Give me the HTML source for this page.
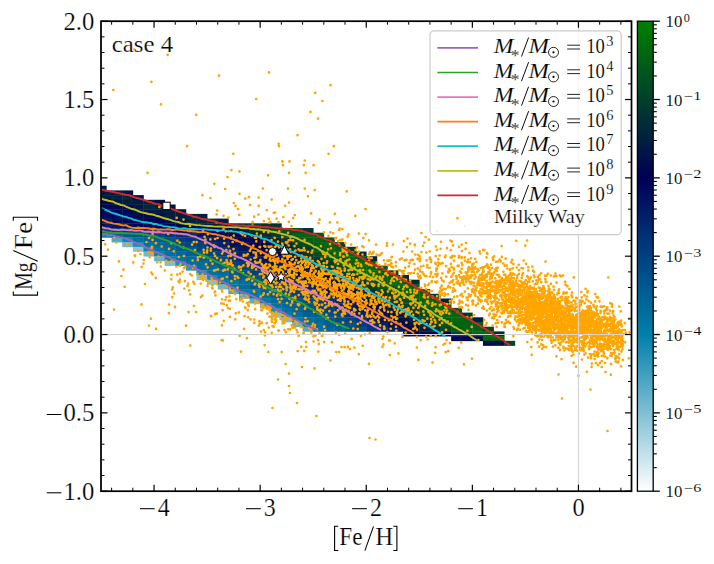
<!DOCTYPE html>
<html><head><meta charset="utf-8"><title>chart</title><style>html,body{margin:0;padding:0;background:#fff;}body{width:714px;height:564px;overflow:hidden;position:relative;font-family:"Liberation Serif",serif;}text{stroke:#fff;stroke-width:.22px}.lg text{stroke-width:.14px}.cbl{stroke-width:.1px}</style></head><body>
<svg width="714" height="564" viewBox="0 0 714 564" style="position:absolute;left:0;top:0;font-family:'Liberation Serif',serif">
<rect width="714" height="564" fill="#fff"/>
<g>
<rect x="101.00" y="185.70" width="5.65" height="5.05" fill="#001845"/>
<rect x="101.00" y="190.40" width="10.96" height="5.05" fill="#001e41"/>
<rect x="101.00" y="195.10" width="10.96" height="5.05" fill="#001845"/>
<rect x="101.00" y="199.80" width="10.96" height="5.05" fill="#000d4d"/>
<rect x="101.00" y="204.50" width="10.96" height="5.05" fill="#000256"/>
<rect x="101.00" y="209.20" width="10.96" height="5.05" fill="#00075a"/>
<rect x="101.00" y="213.90" width="10.96" height="5.05" fill="#000b5d"/>
<rect x="101.00" y="218.60" width="10.96" height="5.05" fill="#001664"/>
<rect x="101.00" y="223.30" width="10.96" height="5.05" fill="#001f6a"/>
<rect x="101.00" y="228.00" width="10.96" height="5.05" fill="#004382"/>
<rect x="101.00" y="232.70" width="10.96" height="5.05" fill="#0b85ae"/>
<rect x="111.61" y="190.40" width="10.96" height="5.05" fill="#001f41"/>
<rect x="111.61" y="195.10" width="10.96" height="5.05" fill="#00223e"/>
<rect x="111.61" y="199.80" width="10.96" height="5.05" fill="#001348"/>
<rect x="111.61" y="204.50" width="10.96" height="5.05" fill="#000850"/>
<rect x="111.61" y="209.20" width="10.96" height="5.05" fill="#000659"/>
<rect x="111.61" y="213.90" width="10.96" height="5.05" fill="#000659"/>
<rect x="111.61" y="218.60" width="10.96" height="5.05" fill="#000c5d"/>
<rect x="111.61" y="223.30" width="10.96" height="5.05" fill="#001765"/>
<rect x="111.61" y="228.00" width="10.96" height="5.05" fill="#003c7d"/>
<rect x="111.61" y="232.70" width="10.96" height="5.05" fill="#006699"/>
<rect x="111.61" y="237.40" width="10.96" height="5.05" fill="#50a8c5"/>
<rect x="122.22" y="190.40" width="10.96" height="5.05" fill="#001249"/>
<rect x="122.22" y="195.10" width="10.96" height="5.05" fill="#00283b"/>
<rect x="122.22" y="199.80" width="10.96" height="5.05" fill="#001d42"/>
<rect x="122.22" y="204.50" width="10.96" height="5.05" fill="#000b4d"/>
<rect x="122.22" y="209.20" width="10.96" height="5.05" fill="#000552"/>
<rect x="122.22" y="213.90" width="10.96" height="5.05" fill="#000c5d"/>
<rect x="122.22" y="218.60" width="10.96" height="5.05" fill="#000659"/>
<rect x="122.22" y="223.30" width="10.96" height="5.05" fill="#001160"/>
<rect x="122.22" y="228.00" width="10.96" height="5.05" fill="#003578"/>
<rect x="122.22" y="232.70" width="10.96" height="5.05" fill="#005d93"/>
<rect x="122.22" y="237.40" width="10.96" height="5.05" fill="#0f87af"/>
<rect x="122.22" y="242.10" width="10.96" height="5.05" fill="#6fb7cf"/>
<rect x="132.83" y="195.10" width="10.96" height="5.05" fill="#001348"/>
<rect x="132.83" y="199.80" width="10.96" height="5.05" fill="#001d41"/>
<rect x="132.83" y="204.50" width="10.96" height="5.05" fill="#001646"/>
<rect x="132.83" y="209.20" width="10.96" height="5.05" fill="#001547"/>
<rect x="132.83" y="213.90" width="10.96" height="5.05" fill="#000b4e"/>
<rect x="132.83" y="218.60" width="10.96" height="5.05" fill="#00085a"/>
<rect x="132.83" y="223.30" width="10.96" height="5.05" fill="#000a5c"/>
<rect x="132.83" y="228.00" width="10.96" height="5.05" fill="#002d73"/>
<rect x="132.83" y="232.70" width="10.96" height="5.05" fill="#005990"/>
<rect x="132.83" y="237.40" width="10.96" height="5.05" fill="#0070a0"/>
<rect x="132.83" y="242.10" width="10.96" height="5.05" fill="#1c8eb3"/>
<rect x="132.83" y="246.80" width="10.96" height="5.05" fill="#89c4d8"/>
<rect x="143.44" y="199.80" width="10.96" height="5.05" fill="#00213f"/>
<rect x="143.44" y="204.50" width="10.96" height="5.05" fill="#00283a"/>
<rect x="143.44" y="209.20" width="10.96" height="5.05" fill="#001746"/>
<rect x="143.44" y="213.90" width="10.96" height="5.05" fill="#000850"/>
<rect x="143.44" y="218.60" width="10.96" height="5.05" fill="#000651"/>
<rect x="143.44" y="223.30" width="10.96" height="5.05" fill="#000a5c"/>
<rect x="143.44" y="228.00" width="10.96" height="5.05" fill="#00236c"/>
<rect x="143.44" y="232.70" width="10.96" height="5.05" fill="#00538d"/>
<rect x="143.44" y="237.40" width="10.96" height="5.05" fill="#006397"/>
<rect x="143.44" y="242.10" width="10.96" height="5.05" fill="#0071a1"/>
<rect x="143.44" y="246.80" width="10.96" height="5.05" fill="#0f87af"/>
<rect x="143.44" y="251.50" width="10.96" height="5.05" fill="#70b8cf"/>
<rect x="154.05" y="199.80" width="10.96" height="5.05" fill="#00114a"/>
<rect x="154.05" y="204.50" width="10.96" height="5.05" fill="#00243d"/>
<rect x="154.05" y="209.20" width="10.96" height="5.05" fill="#001c42"/>
<rect x="154.05" y="213.90" width="10.96" height="5.05" fill="#000a4f"/>
<rect x="154.05" y="218.60" width="10.96" height="5.05" fill="#000452"/>
<rect x="154.05" y="223.30" width="10.96" height="5.05" fill="#000156"/>
<rect x="154.05" y="228.00" width="10.96" height="5.05" fill="#001d68"/>
<rect x="154.05" y="232.70" width="10.96" height="5.05" fill="#004684"/>
<rect x="154.05" y="237.40" width="10.96" height="5.05" fill="#005f94"/>
<rect x="154.05" y="242.10" width="10.96" height="5.05" fill="#006a9c"/>
<rect x="154.05" y="246.80" width="10.96" height="5.05" fill="#0073a1"/>
<rect x="154.05" y="251.50" width="10.96" height="5.05" fill="#0b85ae"/>
<rect x="154.05" y="256.20" width="10.96" height="5.05" fill="#67b3cc"/>
<rect x="164.66" y="204.50" width="10.96" height="5.05" fill="#001646"/>
<rect x="164.66" y="209.20" width="10.96" height="5.05" fill="#00203f"/>
<rect x="164.66" y="213.90" width="10.96" height="5.05" fill="#001f40"/>
<rect x="164.66" y="218.60" width="10.96" height="5.05" fill="#001249"/>
<rect x="164.66" y="223.30" width="10.96" height="5.05" fill="#000357"/>
<rect x="164.66" y="228.00" width="10.96" height="5.05" fill="#001563"/>
<rect x="164.66" y="232.70" width="10.96" height="5.05" fill="#00377a"/>
<rect x="164.66" y="237.40" width="10.96" height="5.05" fill="#004e89"/>
<rect x="164.66" y="242.10" width="10.96" height="5.05" fill="#006397"/>
<rect x="164.66" y="246.80" width="10.96" height="5.05" fill="#006598"/>
<rect x="164.66" y="251.50" width="10.96" height="5.05" fill="#006f9f"/>
<rect x="164.66" y="256.20" width="10.96" height="5.05" fill="#0482ab"/>
<rect x="164.66" y="260.90" width="10.96" height="5.05" fill="#7dbed4"/>
<rect x="175.27" y="209.20" width="10.96" height="5.05" fill="#001b43"/>
<rect x="175.27" y="213.90" width="10.96" height="5.05" fill="#001e41"/>
<rect x="175.27" y="218.60" width="10.96" height="5.05" fill="#001547"/>
<rect x="175.27" y="223.30" width="10.96" height="5.05" fill="#00094f"/>
<rect x="175.27" y="228.00" width="10.96" height="5.05" fill="#000b5c"/>
<rect x="175.27" y="232.70" width="10.96" height="5.05" fill="#003176"/>
<rect x="175.27" y="237.40" width="10.96" height="5.05" fill="#00407f"/>
<rect x="175.27" y="242.10" width="10.96" height="5.05" fill="#004d88"/>
<rect x="175.27" y="246.80" width="10.96" height="5.05" fill="#005d93"/>
<rect x="175.27" y="251.50" width="10.96" height="5.05" fill="#00689b"/>
<rect x="175.27" y="256.20" width="10.96" height="5.05" fill="#0076a4"/>
<rect x="175.27" y="260.90" width="10.96" height="5.05" fill="#1c8db3"/>
<rect x="185.88" y="213.90" width="10.96" height="5.05" fill="#00293a"/>
<rect x="185.88" y="218.60" width="10.96" height="5.05" fill="#00213f"/>
<rect x="185.88" y="223.30" width="10.96" height="5.05" fill="#000a4e"/>
<rect x="185.88" y="228.00" width="10.96" height="5.05" fill="#000e5e"/>
<rect x="185.88" y="232.70" width="10.96" height="5.05" fill="#002f74"/>
<rect x="185.88" y="237.40" width="10.96" height="5.05" fill="#00397b"/>
<rect x="185.88" y="242.10" width="10.96" height="5.05" fill="#004583"/>
<rect x="185.88" y="246.80" width="10.96" height="5.05" fill="#005890"/>
<rect x="185.88" y="251.50" width="10.96" height="5.05" fill="#005c93"/>
<rect x="185.88" y="256.20" width="10.96" height="5.05" fill="#006c9d"/>
<rect x="185.88" y="260.90" width="10.96" height="5.05" fill="#0070a0"/>
<rect x="185.88" y="265.60" width="10.96" height="5.05" fill="#2b95b8"/>
<rect x="196.49" y="213.90" width="10.96" height="5.05" fill="#001e41"/>
<rect x="196.49" y="218.60" width="10.96" height="5.05" fill="#00253c"/>
<rect x="196.49" y="223.30" width="10.96" height="5.05" fill="#001647"/>
<rect x="196.49" y="228.00" width="10.96" height="5.05" fill="#000558"/>
<rect x="196.49" y="232.70" width="10.96" height="5.05" fill="#001765"/>
<rect x="196.49" y="237.40" width="10.96" height="5.05" fill="#002e74"/>
<rect x="196.49" y="242.10" width="10.96" height="5.05" fill="#004080"/>
<rect x="196.49" y="246.80" width="10.96" height="5.05" fill="#004784"/>
<rect x="196.49" y="251.50" width="10.96" height="5.05" fill="#00538c"/>
<rect x="196.49" y="256.20" width="10.96" height="5.05" fill="#006095"/>
<rect x="196.49" y="260.90" width="10.96" height="5.05" fill="#006c9d"/>
<rect x="196.49" y="265.60" width="10.96" height="5.05" fill="#006d9e"/>
<rect x="196.49" y="270.30" width="10.96" height="5.05" fill="#1f8fb4"/>
<rect x="196.49" y="275.00" width="10.96" height="5.05" fill="#89c4d8"/>
<rect x="207.10" y="218.60" width="10.96" height="5.05" fill="#002c37"/>
<rect x="207.10" y="223.30" width="10.96" height="5.05" fill="#00223e"/>
<rect x="207.10" y="228.00" width="10.96" height="5.05" fill="#000055"/>
<rect x="207.10" y="232.70" width="10.96" height="5.05" fill="#000f5f"/>
<rect x="207.10" y="237.40" width="10.96" height="5.05" fill="#001f69"/>
<rect x="207.10" y="242.10" width="10.96" height="5.05" fill="#002d73"/>
<rect x="207.10" y="246.80" width="10.96" height="5.05" fill="#00377a"/>
<rect x="207.10" y="251.50" width="10.96" height="5.05" fill="#004684"/>
<rect x="207.10" y="256.20" width="10.96" height="5.05" fill="#00558e"/>
<rect x="207.10" y="260.90" width="10.96" height="5.05" fill="#005f95"/>
<rect x="207.10" y="265.60" width="10.96" height="5.05" fill="#006a9c"/>
<rect x="207.10" y="270.30" width="10.96" height="5.05" fill="#0072a1"/>
<rect x="207.10" y="275.00" width="10.96" height="5.05" fill="#1289b0"/>
<rect x="207.10" y="279.70" width="10.96" height="5.05" fill="#86c2d7"/>
<rect x="217.71" y="218.60" width="10.96" height="5.05" fill="#001c42"/>
<rect x="217.71" y="223.30" width="10.96" height="5.05" fill="#002b38"/>
<rect x="217.71" y="228.00" width="10.96" height="5.05" fill="#000055"/>
<rect x="217.71" y="232.70" width="10.96" height="5.05" fill="#00095b"/>
<rect x="217.71" y="237.40" width="10.96" height="5.05" fill="#001966"/>
<rect x="217.71" y="242.10" width="10.96" height="5.05" fill="#00206a"/>
<rect x="217.71" y="246.80" width="10.96" height="5.05" fill="#003075"/>
<rect x="217.71" y="251.50" width="10.96" height="5.05" fill="#003e7e"/>
<rect x="217.71" y="256.20" width="10.96" height="5.05" fill="#004b87"/>
<rect x="217.71" y="260.90" width="10.96" height="5.05" fill="#00558e"/>
<rect x="217.71" y="265.60" width="10.96" height="5.05" fill="#005f94"/>
<rect x="217.71" y="270.30" width="10.96" height="5.05" fill="#006b9c"/>
<rect x="217.71" y="275.00" width="10.96" height="5.05" fill="#0073a2"/>
<rect x="217.71" y="279.70" width="10.96" height="5.05" fill="#0582ac"/>
<rect x="217.71" y="284.40" width="10.96" height="5.05" fill="#6cb6ce"/>
<rect x="228.32" y="223.30" width="10.96" height="5.05" fill="#003134"/>
<rect x="228.32" y="228.00" width="10.96" height="5.05" fill="#001349"/>
<rect x="228.32" y="232.70" width="10.96" height="5.05" fill="#000353"/>
<rect x="228.32" y="237.40" width="10.96" height="5.05" fill="#00095b"/>
<rect x="228.32" y="242.10" width="10.96" height="5.05" fill="#001160"/>
<rect x="228.32" y="246.80" width="10.96" height="5.05" fill="#002870"/>
<rect x="228.32" y="251.50" width="10.96" height="5.05" fill="#002a71"/>
<rect x="228.32" y="256.20" width="10.96" height="5.05" fill="#003578"/>
<rect x="228.32" y="260.90" width="10.96" height="5.05" fill="#004281"/>
<rect x="228.32" y="265.60" width="10.96" height="5.05" fill="#00568e"/>
<rect x="228.32" y="270.30" width="10.96" height="5.05" fill="#005b92"/>
<rect x="228.32" y="275.00" width="10.96" height="5.05" fill="#005f95"/>
<rect x="228.32" y="279.70" width="10.96" height="5.05" fill="#0076a4"/>
<rect x="228.32" y="284.40" width="10.96" height="5.05" fill="#0078a5"/>
<rect x="228.32" y="289.10" width="10.96" height="5.05" fill="#4da6c4"/>
<rect x="238.93" y="223.30" width="10.96" height="5.05" fill="#003830"/>
<rect x="238.93" y="228.00" width="10.96" height="5.05" fill="#00233e"/>
<rect x="238.93" y="232.70" width="10.96" height="5.05" fill="#000651"/>
<rect x="238.93" y="237.40" width="10.96" height="5.05" fill="#000558"/>
<rect x="238.93" y="242.10" width="10.96" height="5.05" fill="#001160"/>
<rect x="238.93" y="246.80" width="10.96" height="5.05" fill="#001764"/>
<rect x="238.93" y="251.50" width="10.96" height="5.05" fill="#00236c"/>
<rect x="238.93" y="256.20" width="10.96" height="5.05" fill="#002970"/>
<rect x="238.93" y="260.90" width="10.96" height="5.05" fill="#003c7d"/>
<rect x="238.93" y="265.60" width="10.96" height="5.05" fill="#004684"/>
<rect x="238.93" y="270.30" width="10.96" height="5.05" fill="#004e89"/>
<rect x="238.93" y="275.00" width="10.96" height="5.05" fill="#005a91"/>
<rect x="238.93" y="279.70" width="10.96" height="5.05" fill="#006b9d"/>
<rect x="238.93" y="284.40" width="10.96" height="5.05" fill="#006d9e"/>
<rect x="238.93" y="289.10" width="10.96" height="5.05" fill="#007ca7"/>
<rect x="238.93" y="293.80" width="10.96" height="5.05" fill="#56aac7"/>
<rect x="249.54" y="223.30" width="10.96" height="5.05" fill="#003b2e"/>
<rect x="249.54" y="228.00" width="10.96" height="5.05" fill="#003432"/>
<rect x="249.54" y="232.70" width="10.96" height="5.05" fill="#001646"/>
<rect x="249.54" y="237.40" width="10.96" height="5.05" fill="#000254"/>
<rect x="249.54" y="242.10" width="10.96" height="5.05" fill="#00075a"/>
<rect x="249.54" y="246.80" width="10.96" height="5.05" fill="#000a5b"/>
<rect x="249.54" y="251.50" width="10.96" height="5.05" fill="#001865"/>
<rect x="249.54" y="256.20" width="10.96" height="5.05" fill="#001d68"/>
<rect x="249.54" y="260.90" width="10.96" height="5.05" fill="#002a71"/>
<rect x="249.54" y="265.60" width="10.96" height="5.05" fill="#003a7c"/>
<rect x="249.54" y="270.30" width="10.96" height="5.05" fill="#00407f"/>
<rect x="249.54" y="275.00" width="10.96" height="5.05" fill="#00538d"/>
<rect x="249.54" y="279.70" width="10.96" height="5.05" fill="#006397"/>
<rect x="249.54" y="284.40" width="10.96" height="5.05" fill="#005e94"/>
<rect x="249.54" y="289.10" width="10.96" height="5.05" fill="#0078a5"/>
<rect x="249.54" y="293.80" width="10.96" height="5.05" fill="#0078a5"/>
<rect x="249.54" y="298.50" width="10.96" height="5.05" fill="#59acc8"/>
<rect x="260.15" y="223.30" width="10.96" height="5.05" fill="#003830"/>
<rect x="260.15" y="228.00" width="10.96" height="5.05" fill="#00382f"/>
<rect x="260.15" y="232.70" width="10.96" height="5.05" fill="#002e37"/>
<rect x="260.15" y="237.40" width="10.96" height="5.05" fill="#00114a"/>
<rect x="260.15" y="242.10" width="10.96" height="5.05" fill="#000651"/>
<rect x="260.15" y="246.80" width="10.96" height="5.05" fill="#000156"/>
<rect x="260.15" y="251.50" width="10.96" height="5.05" fill="#00085a"/>
<rect x="260.15" y="256.20" width="10.96" height="5.05" fill="#001462"/>
<rect x="260.15" y="260.90" width="10.96" height="5.05" fill="#001c68"/>
<rect x="260.15" y="265.60" width="10.96" height="5.05" fill="#002c72"/>
<rect x="260.15" y="270.30" width="10.96" height="5.05" fill="#003679"/>
<rect x="260.15" y="275.00" width="10.96" height="5.05" fill="#004583"/>
<rect x="260.15" y="279.70" width="10.96" height="5.05" fill="#004e89"/>
<rect x="260.15" y="284.40" width="10.96" height="5.05" fill="#00568e"/>
<rect x="260.15" y="289.10" width="10.96" height="5.05" fill="#006498"/>
<rect x="260.15" y="293.80" width="10.96" height="5.05" fill="#006c9d"/>
<rect x="260.15" y="298.50" width="10.96" height="5.05" fill="#007aa6"/>
<rect x="260.15" y="303.20" width="10.96" height="5.05" fill="#4aa4c3"/>
<rect x="270.76" y="223.30" width="10.96" height="5.05" fill="#003333"/>
<rect x="270.76" y="228.00" width="10.96" height="5.05" fill="#00501f"/>
<rect x="270.76" y="232.70" width="10.96" height="5.05" fill="#003c2d"/>
<rect x="270.76" y="237.40" width="10.96" height="5.05" fill="#002a39"/>
<rect x="270.76" y="242.10" width="10.96" height="5.05" fill="#00213f"/>
<rect x="270.76" y="246.80" width="10.96" height="5.05" fill="#000e4c"/>
<rect x="270.76" y="251.50" width="10.96" height="5.05" fill="#000254"/>
<rect x="270.76" y="256.20" width="10.96" height="5.05" fill="#000c5d"/>
<rect x="270.76" y="260.90" width="10.96" height="5.05" fill="#001362"/>
<rect x="270.76" y="265.60" width="10.96" height="5.05" fill="#001b67"/>
<rect x="270.76" y="270.30" width="10.96" height="5.05" fill="#002c72"/>
<rect x="270.76" y="275.00" width="10.96" height="5.05" fill="#003478"/>
<rect x="270.76" y="279.70" width="10.96" height="5.05" fill="#003c7d"/>
<rect x="270.76" y="284.40" width="10.96" height="5.05" fill="#004b87"/>
<rect x="270.76" y="289.10" width="10.96" height="5.05" fill="#005890"/>
<rect x="270.76" y="293.80" width="10.96" height="5.05" fill="#005d93"/>
<rect x="270.76" y="298.50" width="10.96" height="5.05" fill="#006b9c"/>
<rect x="270.76" y="303.20" width="10.96" height="5.05" fill="#0074a2"/>
<rect x="270.76" y="307.90" width="10.96" height="5.05" fill="#1d8eb4"/>
<rect x="270.76" y="312.60" width="10.96" height="5.05" fill="#80c0d5"/>
<rect x="281.37" y="228.00" width="10.96" height="5.05" fill="#00541d"/>
<rect x="281.37" y="232.70" width="10.96" height="5.05" fill="#004726"/>
<rect x="281.37" y="237.40" width="10.96" height="5.05" fill="#003c2d"/>
<rect x="281.37" y="242.10" width="10.96" height="5.05" fill="#002d37"/>
<rect x="281.37" y="246.80" width="10.96" height="5.05" fill="#001945"/>
<rect x="281.37" y="251.50" width="10.96" height="5.05" fill="#001845"/>
<rect x="281.37" y="256.20" width="10.96" height="5.05" fill="#000751"/>
<rect x="281.37" y="260.90" width="10.96" height="5.05" fill="#000357"/>
<rect x="281.37" y="265.60" width="10.96" height="5.05" fill="#001664"/>
<rect x="281.37" y="270.30" width="10.96" height="5.05" fill="#001865"/>
<rect x="281.37" y="275.00" width="10.96" height="5.05" fill="#002a71"/>
<rect x="281.37" y="279.70" width="10.96" height="5.05" fill="#003478"/>
<rect x="281.37" y="284.40" width="10.96" height="5.05" fill="#004483"/>
<rect x="281.37" y="289.10" width="10.96" height="5.05" fill="#004b87"/>
<rect x="281.37" y="293.80" width="10.96" height="5.05" fill="#00578f"/>
<rect x="281.37" y="298.50" width="10.96" height="5.05" fill="#006095"/>
<rect x="281.37" y="303.20" width="10.96" height="5.05" fill="#00689a"/>
<rect x="281.37" y="307.90" width="10.96" height="5.05" fill="#0073a2"/>
<rect x="281.37" y="312.60" width="10.96" height="5.05" fill="#007faa"/>
<rect x="281.37" y="317.30" width="10.96" height="5.05" fill="#79bcd2"/>
<rect x="291.98" y="228.00" width="10.96" height="5.05" fill="#00541d"/>
<rect x="291.98" y="232.70" width="10.96" height="5.05" fill="#005d17"/>
<rect x="291.98" y="237.40" width="10.96" height="5.05" fill="#004f21"/>
<rect x="291.98" y="242.10" width="10.96" height="5.05" fill="#004428"/>
<rect x="291.98" y="246.80" width="10.96" height="5.05" fill="#003532"/>
<rect x="291.98" y="251.50" width="10.96" height="5.05" fill="#001e41"/>
<rect x="291.98" y="256.20" width="10.96" height="5.05" fill="#001944"/>
<rect x="291.98" y="260.90" width="10.96" height="5.05" fill="#00104a"/>
<rect x="291.98" y="265.60" width="10.96" height="5.05" fill="#000257"/>
<rect x="291.98" y="270.30" width="10.96" height="5.05" fill="#001160"/>
<rect x="291.98" y="275.00" width="10.96" height="5.05" fill="#001a66"/>
<rect x="291.98" y="279.70" width="10.96" height="5.05" fill="#002a71"/>
<rect x="291.98" y="284.40" width="10.96" height="5.05" fill="#003176"/>
<rect x="291.98" y="289.10" width="10.96" height="5.05" fill="#003f7f"/>
<rect x="291.98" y="293.80" width="10.96" height="5.05" fill="#004583"/>
<rect x="291.98" y="298.50" width="10.96" height="5.05" fill="#00538d"/>
<rect x="291.98" y="303.20" width="10.96" height="5.05" fill="#006296"/>
<rect x="291.98" y="307.90" width="10.96" height="5.05" fill="#006699"/>
<rect x="291.98" y="312.60" width="10.96" height="5.05" fill="#006e9e"/>
<rect x="291.98" y="317.30" width="10.96" height="5.05" fill="#007da8"/>
<rect x="291.98" y="322.00" width="10.96" height="5.05" fill="#65b2cc"/>
<rect x="302.59" y="228.00" width="10.96" height="5.05" fill="#003531"/>
<rect x="302.59" y="232.70" width="10.96" height="5.05" fill="#006412"/>
<rect x="302.59" y="237.40" width="10.96" height="5.05" fill="#005e16"/>
<rect x="302.59" y="242.10" width="10.96" height="5.05" fill="#004b23"/>
<rect x="302.59" y="246.80" width="10.96" height="5.05" fill="#003f2b"/>
<rect x="302.59" y="251.50" width="10.96" height="5.05" fill="#003830"/>
<rect x="302.59" y="256.20" width="10.96" height="5.05" fill="#002e36"/>
<rect x="302.59" y="260.90" width="10.96" height="5.05" fill="#001d42"/>
<rect x="302.59" y="265.60" width="10.96" height="5.05" fill="#00114a"/>
<rect x="302.59" y="270.30" width="10.96" height="5.05" fill="#000457"/>
<rect x="302.59" y="275.00" width="10.96" height="5.05" fill="#001261"/>
<rect x="302.59" y="279.70" width="10.96" height="5.05" fill="#001664"/>
<rect x="302.59" y="284.40" width="10.96" height="5.05" fill="#00246d"/>
<rect x="302.59" y="289.10" width="10.96" height="5.05" fill="#003277"/>
<rect x="302.59" y="293.80" width="10.96" height="5.05" fill="#00387a"/>
<rect x="302.59" y="298.50" width="10.96" height="5.05" fill="#004c87"/>
<rect x="302.59" y="303.20" width="10.96" height="5.05" fill="#00548d"/>
<rect x="302.59" y="307.90" width="10.96" height="5.05" fill="#005990"/>
<rect x="302.59" y="312.60" width="10.96" height="5.05" fill="#005f94"/>
<rect x="302.59" y="317.30" width="10.96" height="5.05" fill="#00709f"/>
<rect x="302.59" y="322.00" width="10.96" height="5.05" fill="#0073a2"/>
<rect x="302.59" y="326.70" width="10.96" height="5.05" fill="#54aac6"/>
<rect x="313.20" y="232.70" width="10.96" height="5.05" fill="#00581b"/>
<rect x="313.20" y="237.40" width="10.96" height="5.05" fill="#006710"/>
<rect x="313.20" y="242.10" width="10.96" height="5.05" fill="#006015"/>
<rect x="313.20" y="246.80" width="10.96" height="5.05" fill="#005b18"/>
<rect x="313.20" y="251.50" width="10.96" height="5.05" fill="#00501f"/>
<rect x="313.20" y="256.20" width="10.96" height="5.05" fill="#003f2b"/>
<rect x="313.20" y="260.90" width="10.96" height="5.05" fill="#003234"/>
<rect x="313.20" y="265.60" width="10.96" height="5.05" fill="#00293a"/>
<rect x="313.20" y="270.30" width="10.96" height="5.05" fill="#000f4b"/>
<rect x="313.20" y="275.00" width="10.96" height="5.05" fill="#000156"/>
<rect x="313.20" y="279.70" width="10.96" height="5.05" fill="#000d5e"/>
<rect x="313.20" y="284.40" width="10.96" height="5.05" fill="#001c68"/>
<rect x="313.20" y="289.10" width="10.96" height="5.05" fill="#001f6a"/>
<rect x="313.20" y="293.80" width="10.96" height="5.05" fill="#003075"/>
<rect x="313.20" y="298.50" width="10.96" height="5.05" fill="#003e7e"/>
<rect x="313.20" y="303.20" width="10.96" height="5.05" fill="#004785"/>
<rect x="313.20" y="307.90" width="10.96" height="5.05" fill="#004482"/>
<rect x="313.20" y="312.60" width="10.96" height="5.05" fill="#005c92"/>
<rect x="313.20" y="317.30" width="10.96" height="5.05" fill="#006799"/>
<rect x="313.20" y="322.00" width="10.96" height="5.05" fill="#006d9e"/>
<rect x="313.20" y="326.70" width="10.96" height="5.05" fill="#0076a4"/>
<rect x="323.81" y="237.40" width="10.96" height="5.05" fill="#00561b"/>
<rect x="323.81" y="242.10" width="10.96" height="5.05" fill="#006412"/>
<rect x="323.81" y="246.80" width="10.96" height="5.05" fill="#006512"/>
<rect x="323.81" y="251.50" width="10.96" height="5.05" fill="#006114"/>
<rect x="323.81" y="256.20" width="10.96" height="5.05" fill="#00521f"/>
<rect x="323.81" y="260.90" width="10.96" height="5.05" fill="#003d2c"/>
<rect x="323.81" y="265.60" width="10.96" height="5.05" fill="#00392f"/>
<rect x="323.81" y="270.30" width="10.96" height="5.05" fill="#00293a"/>
<rect x="323.81" y="275.00" width="10.96" height="5.05" fill="#001646"/>
<rect x="323.81" y="279.70" width="10.96" height="5.05" fill="#000750"/>
<rect x="323.81" y="284.40" width="10.96" height="5.05" fill="#000659"/>
<rect x="323.81" y="289.10" width="10.96" height="5.05" fill="#001764"/>
<rect x="323.81" y="293.80" width="10.96" height="5.05" fill="#00266e"/>
<rect x="323.81" y="298.50" width="10.96" height="5.05" fill="#002d73"/>
<rect x="323.81" y="303.20" width="10.96" height="5.05" fill="#003e7e"/>
<rect x="323.81" y="307.90" width="10.96" height="5.05" fill="#004080"/>
<rect x="323.81" y="312.60" width="10.96" height="5.05" fill="#00518b"/>
<rect x="323.81" y="317.30" width="10.96" height="5.05" fill="#00568e"/>
<rect x="323.81" y="322.00" width="10.96" height="5.05" fill="#006196"/>
<rect x="323.81" y="326.70" width="10.96" height="5.05" fill="#006598"/>
<rect x="334.42" y="242.10" width="10.96" height="5.05" fill="#004825"/>
<rect x="334.42" y="246.80" width="10.96" height="5.05" fill="#006114"/>
<rect x="334.42" y="251.50" width="10.96" height="5.05" fill="#00690f"/>
<rect x="334.42" y="256.20" width="10.96" height="5.05" fill="#005e17"/>
<rect x="334.42" y="260.90" width="10.96" height="5.05" fill="#00541d"/>
<rect x="334.42" y="265.60" width="10.96" height="5.05" fill="#004825"/>
<rect x="334.42" y="270.30" width="10.96" height="5.05" fill="#003a2e"/>
<rect x="334.42" y="275.00" width="10.96" height="5.05" fill="#002f36"/>
<rect x="334.42" y="279.70" width="10.96" height="5.05" fill="#001746"/>
<rect x="334.42" y="284.40" width="10.96" height="5.05" fill="#001547"/>
<rect x="334.42" y="289.10" width="10.96" height="5.05" fill="#000452"/>
<rect x="334.42" y="293.80" width="10.96" height="5.05" fill="#001261"/>
<rect x="334.42" y="298.50" width="10.96" height="5.05" fill="#00276f"/>
<rect x="334.42" y="303.20" width="10.96" height="5.05" fill="#002c72"/>
<rect x="334.42" y="307.90" width="10.96" height="5.05" fill="#003679"/>
<rect x="334.42" y="312.60" width="10.96" height="5.05" fill="#004a86"/>
<rect x="334.42" y="317.30" width="10.96" height="5.05" fill="#004b87"/>
<rect x="334.42" y="322.00" width="10.96" height="5.05" fill="#00568e"/>
<rect x="334.42" y="326.70" width="10.96" height="5.05" fill="#006397"/>
<rect x="345.03" y="246.80" width="10.96" height="5.05" fill="#003e2b"/>
<rect x="345.03" y="251.50" width="10.96" height="5.05" fill="#00690f"/>
<rect x="345.03" y="256.20" width="10.96" height="5.05" fill="#00690f"/>
<rect x="345.03" y="260.90" width="10.96" height="5.05" fill="#006511"/>
<rect x="345.03" y="265.60" width="10.96" height="5.05" fill="#00571b"/>
<rect x="345.03" y="270.30" width="10.96" height="5.05" fill="#004726"/>
<rect x="345.03" y="275.00" width="10.96" height="5.05" fill="#003a2e"/>
<rect x="345.03" y="279.70" width="10.96" height="5.05" fill="#002c37"/>
<rect x="345.03" y="284.40" width="10.96" height="5.05" fill="#001a44"/>
<rect x="345.03" y="289.10" width="10.96" height="5.05" fill="#000551"/>
<rect x="345.03" y="293.80" width="10.96" height="5.05" fill="#000254"/>
<rect x="345.03" y="298.50" width="10.96" height="5.05" fill="#001462"/>
<rect x="345.03" y="303.20" width="10.96" height="5.05" fill="#001b67"/>
<rect x="345.03" y="307.90" width="10.96" height="5.05" fill="#00226b"/>
<rect x="345.03" y="312.60" width="10.96" height="5.05" fill="#003578"/>
<rect x="345.03" y="317.30" width="10.96" height="5.05" fill="#004482"/>
<rect x="345.03" y="322.00" width="10.96" height="5.05" fill="#00508a"/>
<rect x="345.03" y="326.70" width="10.96" height="5.05" fill="#00518b"/>
<rect x="355.64" y="251.50" width="10.96" height="5.05" fill="#002b38"/>
<rect x="355.64" y="256.20" width="10.96" height="5.05" fill="#006611"/>
<rect x="355.64" y="260.90" width="10.96" height="5.05" fill="#006e0c"/>
<rect x="355.64" y="265.60" width="10.96" height="5.05" fill="#006611"/>
<rect x="355.64" y="270.30" width="10.96" height="5.05" fill="#005a19"/>
<rect x="355.64" y="275.00" width="10.96" height="5.05" fill="#004925"/>
<rect x="355.64" y="279.70" width="10.96" height="5.05" fill="#003134"/>
<rect x="355.64" y="284.40" width="10.96" height="5.05" fill="#00283a"/>
<rect x="355.64" y="289.10" width="10.96" height="5.05" fill="#001f40"/>
<rect x="355.64" y="293.80" width="10.96" height="5.05" fill="#00114a"/>
<rect x="355.64" y="298.50" width="10.96" height="5.05" fill="#000552"/>
<rect x="355.64" y="303.20" width="10.96" height="5.05" fill="#000b5c"/>
<rect x="355.64" y="307.90" width="10.96" height="5.05" fill="#001764"/>
<rect x="355.64" y="312.60" width="10.96" height="5.05" fill="#00226c"/>
<rect x="355.64" y="317.30" width="10.96" height="5.05" fill="#003578"/>
<rect x="355.64" y="322.00" width="10.96" height="5.05" fill="#003e7e"/>
<rect x="355.64" y="326.70" width="10.96" height="5.05" fill="#004e89"/>
<rect x="366.25" y="256.20" width="10.96" height="5.05" fill="#00213f"/>
<rect x="366.25" y="260.90" width="10.96" height="5.05" fill="#006114"/>
<rect x="366.25" y="265.60" width="10.96" height="5.05" fill="#006b0e"/>
<rect x="366.25" y="270.30" width="10.96" height="5.05" fill="#006e0c"/>
<rect x="366.25" y="275.00" width="10.96" height="5.05" fill="#006114"/>
<rect x="366.25" y="279.70" width="10.96" height="5.05" fill="#004f21"/>
<rect x="366.25" y="284.40" width="10.96" height="5.05" fill="#004328"/>
<rect x="366.25" y="289.10" width="10.96" height="5.05" fill="#002c38"/>
<rect x="366.25" y="293.80" width="10.96" height="5.05" fill="#00253d"/>
<rect x="366.25" y="298.50" width="10.96" height="5.05" fill="#001547"/>
<rect x="366.25" y="303.20" width="10.96" height="5.05" fill="#000055"/>
<rect x="366.25" y="307.90" width="10.96" height="5.05" fill="#000357"/>
<rect x="366.25" y="312.60" width="10.96" height="5.05" fill="#001765"/>
<rect x="366.25" y="317.30" width="10.96" height="5.05" fill="#001f6a"/>
<rect x="366.25" y="322.00" width="10.96" height="5.05" fill="#003075"/>
<rect x="366.25" y="326.70" width="10.96" height="5.05" fill="#003679"/>
<rect x="376.86" y="265.60" width="10.96" height="5.05" fill="#005d17"/>
<rect x="376.86" y="270.30" width="10.96" height="5.05" fill="#006512"/>
<rect x="376.86" y="275.00" width="10.96" height="5.05" fill="#006313"/>
<rect x="376.86" y="279.70" width="10.96" height="5.05" fill="#005e16"/>
<rect x="376.86" y="284.40" width="10.96" height="5.05" fill="#00541d"/>
<rect x="376.86" y="289.10" width="10.96" height="5.05" fill="#004129"/>
<rect x="376.86" y="293.80" width="10.96" height="5.05" fill="#003233"/>
<rect x="376.86" y="298.50" width="10.96" height="5.05" fill="#00283a"/>
<rect x="376.86" y="303.20" width="10.96" height="5.05" fill="#000d4c"/>
<rect x="376.86" y="307.90" width="10.96" height="5.05" fill="#000750"/>
<rect x="376.86" y="312.60" width="10.96" height="5.05" fill="#000a5c"/>
<rect x="376.86" y="317.30" width="10.96" height="5.05" fill="#001160"/>
<rect x="376.86" y="322.00" width="10.96" height="5.05" fill="#00216b"/>
<rect x="376.86" y="326.70" width="10.96" height="5.05" fill="#003075"/>
<rect x="387.47" y="270.30" width="10.96" height="5.05" fill="#004c22"/>
<rect x="387.47" y="275.00" width="10.96" height="5.05" fill="#006114"/>
<rect x="387.47" y="279.70" width="10.96" height="5.05" fill="#006b0e"/>
<rect x="387.47" y="284.40" width="10.96" height="5.05" fill="#005e17"/>
<rect x="387.47" y="289.10" width="10.96" height="5.05" fill="#00521e"/>
<rect x="387.47" y="293.80" width="10.96" height="5.05" fill="#004328"/>
<rect x="387.47" y="298.50" width="10.96" height="5.05" fill="#003b2e"/>
<rect x="387.47" y="303.20" width="10.96" height="5.05" fill="#002939"/>
<rect x="387.47" y="307.90" width="10.96" height="5.05" fill="#001d42"/>
<rect x="387.47" y="312.60" width="10.96" height="5.05" fill="#000e4b"/>
<rect x="387.47" y="317.30" width="10.96" height="5.05" fill="#000559"/>
<rect x="387.47" y="322.00" width="10.96" height="5.05" fill="#000d5e"/>
<rect x="387.47" y="326.70" width="10.96" height="5.05" fill="#001a67"/>
<rect x="398.08" y="275.00" width="5.27" height="5.05" fill="#00581a"/>
<rect x="398.08" y="279.70" width="5.27" height="5.05" fill="#006611"/>
<rect x="398.08" y="284.40" width="5.27" height="5.05" fill="#006810"/>
<rect x="398.08" y="289.10" width="5.27" height="5.05" fill="#006214"/>
<rect x="398.08" y="293.80" width="5.27" height="5.05" fill="#005a19"/>
<rect x="398.08" y="298.50" width="5.27" height="5.05" fill="#00412a"/>
<rect x="398.08" y="303.20" width="5.27" height="5.05" fill="#00382f"/>
<rect x="398.08" y="307.90" width="5.27" height="5.05" fill="#00273b"/>
<rect x="398.08" y="312.60" width="5.27" height="5.05" fill="#001c42"/>
<rect x="398.08" y="317.30" width="5.27" height="5.05" fill="#000c4d"/>
<rect x="398.08" y="322.00" width="5.27" height="5.05" fill="#000055"/>
<rect x="398.08" y="326.70" width="5.27" height="5.05" fill="#001c67"/>
<rect x="403.00" y="275.00" width="6.04" height="5.05" fill="#00283a"/>
<rect x="403.00" y="279.70" width="6.04" height="5.05" fill="#006015"/>
<rect x="403.00" y="284.40" width="6.04" height="5.05" fill="#006a0f"/>
<rect x="403.00" y="289.10" width="6.04" height="5.05" fill="#006313"/>
<rect x="403.00" y="293.80" width="6.04" height="5.05" fill="#00591a"/>
<rect x="403.00" y="298.50" width="6.04" height="5.05" fill="#005020"/>
<rect x="403.00" y="303.20" width="6.04" height="5.05" fill="#004726"/>
<rect x="403.00" y="307.90" width="6.04" height="5.05" fill="#00283b"/>
<rect x="403.00" y="312.60" width="6.04" height="5.05" fill="#00233e"/>
<rect x="403.00" y="317.30" width="6.04" height="5.05" fill="#001646"/>
<rect x="403.00" y="322.00" width="6.04" height="5.05" fill="#000651"/>
<rect x="403.00" y="326.70" width="6.04" height="5.05" fill="#000a5c"/>
<rect x="403.00" y="331.40" width="6.04" height="5.05" fill="#000659"/>
<rect x="408.69" y="279.70" width="10.96" height="5.05" fill="#00263c"/>
<rect x="408.69" y="284.40" width="10.96" height="5.05" fill="#006611"/>
<rect x="408.69" y="289.10" width="10.96" height="5.05" fill="#006e0c"/>
<rect x="408.69" y="293.80" width="10.96" height="5.05" fill="#006711"/>
<rect x="408.69" y="298.50" width="10.96" height="5.05" fill="#00591a"/>
<rect x="408.69" y="303.20" width="10.96" height="5.05" fill="#004f20"/>
<rect x="408.69" y="307.90" width="10.96" height="5.05" fill="#00402a"/>
<rect x="408.69" y="312.60" width="10.96" height="5.05" fill="#003631"/>
<rect x="408.69" y="317.30" width="10.96" height="5.05" fill="#00263c"/>
<rect x="408.69" y="322.00" width="10.96" height="5.05" fill="#001448"/>
<rect x="408.69" y="326.70" width="10.96" height="5.05" fill="#000850"/>
<rect x="408.69" y="331.40" width="10.96" height="5.05" fill="#000659"/>
<rect x="419.30" y="289.10" width="10.96" height="5.05" fill="#00581a"/>
<rect x="419.30" y="293.80" width="10.96" height="5.05" fill="#006c0d"/>
<rect x="419.30" y="298.50" width="10.96" height="5.05" fill="#006611"/>
<rect x="419.30" y="303.20" width="10.96" height="5.05" fill="#006313"/>
<rect x="419.30" y="307.90" width="10.96" height="5.05" fill="#00511f"/>
<rect x="419.30" y="312.60" width="10.96" height="5.05" fill="#004b23"/>
<rect x="419.30" y="317.30" width="10.96" height="5.05" fill="#003c2d"/>
<rect x="419.30" y="322.00" width="10.96" height="5.05" fill="#002a39"/>
<rect x="419.30" y="326.70" width="10.96" height="5.05" fill="#001f40"/>
<rect x="419.30" y="331.40" width="10.96" height="5.05" fill="#000659"/>
<rect x="429.91" y="293.80" width="10.96" height="5.05" fill="#003b2e"/>
<rect x="429.91" y="298.50" width="10.96" height="5.05" fill="#006313"/>
<rect x="429.91" y="303.20" width="10.96" height="5.05" fill="#006a0e"/>
<rect x="429.91" y="307.90" width="10.96" height="5.05" fill="#006412"/>
<rect x="429.91" y="312.60" width="10.96" height="5.05" fill="#005d17"/>
<rect x="429.91" y="317.30" width="10.96" height="5.05" fill="#004b23"/>
<rect x="429.91" y="322.00" width="10.96" height="5.05" fill="#004129"/>
<rect x="429.91" y="326.70" width="10.96" height="5.05" fill="#003333"/>
<rect x="429.91" y="331.40" width="10.96" height="5.05" fill="#000659"/>
<rect x="440.52" y="298.50" width="10.96" height="5.05" fill="#002040"/>
<rect x="440.52" y="303.20" width="10.96" height="5.05" fill="#006611"/>
<rect x="440.52" y="307.90" width="10.96" height="5.05" fill="#006d0c"/>
<rect x="440.52" y="312.60" width="10.96" height="5.05" fill="#00690f"/>
<rect x="440.52" y="317.30" width="10.96" height="5.05" fill="#005c18"/>
<rect x="440.52" y="322.00" width="10.96" height="5.05" fill="#00551c"/>
<rect x="440.52" y="326.70" width="10.96" height="5.05" fill="#004b23"/>
<rect x="440.52" y="331.40" width="10.96" height="5.05" fill="#000659"/>
<rect x="451.13" y="307.90" width="10.96" height="5.05" fill="#00521e"/>
<rect x="451.13" y="312.60" width="10.96" height="5.05" fill="#006611"/>
<rect x="451.13" y="317.30" width="10.96" height="5.05" fill="#00690f"/>
<rect x="451.13" y="322.00" width="10.96" height="5.05" fill="#006511"/>
<rect x="451.13" y="326.70" width="10.96" height="5.05" fill="#00541d"/>
<rect x="451.13" y="331.40" width="10.96" height="5.05" fill="#004c23"/>
<rect x="451.13" y="336.10" width="10.96" height="5.05" fill="#000659"/>
<rect x="461.74" y="312.60" width="10.96" height="5.05" fill="#00392f"/>
<rect x="461.74" y="317.30" width="10.96" height="5.05" fill="#006214"/>
<rect x="461.74" y="322.00" width="10.96" height="5.05" fill="#006413"/>
<rect x="461.74" y="326.70" width="10.96" height="5.05" fill="#006114"/>
<rect x="461.74" y="331.40" width="10.96" height="5.05" fill="#00561c"/>
<rect x="461.74" y="336.10" width="10.96" height="5.05" fill="#000254"/>
<rect x="472.35" y="317.30" width="10.96" height="5.05" fill="#001f40"/>
<rect x="472.35" y="322.00" width="10.96" height="5.05" fill="#005f16"/>
<rect x="472.35" y="326.70" width="10.96" height="5.05" fill="#006313"/>
<rect x="472.35" y="331.40" width="10.96" height="5.05" fill="#006611"/>
<rect x="472.35" y="336.10" width="10.96" height="5.05" fill="#000d4c"/>
<rect x="482.96" y="326.70" width="10.96" height="5.05" fill="#004428"/>
<rect x="482.96" y="331.40" width="10.96" height="5.05" fill="#006d0d"/>
<rect x="482.96" y="336.10" width="10.96" height="5.05" fill="#00690f"/>
<rect x="482.96" y="340.80" width="10.96" height="5.05" fill="#000f4b"/>
<rect x="493.57" y="331.40" width="10.96" height="5.05" fill="#002b39"/>
<rect x="493.57" y="336.10" width="10.96" height="5.05" fill="#00690f"/>
<rect x="493.57" y="340.80" width="10.96" height="5.05" fill="#001348"/>
<rect x="504.18" y="340.80" width="10.96" height="5.05" fill="#004626"/>
</g>
<path d="M621.4 351.6h0M563.1 341.5h0M602.6 326.8h0M590.2 331.5h0M490.2 282.6h0M541.7 312.2h0M585.6 288.8h0M528.7 288.6h0M522.0 323.4h0M540.6 307.2h0M548.9 330.8h0M548.9 311.0h0M555.9 320.7h0M512.6 295.0h0M558.4 322.4h0M563.4 348.0h0M515.2 291.2h0M558.9 343.0h0M555.3 329.2h0M530.6 304.3h0M568.9 338.2h0M517.3 302.8h0M555.4 315.7h0M554.0 289.8h0M538.0 318.8h0M561.5 315.4h0M555.5 307.7h0M542.9 314.2h0M542.7 309.0h0M587.3 314.0h0M465.8 281.9h0M556.4 356.3h0M621.3 339.8h0M538.2 305.7h0M578.4 317.5h0M519.8 294.8h0M522.9 287.0h0M523.0 302.1h0M575.1 331.6h0M611.3 349.0h0M531.9 325.0h0M574.6 310.3h0M583.8 334.6h0M577.9 335.6h0M568.6 301.0h0M548.2 332.0h0M565.7 308.7h0M572.7 336.7h0M548.0 321.2h0M558.7 325.2h0M591.9 323.7h0M550.7 320.0h0M600.6 318.6h0M608.5 341.8h0M607.2 307.3h0M520.2 307.5h0M541.7 336.6h0M554.2 329.9h0M594.5 342.9h0M531.5 303.4h0M539.3 329.6h0M540.8 295.3h0M535.8 321.8h0M561.7 326.4h0M569.9 307.5h0M601.7 361.2h0M559.1 289.3h0M610.1 346.0h0M616.4 362.0h0M530.2 286.0h0M564.6 323.4h0M551.0 340.2h0M534.8 300.2h0M542.1 289.4h0M561.7 296.9h0M546.7 305.4h0M544.0 326.5h0M531.1 314.7h0M545.0 301.5h0M528.5 299.9h0M547.8 318.2h0M505.2 274.7h0M524.5 322.1h0M594.4 306.9h0M614.2 350.1h0M564.5 327.4h0M620.9 337.5h0M590.5 317.5h0M535.0 291.9h0M528.1 327.7h0M609.0 346.5h0M612.2 344.1h0M535.7 311.1h0M590.3 339.9h0M560.3 334.3h0M508.8 275.6h0M554.9 306.8h0M577.8 324.4h0M589.1 315.2h0M582.8 329.5h0M577.5 346.4h0M615.8 361.4h0M572.6 314.4h0M538.1 311.0h0M482.0 283.9h0M550.4 329.2h0M583.8 324.5h0M517.6 297.6h0M554.8 297.2h0M529.2 288.1h0M561.8 328.1h0M563.3 293.7h0M608.1 320.0h0M550.4 293.2h0M496.9 292.8h0M570.3 307.5h0M596.8 352.4h0M576.1 307.0h0M560.9 329.1h0M501.0 286.5h0M570.7 331.6h0M508.4 296.1h0M507.1 294.6h0M550.3 333.1h0M556.0 314.8h0M542.9 297.9h0M503.5 292.3h0M570.8 305.7h0M569.4 288.9h0M487.7 283.5h0M511.0 277.8h0M573.0 320.0h0M542.5 327.5h0M535.9 297.4h0M545.1 329.6h0M573.6 322.2h0M494.1 256.4h0M548.0 323.5h0M564.3 335.7h0M512.1 303.1h0M567.2 314.5h0M580.8 313.1h0M616.3 343.0h0M516.9 309.1h0M496.1 281.3h0M532.0 308.1h0M513.9 284.3h0M608.5 344.5h0M523.2 283.1h0M587.8 323.4h0M565.6 320.9h0M548.3 336.7h0M512.3 302.6h0M583.4 327.5h0M579.3 308.7h0M529.0 303.3h0M495.8 304.0h0M491.3 307.0h0M609.5 320.6h0M572.7 339.2h0M521.7 277.8h0M612.0 330.1h0M622.7 343.5h0M531.6 318.7h0M495.1 269.7h0M581.1 327.6h0M623.6 334.0h0M542.2 340.0h0M588.8 325.7h0M583.2 340.6h0M531.7 339.4h0M537.1 312.8h0M537.3 311.4h0M478.2 298.0h0M547.8 273.8h0M535.7 325.5h0M526.8 317.8h0M558.4 314.0h0M578.5 320.3h0M602.0 327.7h0M568.5 325.3h0M544.8 290.9h0M498.6 303.0h0M594.7 356.0h0M569.4 336.8h0M595.6 332.1h0M599.1 329.8h0M595.1 301.4h0M580.7 326.8h0M571.4 329.1h0M601.1 339.2h0M571.5 334.4h0M501.6 282.8h0M478.0 297.4h0M554.5 296.9h0M609.5 347.0h0M541.9 321.1h0M537.8 309.2h0M622.8 359.9h0M598.4 328.9h0M544.4 312.9h0M489.3 267.5h0M578.7 314.6h0M543.7 347.0h0M539.3 305.3h0M593.2 343.7h0M574.0 337.4h0M591.1 340.8h0M566.8 292.5h0M563.2 326.0h0M523.0 303.4h0M555.8 304.3h0M604.3 306.3h0M527.2 310.9h0M547.4 311.8h0M617.9 331.8h0M576.9 323.3h0M572.2 326.0h0M568.2 337.8h0M609.7 341.1h0M512.8 310.2h0M544.4 327.0h0M473.6 285.7h0M528.2 306.9h0M533.2 317.7h0M539.5 316.5h0M584.4 314.1h0M551.7 305.2h0M542.0 325.7h0M509.8 323.2h0M595.3 294.1h0M603.8 335.2h0M521.9 278.1h0M495.1 290.7h0M582.6 301.2h0M557.0 311.5h0M523.8 305.0h0M512.3 306.6h0M534.9 311.3h0M596.4 343.3h0M511.5 294.0h0M604.0 333.0h0M607.5 325.7h0M555.6 309.4h0M543.0 327.7h0M559.9 314.4h0M579.2 324.8h0M585.3 312.0h0M581.3 302.7h0M547.6 319.8h0M621.1 366.3h0M575.6 324.8h0M511.7 299.2h0M543.7 326.7h0M592.3 323.5h0M551.8 319.2h0M559.1 309.3h0M558.7 314.6h0M599.2 334.2h0M592.1 332.4h0M561.8 305.9h0M610.6 342.8h0M525.2 310.5h0M600.0 320.8h0M583.5 348.4h0M527.6 296.2h0M568.2 332.1h0M543.1 345.1h0M535.0 289.2h0M575.1 301.1h0M581.5 325.1h0M550.7 330.1h0M551.4 341.2h0M597.2 326.7h0M523.2 282.7h0M541.7 333.6h0M528.5 307.4h0M566.4 299.5h0M551.5 305.0h0M526.6 308.5h0M510.3 269.2h0M525.4 323.7h0M542.2 305.3h0M574.6 309.6h0M533.2 328.2h0M486.8 293.2h0M578.3 331.7h0M565.1 281.9h0M501.5 294.9h0M601.8 334.1h0M561.8 328.1h0M565.5 284.8h0M558.7 290.4h0M521.8 316.1h0M553.8 327.8h0M596.3 322.4h0M575.7 321.8h0M605.4 327.8h0M546.8 324.6h0M535.3 335.3h0M576.0 322.5h0M594.8 343.9h0M534.1 271.8h0M500.3 290.2h0M525.6 301.1h0M527.0 299.6h0M573.2 332.4h0M526.2 302.2h0M605.2 348.5h0M509.2 297.0h0M529.8 299.9h0M577.6 324.4h0M531.2 347.1h0M560.7 310.9h0M616.9 346.6h0M567.6 307.8h0M551.6 314.4h0M598.8 331.3h0M513.4 292.3h0M529.4 315.8h0M541.0 310.7h0M609.5 338.8h0M536.2 301.5h0M520.5 289.6h0M581.3 337.6h0M553.6 322.6h0M519.0 313.1h0M572.3 297.3h0M571.5 333.8h0M621.7 337.5h0M555.6 320.4h0M567.9 334.6h0M542.7 304.2h0M555.4 320.9h0M545.8 298.4h0M529.5 319.5h0M566.7 316.2h0M545.6 281.8h0M574.8 311.1h0M551.5 315.6h0M551.7 302.6h0M557.0 334.6h0M472.3 270.1h0M579.0 319.8h0M528.1 298.3h0M570.6 314.7h0M478.7 270.5h0M595.7 338.5h0M563.5 327.2h0M527.1 319.8h0M596.6 323.3h0M595.6 355.4h0M601.1 333.1h0M575.1 335.6h0M562.5 316.8h0M500.8 261.4h0M493.1 296.3h0M505.2 279.8h0M522.7 283.8h0M607.4 349.1h0M606.8 335.4h0M577.7 321.3h0M536.4 321.2h0M583.0 332.6h0M569.4 325.2h0M555.2 314.7h0M520.1 309.7h0M612.7 318.5h0M602.2 324.0h0M577.8 325.9h0M553.7 312.2h0M604.9 356.5h0M516.6 321.6h0M558.1 336.8h0M619.1 333.1h0M580.8 305.0h0M576.5 331.2h0M530.1 322.8h0M480.8 295.3h0M615.6 332.3h0M619.3 354.1h0M561.8 331.9h0M608.7 324.3h0M535.7 292.2h0M560.6 317.5h0M531.0 307.6h0M533.2 312.6h0M509.4 289.3h0M610.9 374.7h0M578.7 322.4h0M530.7 304.4h0M579.5 330.2h0M538.2 315.4h0M558.2 312.6h0M511.7 305.1h0M531.7 298.9h0M566.6 332.3h0M577.2 319.3h0M510.5 285.3h0M541.3 325.9h0M585.9 313.6h0M531.0 301.8h0M617.6 331.9h0M549.5 296.9h0M518.7 295.7h0M531.7 319.8h0M554.2 307.9h0M499.7 276.5h0M537.5 314.8h0M569.5 325.7h0M511.1 301.7h0M548.6 321.1h0M590.6 339.9h0M566.0 310.6h0M543.2 297.3h0M481.1 300.4h0M597.2 332.6h0M611.3 338.4h0M551.7 305.6h0M520.1 287.5h0M554.8 311.2h0M559.9 302.5h0M552.5 303.1h0M607.1 323.9h0M556.0 310.1h0M606.4 317.9h0M578.2 332.1h0M507.5 311.4h0M579.3 313.3h0M550.2 302.0h0M517.0 278.0h0M523.1 304.5h0M556.8 333.1h0M600.4 325.8h0M541.5 291.5h0M547.0 321.7h0M568.9 323.6h0M557.5 325.2h0M579.0 345.8h0M591.8 312.2h0M522.0 308.8h0M548.9 292.2h0M540.7 316.7h0M602.9 355.8h0M622.5 349.3h0M543.5 325.6h0M575.0 333.5h0M557.6 321.0h0M488.1 291.2h0M542.5 289.4h0M468.2 305.7h0M534.1 322.5h0M558.2 316.7h0M592.4 319.0h0M540.1 309.6h0M578.2 325.5h0M563.6 312.8h0M574.0 326.3h0M542.8 316.2h0M619.8 331.0h0M539.1 330.6h0M535.4 309.0h0M523.5 314.8h0M525.0 301.1h0M528.2 308.8h0M549.4 297.8h0M548.3 307.0h0M543.7 308.5h0M576.2 335.3h0M585.6 319.8h0M504.5 324.3h0M512.2 286.6h0M546.6 302.2h0M572.2 320.5h0M529.7 297.6h0M603.3 351.5h0M481.7 289.5h0M599.9 343.7h0M563.5 312.2h0M591.4 321.2h0M565.3 299.2h0M608.9 347.9h0M547.0 326.1h0M584.5 321.2h0M522.5 311.9h0M570.8 331.8h0M558.0 309.7h0M539.4 318.7h0M592.3 314.4h0M589.5 330.1h0M573.4 342.8h0M576.0 327.3h0M544.3 312.9h0M583.5 336.2h0M529.8 292.8h0M526.5 301.5h0M596.6 321.0h0M580.4 313.7h0M479.3 284.8h0M590.4 331.6h0M541.3 310.0h0M600.3 336.3h0M564.7 300.6h0M595.9 341.7h0M577.5 342.5h0M584.6 319.0h0M603.3 334.3h0M612.5 353.1h0M491.9 277.8h0M547.3 303.0h0M546.2 324.5h0M532.8 323.3h0M621.4 324.8h0M614.3 324.5h0M588.5 316.7h0M526.5 308.6h0M566.4 308.6h0M557.3 294.3h0M545.1 302.1h0M580.2 315.3h0M505.9 278.7h0M551.0 307.5h0M554.9 315.4h0M542.9 306.0h0M592.4 314.8h0M555.2 311.4h0M521.8 292.4h0M565.4 324.6h0M611.9 334.1h0M546.3 332.2h0M613.3 321.2h0M569.6 316.0h0M521.7 315.6h0M599.0 323.6h0M564.2 329.7h0M533.0 299.8h0M564.3 293.0h0M535.1 305.8h0M598.0 339.4h0M602.3 336.9h0M502.9 289.4h0M565.0 325.2h0M526.0 295.1h0M541.1 336.0h0M549.0 294.9h0M576.4 325.5h0M531.8 307.2h0M510.8 279.6h0M534.6 294.8h0M571.5 346.2h0M515.0 318.0h0M526.1 292.5h0M546.5 318.5h0M560.3 330.7h0M579.6 314.3h0M553.2 317.7h0M559.5 312.9h0M544.7 323.8h0M620.9 342.3h0M528.8 308.6h0M578.4 321.2h0M618.6 321.9h0M594.6 351.5h0M558.4 329.1h0M593.1 339.6h0M605.9 331.4h0M511.9 308.4h0M570.5 321.7h0M551.5 300.8h0M540.1 309.3h0M586.1 311.1h0M555.7 317.6h0M583.5 351.1h0M606.9 333.8h0M552.7 312.2h0M494.9 298.7h0M622.5 338.7h0M549.0 297.6h0M575.6 318.0h0M537.9 324.9h0M547.8 331.5h0M548.5 305.8h0M553.5 308.6h0M584.1 343.1h0M541.8 314.6h0M512.5 297.8h0M563.2 306.8h0M611.0 323.2h0M534.6 277.1h0M544.2 322.0h0M496.2 314.8h0M493.9 290.7h0M599.1 317.5h0M576.2 339.6h0M558.2 332.6h0M564.5 317.3h0M543.2 312.0h0M490.1 269.8h0M530.1 313.4h0M587.4 292.3h0M585.9 315.4h0M612.1 322.2h0M614.6 352.7h0M618.9 329.4h0M600.6 306.6h0M562.3 323.1h0M579.4 301.0h0M524.5 293.4h0M594.1 313.0h0M568.6 315.8h0M585.6 313.1h0M580.3 349.4h0M526.2 306.9h0M620.1 342.2h0M540.0 309.7h0M552.4 321.6h0M503.6 311.1h0M563.1 314.3h0M529.7 302.4h0M618.2 336.0h0M618.2 322.9h0M581.6 331.1h0M588.9 315.6h0M553.4 305.9h0M537.0 321.9h0M511.5 287.0h0M548.2 318.2h0M573.8 318.8h0M570.8 328.1h0M590.4 310.7h0M511.1 291.5h0M496.6 326.8h0M535.1 322.0h0M568.6 339.2h0M573.8 327.5h0M580.5 316.4h0M513.4 298.2h0M518.6 325.4h0M517.0 330.0h0M517.2 301.0h0M540.9 315.5h0M618.4 324.6h0M563.4 312.5h0M614.1 331.5h0M604.1 313.4h0M531.0 302.5h0M485.7 275.2h0M567.7 327.9h0M552.4 310.6h0M450.5 240.7h0M524.9 319.9h0M536.1 326.6h0M556.0 323.8h0M589.4 313.2h0M497.9 290.7h0M595.5 340.3h0M604.2 324.4h0M529.6 307.5h0M537.0 310.0h0M534.5 327.0h0M540.7 336.9h0M545.5 307.3h0M582.9 334.1h0M532.7 298.3h0M529.3 278.9h0M562.4 308.3h0M574.2 340.3h0M482.2 279.3h0M572.3 331.1h0M558.7 314.1h0M528.2 293.7h0M532.0 311.9h0M521.0 294.9h0M497.3 289.1h0M578.9 318.4h0M545.5 301.6h0M544.4 313.5h0M594.9 314.4h0M560.3 301.1h0M607.4 345.1h0M481.6 284.6h0M513.2 299.3h0M537.0 336.1h0M541.4 323.9h0M513.4 281.6h0M514.8 291.6h0M514.5 298.6h0M595.1 327.0h0M536.9 296.4h0M554.2 332.7h0M553.9 296.0h0M571.5 330.5h0M546.3 318.7h0M540.2 325.2h0M567.0 316.9h0M529.6 318.3h0M520.6 303.7h0M546.0 325.8h0M570.9 306.9h0M614.5 317.1h0M553.1 326.8h0M578.9 343.9h0M536.9 327.6h0M513.6 288.7h0M510.4 315.9h0M592.9 341.8h0M614.6 336.4h0M543.3 292.5h0M563.8 319.7h0M545.6 317.4h0M600.6 322.5h0M524.9 327.9h0M573.9 338.8h0M537.8 297.2h0M585.9 312.6h0M601.9 324.5h0M567.0 316.0h0M533.2 312.4h0M521.9 306.5h0M607.5 309.3h0M590.0 342.3h0M558.7 301.1h0M571.6 323.6h0M611.6 355.6h0M608.5 326.0h0M507.3 307.2h0M620.3 330.8h0M605.6 327.9h0M538.8 278.9h0M592.0 337.4h0M571.6 349.9h0M564.2 314.7h0M586.5 318.8h0M500.8 296.3h0M553.0 326.4h0M533.3 301.5h0M541.5 302.2h0M520.6 308.2h0M510.2 286.2h0M619.5 335.3h0M603.5 333.3h0M578.0 341.4h0M509.7 306.4h0M543.6 303.4h0M558.2 301.0h0M566.9 305.6h0M549.6 316.1h0M578.4 327.2h0M596.7 342.2h0M594.6 340.7h0M529.3 311.4h0M528.2 292.8h0M520.9 286.4h0M523.4 298.9h0M589.7 341.4h0M612.0 336.9h0M541.3 302.0h0M573.8 322.8h0M601.8 323.9h0M600.5 349.3h0M533.7 287.7h0M547.9 318.5h0M504.5 303.4h0M544.9 311.6h0M578.4 375.7h0M593.4 334.1h0M529.6 279.3h0M586.4 335.5h0M567.0 308.4h0M598.3 354.0h0M527.5 325.0h0M571.8 344.8h0M550.2 296.4h0M585.6 353.3h0M572.2 319.2h0M574.4 335.2h0M498.1 282.7h0M590.2 343.5h0M578.0 334.4h0M537.0 304.7h0M544.0 336.6h0M569.1 350.1h0M571.5 295.4h0M526.6 304.3h0M590.8 322.1h0M524.3 304.2h0M548.0 309.3h0M544.3 312.7h0M610.8 328.5h0M521.0 319.8h0M484.2 319.9h0M577.7 334.0h0M560.4 297.6h0M543.1 321.3h0M536.9 335.0h0M524.7 283.5h0M536.1 295.1h0M540.9 319.5h0M475.0 268.4h0M602.4 324.6h0M542.9 329.4h0M597.9 314.1h0M581.3 317.1h0M571.4 316.4h0M592.1 313.8h0M527.2 331.9h0M547.6 315.5h0M612.6 312.9h0M476.4 261.9h0M526.1 325.1h0M578.2 316.1h0M575.2 332.8h0M573.2 317.9h0M568.1 332.0h0M526.9 286.3h0M541.2 282.2h0M518.5 286.4h0M596.6 314.9h0M614.2 331.4h0M539.5 312.5h0M605.0 311.1h0M583.3 313.8h0M588.0 322.9h0M555.4 324.8h0M522.7 317.8h0M533.4 295.2h0M581.9 313.2h0M525.4 303.4h0M533.3 305.8h0M532.0 326.3h0M548.9 323.3h0M562.3 331.9h0M556.0 308.7h0M527.1 307.1h0M535.5 308.1h0M596.2 339.4h0M565.2 318.5h0M558.3 339.9h0M580.8 300.7h0M618.2 334.2h0M519.6 294.2h0M573.2 316.2h0M608.6 344.0h0M600.9 311.6h0M613.4 331.1h0M577.1 325.5h0M590.1 313.3h0M585.2 338.4h0M551.0 305.2h0M558.9 292.9h0M554.4 322.1h0M557.5 310.4h0M545.6 330.2h0M547.6 309.4h0M552.2 310.6h0M535.8 330.4h0M565.7 297.2h0M619.3 306.5h0M575.4 348.7h0M557.8 310.8h0M578.4 329.5h0M508.8 299.1h0M624.9 330.2h0M572.2 321.0h0M587.2 329.3h0M578.8 320.0h0M571.0 326.8h0M585.8 323.1h0M621.6 344.5h0M584.3 313.5h0M581.7 297.3h0M600.2 329.8h0M616.7 338.4h0M504.2 274.8h0M538.0 336.1h0M597.4 332.0h0M568.8 336.5h0M583.6 333.3h0M579.0 338.9h0M539.0 313.6h0M591.4 311.3h0M619.4 346.8h0M516.5 302.7h0M587.6 311.4h0M549.2 306.8h0M504.8 283.9h0M595.4 331.0h0M591.8 335.4h0M518.7 307.1h0M518.1 305.9h0M614.7 352.3h0M599.9 363.0h0M594.8 336.5h0M574.9 320.3h0M547.5 321.3h0M520.3 286.9h0M539.8 294.5h0M584.5 325.3h0M590.6 332.9h0M600.8 325.0h0M576.8 331.2h0M548.3 317.0h0M547.1 325.1h0M533.3 316.8h0M548.9 306.2h0M596.6 335.7h0M519.5 294.8h0M520.9 302.2h0M538.9 309.1h0M537.5 304.9h0M611.0 363.9h0M547.1 319.3h0M606.2 328.4h0M590.0 308.2h0M535.5 301.4h0M528.3 270.5h0M555.4 298.7h0M584.1 324.2h0M573.6 340.5h0M528.9 309.7h0M555.7 319.6h0M539.1 308.8h0M534.9 303.0h0M564.5 337.9h0M569.4 314.6h0M562.6 323.1h0M597.7 339.3h0M497.8 308.4h0M607.6 329.9h0M558.3 324.7h0M605.0 363.0h0M604.1 331.1h0M597.6 333.0h0M581.7 348.5h0M535.7 300.2h0M506.2 299.1h0M557.1 312.1h0M573.4 340.1h0M538.0 317.3h0M563.7 314.8h0M585.5 317.9h0M608.9 342.9h0M539.1 346.7h0M609.3 330.5h0M529.1 309.3h0M566.4 301.9h0M565.5 334.6h0M527.0 298.9h0M502.2 313.7h0M522.7 299.4h0M522.6 308.4h0M600.3 328.3h0M515.3 300.9h0M495.0 292.2h0M604.0 310.8h0M556.9 301.5h0M533.8 308.2h0M572.4 335.8h0M513.6 310.4h0M598.5 316.3h0M551.8 315.1h0M569.0 331.9h0M605.0 341.8h0M508.0 277.7h0M486.1 283.3h0M516.2 312.5h0M587.2 306.9h0M576.1 319.1h0M540.9 330.4h0M541.4 328.7h0M616.3 331.0h0M554.8 327.0h0M542.3 318.0h0M620.7 311.3h0M588.6 301.1h0M514.6 274.7h0M589.1 321.6h0M621.5 332.5h0M607.2 348.5h0M528.3 322.0h0M587.9 326.3h0M613.4 332.2h0M555.5 303.6h0M502.2 281.9h0M544.2 305.8h0M563.8 311.2h0M582.7 322.4h0M542.4 293.5h0M545.0 327.7h0M564.0 292.4h0M578.9 316.5h0M591.5 347.0h0M558.7 314.0h0M597.0 306.3h0M574.0 331.5h0M554.5 308.9h0M514.6 300.1h0M526.9 284.6h0M590.6 325.0h0M544.5 320.8h0M565.3 313.9h0M494.9 282.7h0M604.2 330.4h0M613.9 341.8h0M601.6 350.6h0M577.3 324.7h0M572.0 344.8h0M561.6 330.7h0M590.0 327.0h0M603.8 317.0h0M546.9 301.0h0M560.6 342.6h0M542.5 298.1h0M591.0 356.9h0M586.6 324.1h0M582.6 324.5h0M561.1 306.5h0M619.7 333.1h0M582.4 311.3h0M532.6 315.7h0M567.5 322.5h0M504.9 282.4h0M612.3 341.2h0M480.6 289.0h0M518.2 299.9h0M589.1 349.0h0M610.3 336.6h0M563.4 333.5h0M600.6 310.8h0M550.9 297.6h0M497.6 281.0h0M523.0 273.0h0M584.7 323.6h0M549.3 319.2h0M511.9 293.1h0M526.6 300.4h0M526.2 308.4h0M512.8 293.3h0M501.6 309.3h0M535.0 321.8h0M587.2 323.4h0M520.3 318.8h0M539.7 295.0h0M576.5 318.0h0M622.4 344.3h0M559.1 302.6h0M567.2 317.5h0M542.4 288.7h0M584.7 329.3h0M553.8 323.3h0M497.6 284.6h0M510.4 311.3h0M489.4 272.1h0M614.0 329.0h0M586.9 371.8h0M511.8 298.3h0M479.6 278.3h0M523.1 320.2h0M573.1 327.2h0M550.4 319.4h0M551.6 342.7h0M561.8 315.6h0M529.9 307.2h0M575.5 333.3h0M547.3 319.4h0M572.1 322.2h0M524.1 289.0h0M611.7 327.8h0M569.1 325.4h0M561.7 324.2h0M596.6 337.1h0M540.3 297.8h0M563.4 314.9h0M496.9 297.8h0M579.5 306.6h0M563.0 308.5h0M561.4 330.5h0M557.7 310.4h0M567.3 318.4h0M553.3 310.7h0M538.9 300.4h0M544.0 316.9h0M602.4 338.7h0M550.0 329.8h0M626.0 332.8h0M554.0 317.3h0M615.6 358.6h0M496.3 289.7h0M563.0 314.1h0M500.8 290.2h0M588.5 331.7h0M578.4 314.6h0M533.1 315.4h0M550.8 335.4h0M521.1 281.7h0M535.1 328.3h0M609.7 329.4h0M568.4 297.0h0M532.5 313.9h0M592.2 312.0h0M554.4 319.2h0M592.4 332.3h0M581.3 349.6h0M540.3 301.6h0M541.2 319.7h0M612.4 323.4h0M562.7 331.2h0M576.4 322.1h0M579.0 322.6h0M578.3 306.1h0M602.5 320.0h0M547.3 329.3h0M611.3 320.7h0M513.8 300.3h0M575.5 333.0h0M482.3 288.7h0M513.3 285.3h0M565.9 342.3h0M559.7 324.9h0M602.9 346.6h0M529.2 305.8h0M594.0 333.1h0M580.8 341.4h0M528.8 309.3h0M553.4 318.8h0M565.4 325.3h0M599.7 329.7h0M497.4 275.0h0M588.5 328.2h0M504.9 294.1h0M472.6 268.8h0M542.6 315.2h0M532.2 310.7h0M552.1 324.0h0M567.0 330.4h0M540.8 321.3h0M574.8 321.7h0M537.6 342.4h0M538.0 316.9h0M546.5 311.5h0M618.0 322.1h0M547.8 294.6h0M544.5 334.2h0M506.6 305.4h0M617.1 337.5h0M529.2 330.7h0M572.9 333.5h0M561.0 317.9h0M526.1 309.1h0M576.5 350.2h0M535.8 300.0h0M601.1 344.6h0M543.3 312.7h0M596.7 354.0h0M609.8 335.5h0M596.9 319.3h0M551.2 303.4h0M601.1 320.2h0M612.2 328.0h0M501.5 306.0h0M536.8 329.4h0M553.5 297.9h0M547.9 332.0h0M548.4 327.5h0M558.0 308.7h0M563.5 319.4h0M518.3 284.2h0M593.9 336.2h0M624.8 323.1h0M528.3 267.3h0M543.7 321.2h0M479.0 282.1h0M580.5 333.7h0M597.8 333.4h0M549.9 321.6h0M616.6 325.7h0M519.3 289.7h0M544.4 309.8h0M549.3 303.8h0M562.2 333.1h0M566.1 315.2h0M536.5 317.5h0M547.7 299.5h0M503.2 289.2h0M574.8 350.0h0M562.8 320.1h0M504.1 312.4h0M530.7 311.3h0M546.6 299.9h0M566.4 293.4h0M566.0 314.7h0M526.1 298.3h0M563.8 313.0h0M540.6 314.3h0M597.9 356.4h0M606.9 321.6h0M580.4 322.5h0M563.2 319.7h0M555.9 312.9h0M538.8 304.0h0M488.9 284.8h0M559.5 304.6h0M579.0 325.6h0M584.1 311.1h0M536.5 313.9h0M548.9 319.5h0M528.5 320.4h0M549.5 325.8h0M546.0 347.2h0M569.5 339.0h0M548.5 317.9h0M584.5 314.4h0M535.9 321.1h0M621.4 341.0h0M601.2 334.1h0M535.1 309.7h0M526.0 331.4h0M613.3 341.9h0M537.7 281.3h0M604.1 319.5h0M476.0 288.4h0M538.0 307.5h0M574.8 310.6h0M595.3 332.9h0M561.1 311.0h0M565.3 318.6h0M490.7 298.5h0M596.9 329.5h0M526.1 320.8h0M548.9 315.4h0M558.3 313.7h0M572.2 330.3h0M540.2 304.6h0M521.8 299.8h0M571.9 322.3h0M586.8 333.9h0M531.0 318.1h0M608.6 331.4h0M599.5 329.2h0M575.7 310.9h0M506.0 319.8h0M566.1 317.0h0M581.6 330.1h0M540.1 317.0h0M560.0 335.5h0M506.9 265.6h0M605.8 323.4h0M596.6 329.7h0M586.0 320.7h0M546.8 335.3h0M577.7 326.4h0M552.6 313.1h0M542.7 312.4h0M582.2 344.6h0M590.2 333.3h0M517.0 278.1h0M614.1 321.6h0M524.3 298.6h0M495.7 281.9h0M511.1 262.4h0M600.1 324.0h0M539.2 318.1h0M598.5 353.3h0M569.2 320.3h0M549.2 314.8h0M526.5 330.9h0M600.1 337.6h0M471.0 277.7h0M534.3 313.6h0M552.9 346.6h0M526.5 321.8h0M599.6 348.4h0M554.8 300.7h0M481.7 285.9h0M525.5 320.1h0M562.5 311.6h0M593.6 354.2h0M548.1 321.2h0M543.3 306.0h0M558.1 332.0h0M499.6 306.6h0M601.8 355.8h0M507.1 308.4h0M576.2 314.9h0M565.0 316.8h0M472.8 265.2h0M617.5 344.7h0M537.7 277.0h0M568.7 346.0h0M472.1 291.8h0M497.8 322.9h0M558.7 313.4h0M542.6 309.9h0M518.9 273.9h0M470.7 284.1h0M578.1 332.0h0M531.7 354.8h0M541.4 344.4h0M558.0 319.0h0M571.1 334.1h0M594.3 323.9h0M601.0 347.1h0M568.2 318.9h0M526.9 304.4h0M607.4 357.9h0M575.5 317.1h0M589.1 314.2h0M537.7 310.1h0M549.9 305.7h0M554.9 309.6h0M528.1 310.7h0M614.3 326.8h0M544.4 289.0h0M565.5 336.5h0M515.6 296.0h0M528.2 312.6h0M546.9 315.3h0M520.2 308.5h0M607.7 339.6h0M487.5 285.4h0M550.7 324.0h0M540.7 308.0h0M558.3 347.6h0M590.5 318.2h0M592.3 338.5h0M557.6 327.9h0M513.9 285.4h0M521.7 293.3h0M522.4 295.4h0M525.0 297.0h0M617.3 333.1h0M571.0 336.7h0M517.4 293.7h0M498.9 287.0h0M520.2 294.6h0M477.3 283.4h0M586.7 331.2h0M571.1 333.4h0M572.6 305.0h0M550.4 325.8h0M505.6 288.7h0M576.8 331.6h0M548.7 330.9h0M583.5 330.8h0M579.1 345.5h0M625.1 342.3h0M579.2 326.7h0M538.5 323.0h0M605.1 338.4h0M562.4 318.8h0M588.0 329.1h0M603.4 348.9h0M525.5 303.9h0M560.9 329.8h0M577.4 337.9h0M595.9 334.5h0M581.4 332.5h0M554.3 306.8h0M537.3 308.6h0M559.0 325.9h0M486.5 257.4h0M537.2 294.0h0M588.1 357.6h0M497.2 312.0h0M539.4 325.9h0M548.6 299.6h0M548.6 330.9h0M568.1 323.4h0M522.3 308.1h0M578.6 310.0h0M564.0 326.5h0M550.3 309.8h0M527.3 308.6h0M593.6 312.2h0M480.0 275.3h0M548.1 304.6h0M551.2 320.0h0M509.8 299.6h0M469.9 262.2h0M549.6 289.4h0M478.1 282.3h0M539.6 304.4h0M565.0 334.3h0M590.9 308.2h0M553.0 331.5h0M556.7 311.6h0M507.2 290.0h0M520.4 312.9h0M542.1 327.8h0M574.1 325.5h0M562.2 306.3h0M558.6 337.4h0M570.5 328.3h0M542.3 348.8h0M597.7 333.5h0M550.3 331.6h0M525.4 312.5h0M584.6 327.7h0M558.5 328.5h0M556.2 307.6h0M585.8 312.2h0M571.8 306.9h0M561.9 321.3h0M531.8 314.5h0M601.7 322.0h0M560.4 305.3h0M565.5 328.3h0M533.9 309.4h0M540.0 314.7h0M517.7 291.1h0M614.2 342.2h0M505.0 327.0h0M513.0 291.2h0M578.5 312.8h0M584.1 324.3h0M510.0 286.2h0M542.7 313.2h0M515.3 317.6h0M590.3 324.0h0M483.1 290.2h0M601.1 349.1h0M539.7 296.3h0M550.6 316.4h0M573.6 362.9h0M547.2 306.6h0M497.9 291.1h0M586.3 334.7h0M541.2 317.9h0M572.5 316.7h0M602.4 323.5h0M534.2 299.5h0M568.6 306.4h0M489.2 295.8h0M578.7 303.3h0M587.7 291.2h0M565.8 319.1h0M561.3 312.9h0M594.3 322.6h0M565.6 303.3h0M520.6 320.1h0M602.6 316.9h0M587.0 335.0h0M555.6 316.4h0M513.0 292.9h0M548.2 305.4h0M510.9 300.2h0M587.2 321.2h0M566.8 305.2h0M590.6 325.0h0M565.3 302.8h0M579.6 328.5h0M617.9 362.5h0M604.5 334.2h0M564.9 321.3h0M543.1 313.1h0M529.9 328.5h0M502.8 312.7h0M531.4 314.0h0M560.8 319.4h0M590.0 332.3h0M508.4 280.7h0M519.3 295.3h0M561.9 316.3h0M561.2 323.0h0M552.9 337.5h0M497.2 286.5h0M543.6 316.9h0M581.4 321.5h0M543.8 287.4h0M534.9 309.2h0M612.0 306.7h0M592.4 337.4h0M613.6 343.1h0M524.0 318.2h0M595.8 328.6h0M539.4 339.6h0M537.4 306.9h0M540.5 305.6h0M548.7 304.5h0M505.6 290.9h0M529.7 296.4h0M545.9 304.2h0M510.0 297.0h0M599.8 327.6h0M531.5 314.5h0M561.6 322.3h0M596.9 310.6h0M515.5 316.4h0M513.0 283.8h0M569.5 311.5h0M562.6 341.1h0M573.6 346.0h0M551.3 323.6h0M556.8 312.9h0M511.3 303.9h0M544.9 303.5h0M506.2 298.6h0M611.1 353.0h0M555.2 310.6h0M545.8 303.1h0M542.3 315.7h0M603.4 351.5h0M577.6 314.2h0M549.6 292.4h0M576.5 323.6h0M532.7 327.4h0M508.8 315.9h0M546.9 315.2h0M497.1 309.1h0M545.9 321.6h0M593.6 346.4h0M531.5 306.1h0M582.5 343.0h0M527.1 293.0h0M487.6 265.4h0M609.2 313.6h0M576.6 346.0h0M610.0 317.1h0M508.2 291.3h0M569.2 313.8h0M553.8 309.7h0M531.6 297.8h0M545.3 307.0h0M520.5 299.6h0M536.9 310.6h0M561.4 327.9h0M607.8 318.5h0M537.1 311.3h0M509.0 301.9h0M562.7 307.9h0M550.9 308.9h0M579.6 327.1h0M611.5 334.5h0M591.2 355.0h0M540.1 326.8h0M506.4 301.2h0M572.1 319.5h0M567.1 316.4h0M549.7 332.1h0M565.5 327.9h0M526.8 302.8h0M599.5 319.8h0M539.0 321.3h0M609.1 345.9h0M589.0 346.4h0M618.0 337.1h0M468.3 271.4h0M592.9 316.4h0M571.4 326.6h0M569.8 310.0h0M612.4 333.8h0M490.3 284.7h0M568.7 339.2h0M593.9 306.6h0M599.9 334.4h0M518.8 285.6h0M596.4 321.6h0M561.9 324.1h0M583.8 335.3h0M610.2 324.1h0M519.7 310.5h0M561.3 330.6h0M568.4 333.2h0M525.9 316.5h0M550.0 324.9h0M629.1 318.6h0M547.1 313.3h0M535.6 294.4h0M601.6 326.3h0M588.1 330.3h0M584.2 332.3h0M527.0 320.3h0M529.9 303.2h0M550.6 315.3h0M544.6 313.1h0M515.3 302.1h0M556.4 310.7h0M566.1 328.9h0M542.4 329.8h0M559.9 327.8h0M508.5 321.5h0M533.0 305.6h0M568.3 300.9h0M557.9 325.0h0M531.9 295.0h0M576.2 297.8h0M616.0 339.0h0M563.4 313.4h0M566.3 311.8h0M596.0 308.9h0M583.3 321.6h0M531.4 317.2h0M504.7 302.9h0M487.6 299.3h0M553.3 319.3h0M541.7 303.2h0M572.7 315.4h0M544.8 320.4h0M615.9 327.9h0M539.9 334.5h0M605.4 334.1h0M587.4 310.4h0M513.4 300.9h0M517.1 306.9h0M543.9 296.0h0M488.0 268.0h0M619.4 335.3h0M555.4 345.4h0M586.6 318.0h0M602.3 306.7h0M604.1 344.4h0M584.4 295.3h0M544.1 324.6h0M524.1 289.2h0M556.6 304.1h0M569.1 310.8h0M539.0 320.8h0M544.3 301.5h0M502.8 313.0h0M594.0 329.6h0M561.7 319.7h0M561.1 318.1h0M601.0 346.9h0M557.4 327.8h0M570.3 346.6h0M601.8 307.2h0M498.0 287.9h0M552.6 325.0h0M611.7 330.3h0M595.1 330.0h0M554.4 294.8h0M557.9 325.6h0M582.9 310.5h0M514.9 319.4h0M557.2 319.2h0M582.9 319.6h0M615.7 338.1h0M532.4 294.0h0M591.9 326.6h0M527.6 313.4h0M558.3 324.6h0M555.4 298.7h0M600.3 331.3h0M536.5 313.8h0M571.3 344.3h0M601.2 351.1h0M566.6 333.9h0M576.3 315.8h0M547.7 298.2h0M565.6 329.8h0M480.2 253.5h0M542.3 309.0h0M540.7 309.1h0M578.7 321.7h0M513.0 309.9h0M557.8 304.1h0M566.3 318.5h0M569.3 312.7h0M597.9 352.6h0M549.1 332.9h0M513.5 288.0h0M475.2 258.9h0M606.1 335.6h0M575.8 327.4h0M530.9 307.7h0M551.9 322.1h0M542.0 326.9h0M510.3 312.3h0M590.7 310.3h0M597.6 338.1h0M569.6 311.4h0M508.0 317.0h0M527.0 297.2h0M512.6 281.2h0M530.6 310.8h0M516.1 285.7h0M540.5 306.5h0M581.3 292.1h0M592.6 331.7h0M575.3 326.5h0M616.3 349.0h0M505.7 296.2h0M561.2 308.5h0M520.2 312.0h0M529.3 287.4h0M585.6 334.2h0M549.7 311.1h0M558.0 298.8h0M495.2 297.1h0M571.2 319.7h0M593.0 332.2h0M617.5 345.3h0M586.5 319.2h0M492.8 317.5h0M607.0 346.7h0M592.8 330.4h0M570.5 317.9h0M578.1 336.0h0M597.9 348.2h0M552.1 293.3h0M556.1 308.7h0M595.4 321.5h0M609.2 331.2h0M553.6 300.2h0M562.8 314.8h0M562.3 336.9h0M562.0 318.9h0M550.6 301.0h0M572.4 345.0h0M538.4 317.9h0M531.5 306.0h0M622.3 335.9h0M530.6 315.0h0M478.7 277.7h0M550.5 309.8h0M535.9 283.5h0M582.5 336.9h0M570.8 322.6h0M543.1 326.6h0M557.2 302.1h0M606.6 327.3h0M589.1 319.9h0M540.9 304.5h0M557.8 293.0h0M548.4 318.6h0M566.7 317.1h0M535.9 301.5h0M604.3 346.9h0M536.3 330.6h0M579.0 313.6h0M593.9 327.7h0M558.3 306.8h0M514.6 299.7h0M542.9 314.7h0M569.8 324.9h0M535.8 306.0h0M593.9 334.1h0M577.2 329.8h0M506.0 277.8h0M550.7 300.5h0M586.4 327.3h0M540.1 288.4h0M502.8 300.2h0M500.7 279.6h0M547.1 298.5h0M526.0 307.8h0M613.1 311.2h0M573.7 338.2h0M616.4 335.2h0M565.7 327.7h0M571.5 302.5h0M551.9 310.4h0M588.1 337.5h0M557.3 319.1h0M502.1 302.8h0M512.7 283.3h0M584.5 336.9h0M544.3 322.7h0M537.5 304.1h0M597.0 336.4h0M610.7 330.2h0M517.5 298.7h0M538.8 316.9h0M520.2 322.1h0M578.9 353.6h0M525.0 302.5h0M516.5 304.7h0M542.3 304.5h0M599.3 328.4h0M517.2 301.7h0M516.2 305.0h0M571.0 310.9h0M576.1 366.7h0M530.5 330.0h0M551.6 309.5h0M572.2 324.9h0M508.4 307.6h0M531.4 314.4h0M559.0 307.7h0M595.5 324.5h0M541.0 309.6h0M575.7 347.7h0M595.1 316.9h0M575.2 333.6h0M610.1 326.0h0M569.6 315.5h0M536.0 332.2h0M498.7 310.5h0M566.8 342.0h0M584.2 340.7h0M531.0 298.6h0M565.9 305.4h0M578.5 321.9h0M608.9 336.4h0M561.9 329.5h0M529.6 286.3h0M596.3 330.7h0M542.2 323.5h0M562.7 319.7h0M546.3 306.1h0M582.6 332.3h0M597.3 337.0h0M582.8 347.3h0M550.4 308.4h0M620.9 346.5h0M531.3 299.1h0M545.9 312.0h0M541.4 309.1h0M574.8 333.0h0M537.8 304.3h0M594.5 345.7h0M544.9 311.1h0M535.9 288.8h0M611.9 304.2h0M592.5 344.0h0M622.6 330.1h0M536.6 309.1h0M548.6 319.4h0M538.5 299.8h0M599.5 349.0h0M564.9 312.7h0M584.1 339.0h0M567.6 303.3h0M596.7 326.5h0M483.1 249.9h0M575.6 307.4h0M550.7 312.5h0M599.9 349.2h0M571.5 355.8h0M559.9 315.9h0M561.2 323.5h0M492.7 275.4h0M497.6 303.0h0M584.0 325.7h0M546.0 322.8h0M580.1 320.3h0M552.6 311.2h0M556.4 337.2h0M557.0 317.7h0M473.8 263.5h0M585.9 322.1h0M552.9 299.1h0M497.8 302.4h0M583.7 350.1h0M519.1 312.6h0M558.4 334.3h0M565.4 298.3h0M526.6 303.5h0M564.2 308.2h0M513.3 278.1h0M586.6 324.4h0M572.9 351.7h0M573.4 354.5h0M587.5 318.2h0M593.4 318.2h0M559.7 333.7h0M566.3 314.8h0M571.6 315.2h0M532.4 306.3h0M522.9 321.4h0M533.2 292.3h0M562.1 333.4h0M528.0 299.2h0M545.6 333.1h0M539.3 323.0h0M516.8 289.7h0M618.8 350.0h0M519.4 323.6h0M512.4 300.5h0M519.9 305.0h0M551.1 331.4h0M482.8 278.8h0M561.7 311.9h0M618.3 333.1h0M575.2 301.5h0M553.8 324.7h0M596.7 313.1h0M547.2 316.0h0M560.9 338.3h0M549.5 333.3h0M616.8 357.5h0M517.7 328.6h0M540.1 307.2h0M553.6 340.3h0M529.1 311.9h0M582.9 326.1h0M617.5 339.8h0M527.3 294.5h0M503.4 311.4h0M598.6 344.6h0M578.4 311.6h0M572.0 310.0h0M614.4 337.0h0M506.8 310.9h0M552.8 327.6h0M617.6 326.7h0M541.4 288.7h0M542.9 322.4h0M553.0 319.8h0M505.8 309.7h0M535.6 295.8h0M564.9 320.7h0M561.5 314.5h0M547.9 324.4h0M574.9 308.6h0M542.6 306.1h0M590.2 316.3h0M566.7 326.2h0M535.2 318.7h0M593.6 325.8h0M528.0 303.1h0M594.0 314.2h0M537.4 294.8h0M571.3 341.1h0M570.4 348.9h0M551.8 300.1h0M556.2 324.0h0M578.5 332.1h0M593.9 321.2h0M569.7 321.3h0M591.2 329.3h0M565.9 315.6h0M564.6 325.7h0M513.9 301.9h0M530.8 314.0h0M518.0 298.0h0M525.7 313.1h0M588.6 308.9h0M561.7 314.2h0M567.7 323.3h0M553.5 303.7h0M534.0 304.6h0M558.9 307.6h0M546.2 306.1h0M529.7 324.8h0M611.6 318.7h0M521.1 289.7h0M495.2 295.3h0M545.4 279.2h0M552.5 333.6h0M529.2 292.4h0M549.7 319.0h0M551.8 316.8h0M535.9 297.3h0M553.5 302.4h0M530.7 296.0h0M546.5 332.4h0M540.5 296.6h0M518.8 310.6h0M536.2 311.7h0M544.8 310.5h0M598.0 349.6h0M570.9 307.3h0M581.1 328.7h0M511.1 313.1h0M552.8 324.8h0M546.9 331.1h0M574.9 339.9h0M602.6 327.1h0M565.7 314.0h0M529.5 288.9h0M550.9 283.9h0M533.9 296.8h0M595.9 363.1h0M556.8 307.9h0M526.9 301.4h0M530.3 297.6h0M582.4 313.9h0M591.0 326.1h0M529.1 293.1h0M517.9 291.1h0M553.5 286.7h0M544.3 321.3h0M525.0 317.7h0M585.2 329.5h0M556.6 282.7h0M567.7 348.9h0M542.6 314.7h0M539.2 326.0h0M535.4 310.2h0M527.7 300.0h0M569.9 335.0h0M522.2 286.1h0M586.2 299.4h0M525.5 310.8h0M617.4 323.3h0M609.2 345.9h0M527.5 320.0h0M534.1 297.8h0M589.4 317.8h0M610.6 348.9h0M563.5 311.3h0M569.7 302.4h0M596.3 337.9h0M604.1 353.7h0M525.9 300.6h0M503.7 279.7h0M486.5 276.9h0M489.8 294.3h0M586.8 323.8h0M561.0 322.6h0M540.6 308.5h0M601.2 321.7h0M547.4 314.6h0M619.1 337.5h0M617.4 356.6h0M571.4 348.5h0M546.1 321.3h0M588.3 328.5h0M602.3 337.3h0M583.8 326.6h0M622.9 341.1h0M534.3 314.9h0M527.2 314.2h0M585.9 329.0h0M534.4 299.1h0M580.8 330.0h0M555.4 339.8h0M504.9 306.9h0M568.9 334.4h0M538.5 309.2h0M547.7 300.8h0M591.5 366.9h0M573.2 334.0h0M555.5 327.0h0M599.5 301.3h0M525.8 315.0h0M603.6 325.3h0M588.1 307.5h0M578.1 331.9h0M528.6 308.7h0M594.2 330.8h0M529.6 304.0h0M544.8 324.4h0M536.0 307.9h0M558.4 326.0h0M583.8 337.0h0M562.2 299.6h0M615.7 356.0h0M509.6 284.4h0M542.0 314.9h0M541.1 312.7h0M568.3 331.0h0M499.0 290.4h0M580.3 317.8h0M544.4 327.8h0M591.9 321.8h0M591.2 358.2h0M560.1 331.0h0M564.7 339.2h0M571.1 327.2h0M507.2 288.2h0M572.3 333.9h0M594.0 326.6h0M545.7 316.3h0M508.8 280.1h0M618.5 361.6h0M532.0 332.4h0M549.6 319.6h0M513.5 327.0h0M528.3 305.2h0M563.3 318.5h0M571.5 336.5h0M530.1 319.1h0M535.9 306.9h0M598.0 326.3h0M579.6 329.9h0M605.1 325.6h0M538.0 320.4h0M588.3 325.8h0M542.6 297.9h0M547.2 301.2h0M498.7 306.3h0M578.7 337.4h0M502.3 305.8h0M572.4 321.3h0M541.6 306.6h0M547.1 331.7h0M559.3 336.1h0M509.5 295.8h0M581.9 359.5h0M487.3 274.1h0M573.8 325.3h0M602.6 344.7h0M561.9 307.1h0M517.3 302.5h0M585.9 337.6h0M527.3 276.2h0M532.5 309.2h0M537.5 309.8h0M495.4 286.5h0M528.1 308.4h0M602.5 325.3h0M548.7 322.0h0M584.0 315.7h0M495.6 288.4h0M618.4 334.7h0M542.1 298.8h0M528.3 322.6h0M547.6 314.8h0M608.0 325.0h0M561.6 306.8h0M521.4 306.7h0M495.5 299.2h0M597.3 319.2h0M529.4 331.6h0M583.2 312.4h0M535.9 334.1h0M577.0 339.3h0M539.8 298.7h0M541.6 313.1h0M544.9 326.0h0M548.7 298.4h0M561.6 315.6h0M488.5 294.8h0M497.2 283.6h0M542.7 307.6h0M616.0 338.7h0M589.9 318.7h0M588.7 322.0h0M531.1 326.7h0M548.5 311.8h0M526.6 301.6h0M558.0 311.9h0M601.6 344.4h0M553.2 303.3h0M533.9 329.4h0M559.7 325.8h0M529.7 311.3h0M574.1 323.3h0M551.4 318.6h0M598.4 328.7h0M568.3 315.0h0M577.5 298.3h0M584.4 332.4h0M516.0 291.7h0M514.0 302.9h0M576.4 325.3h0M584.7 338.0h0M550.2 321.8h0M528.2 288.3h0M585.3 328.4h0M515.5 296.3h0M552.0 332.6h0M508.7 289.9h0M581.3 319.3h0M552.2 310.9h0M511.2 283.4h0M618.0 335.4h0M578.9 333.3h0M494.9 283.3h0M612.0 328.5h0M584.8 303.2h0M620.5 341.6h0M561.1 317.4h0M600.5 312.9h0M597.9 332.1h0M587.0 296.5h0M571.9 292.6h0M488.4 284.7h0M622.0 326.5h0M585.8 314.0h0M587.1 335.7h0M530.1 317.7h0M547.0 296.8h0M606.9 319.6h0M617.4 340.4h0M605.4 340.9h0M597.2 346.4h0M573.3 342.9h0M527.6 293.4h0M581.5 320.7h0M532.5 309.5h0M585.4 346.3h0M541.2 322.9h0M600.3 329.1h0M532.8 325.0h0M533.6 307.4h0M490.7 295.5h0M591.9 363.6h0M565.6 313.9h0M622.1 346.9h0M497.3 320.2h0M506.9 300.1h0M494.0 310.0h0M568.5 310.7h0M584.4 333.2h0M570.5 325.0h0M613.4 321.1h0M580.8 350.3h0M600.9 330.5h0M539.0 298.1h0M600.3 324.8h0M502.7 308.1h0M550.5 310.5h0M573.5 300.6h0M504.9 308.0h0M506.3 303.7h0M598.3 322.6h0M544.8 313.5h0M563.8 323.4h0M610.2 310.7h0M553.4 326.0h0M532.7 296.1h0M561.2 336.8h0M561.6 359.2h0M554.8 318.0h0M608.2 323.5h0M529.1 312.9h0M469.4 253.0h0M547.1 313.6h0M589.2 320.3h0M534.7 305.0h0M558.1 332.6h0M558.3 301.4h0M542.9 293.0h0M551.3 296.9h0M546.5 297.0h0M588.2 310.1h0M535.0 296.5h0M545.5 295.8h0M543.5 308.1h0M584.9 336.8h0M537.8 303.2h0M521.6 289.8h0M550.6 325.5h0M536.9 310.2h0M621.1 320.7h0M549.3 319.7h0M539.5 275.2h0M543.0 303.5h0M536.8 291.5h0M580.4 313.0h0M567.0 305.3h0M609.2 330.4h0M571.8 332.2h0M564.8 338.3h0M563.0 340.4h0M481.7 293.7h0M591.2 354.6h0M574.5 327.9h0M563.5 333.6h0M563.5 329.1h0M604.2 343.7h0M500.3 282.1h0M599.7 340.3h0M564.6 331.4h0M567.3 299.2h0M540.7 315.8h0M549.7 295.3h0M566.6 327.0h0M585.2 329.8h0M610.5 330.7h0M570.2 341.5h0M549.3 293.8h0M552.0 292.1h0M542.3 318.0h0M579.4 310.1h0M562.3 316.1h0M618.8 342.3h0M590.1 306.1h0M490.9 301.7h0M540.2 311.7h0M550.3 301.6h0M484.8 287.5h0M565.0 314.3h0M575.7 342.0h0M613.7 337.5h0M567.2 319.9h0M531.9 325.1h0M613.3 346.2h0M615.2 343.9h0M487.2 289.4h0M567.2 318.6h0M552.2 320.5h0M547.4 336.6h0M611.0 333.5h0M596.6 312.6h0M540.4 311.1h0M617.9 341.0h0M499.1 292.3h0M583.6 318.4h0M517.8 320.1h0M496.5 268.9h0M525.9 309.1h0M590.9 302.7h0M577.2 334.1h0M546.9 327.5h0M567.8 318.8h0M535.0 295.3h0M524.5 297.5h0M565.5 317.9h0M533.1 303.8h0M600.9 328.6h0M529.4 291.2h0M594.5 330.4h0M549.4 305.2h0M573.2 330.8h0M517.9 303.3h0M607.6 343.4h0M604.3 336.1h0M550.3 322.0h0M628.8 358.3h0M542.0 298.1h0M602.5 326.6h0M505.7 287.5h0M519.0 270.1h0M571.7 350.7h0M545.7 307.4h0M573.3 321.3h0M615.4 319.6h0M621.3 344.1h0M608.9 340.0h0M547.7 328.7h0M511.7 288.5h0M537.2 283.7h0M534.4 318.8h0M593.9 327.3h0M546.0 309.7h0M560.2 327.6h0M563.6 346.8h0M591.2 316.4h0M548.1 337.2h0M620.9 321.2h0M556.0 335.2h0M536.2 296.1h0M578.5 307.1h0M577.1 331.5h0M536.0 325.2h0M554.4 318.9h0M532.2 308.0h0M487.3 302.0h0M566.6 325.3h0M562.9 307.7h0M564.0 312.0h0M569.4 306.0h0M529.4 327.0h0M521.1 314.8h0M542.3 313.7h0M619.0 338.1h0M553.2 304.7h0M589.1 345.9h0M527.0 284.2h0M526.9 290.5h0M592.9 319.5h0M573.1 328.0h0M534.9 330.6h0M518.7 321.1h0M556.4 305.1h0M559.6 321.2h0M512.3 274.0h0M545.0 309.3h0M583.8 345.7h0M579.2 309.5h0M604.3 336.0h0M565.3 319.7h0M555.7 308.1h0M542.4 331.9h0M607.9 349.8h0M613.6 315.4h0M561.1 339.1h0M560.6 335.6h0M569.0 340.4h0M519.0 319.6h0M538.4 317.0h0M499.0 299.7h0M557.8 333.6h0M564.7 329.2h0M532.6 304.2h0M564.2 350.5h0M487.5 292.6h0M549.8 318.6h0M607.2 358.3h0M531.7 292.2h0M497.6 289.9h0M580.4 328.9h0M499.2 285.6h0M581.3 322.5h0M548.1 319.0h0M490.3 292.1h0M554.6 334.2h0M530.9 302.7h0M565.6 319.3h0M548.1 329.6h0M556.6 310.0h0M607.3 313.6h0M570.8 341.0h0M527.8 281.9h0M604.8 316.6h0M588.1 314.6h0M523.1 306.4h0M547.7 291.1h0M576.7 328.7h0M578.7 317.2h0M551.6 323.6h0M579.1 343.3h0M556.7 309.3h0M588.6 309.7h0M569.5 340.6h0M562.0 320.5h0M572.5 332.8h0M572.7 336.9h0M553.4 322.1h0M538.4 297.0h0M589.4 308.9h0M508.4 290.6h0M535.3 307.9h0M482.0 273.3h0M608.6 346.3h0M529.1 303.9h0M556.1 324.7h0M586.1 324.3h0M615.1 358.7h0M539.6 304.4h0M567.0 325.2h0M519.3 299.3h0M577.8 321.9h0M533.2 289.2h0M622.9 341.1h0M610.1 355.6h0M551.4 301.4h0M522.0 291.5h0M544.4 320.4h0M548.7 300.1h0M493.1 274.4h0M597.3 347.1h0M578.8 338.0h0M527.7 323.0h0M588.0 306.3h0M486.9 310.6h0M547.0 327.8h0M610.3 329.1h0M493.3 273.4h0M532.1 292.5h0M563.3 314.9h0M558.8 309.6h0M552.8 301.1h0M564.0 314.1h0M532.8 311.1h0M538.8 307.3h0M477.1 272.0h0M555.6 308.5h0M547.0 311.0h0M544.8 324.7h0M570.2 321.3h0M557.2 309.0h0M578.7 340.2h0M563.1 330.1h0M500.3 286.7h0M547.0 304.8h0M500.1 295.7h0M584.0 330.0h0M528.8 305.2h0M589.5 334.5h0M561.3 325.9h0M523.3 328.5h0M490.2 290.6h0M565.5 298.3h0M526.8 314.9h0M545.1 321.2h0M536.5 303.1h0M475.1 268.6h0M610.3 303.2h0M516.0 306.7h0M534.5 301.9h0M599.7 345.6h0M586.0 339.0h0M563.1 329.4h0M548.4 315.6h0M527.7 299.1h0M535.7 305.6h0M606.6 344.6h0M570.7 322.5h0M608.3 349.2h0M591.0 337.1h0M557.6 334.1h0M546.1 317.2h0M617.9 331.1h0M536.3 280.3h0M501.9 303.3h0M550.5 307.7h0M541.6 308.2h0M599.4 335.5h0M557.8 327.0h0M544.0 328.2h0M488.5 284.5h0M571.2 332.0h0M587.5 328.7h0M620.9 324.1h0M533.2 329.8h0M532.2 288.1h0M562.8 329.6h0M500.8 284.7h0M618.0 330.5h0M528.4 308.5h0M596.9 324.4h0M543.5 294.5h0M568.3 321.1h0M620.6 321.7h0M543.3 286.0h0M529.5 305.0h0M585.6 338.6h0M595.7 335.6h0M605.4 327.7h0M530.7 293.9h0M560.3 344.8h0M540.5 313.7h0M615.0 343.3h0M606.1 309.6h0M618.4 348.7h0M552.6 308.1h0M596.5 329.4h0M568.1 309.6h0M497.7 267.7h0M495.0 293.7h0M536.7 327.5h0M565.2 302.1h0M539.7 320.4h0M536.5 307.5h0M576.2 315.0h0M568.9 342.6h0M546.9 321.9h0M564.4 317.4h0M622.9 345.4h0M593.4 304.8h0M545.9 331.6h0M621.0 325.1h0M509.7 305.5h0M535.0 308.0h0M546.4 323.7h0M606.5 326.5h0M530.6 291.9h0M518.5 294.4h0M557.9 319.5h0M560.0 349.9h0M571.7 320.0h0M565.8 348.3h0M619.9 322.8h0M541.4 326.7h0M589.9 354.1h0M550.7 337.5h0M571.5 323.0h0M530.3 318.8h0M614.4 334.3h0M488.0 304.0h0M592.2 319.5h0M575.7 303.9h0M537.4 309.5h0M541.2 325.9h0M561.5 338.0h0M494.1 301.1h0M604.7 318.4h0M567.2 330.9h0M619.2 358.1h0M567.4 286.2h0M487.1 264.3h0M544.5 293.2h0M537.4 319.8h0M560.6 308.8h0M550.8 328.6h0M617.1 342.8h0M483.9 276.1h0M586.4 343.9h0M519.2 302.8h0M544.5 331.7h0M528.9 294.8h0M564.1 326.5h0M588.3 326.8h0M588.3 325.8h0M519.1 314.3h0M607.5 342.5h0M542.2 324.0h0M601.7 367.0h0M595.3 328.6h0M491.3 276.6h0M515.2 285.8h0M574.9 325.7h0M528.3 295.5h0M544.7 326.4h0M502.1 297.9h0M584.4 354.6h0M546.4 323.2h0M595.2 324.5h0M580.1 347.6h0M549.3 316.8h0M546.3 281.8h0M561.1 307.9h0M529.1 305.5h0M543.6 295.2h0M556.3 307.5h0M597.2 338.1h0M554.0 276.4h0M552.7 302.7h0M600.2 318.1h0M597.9 316.0h0M496.5 302.4h0M569.1 324.3h0M544.0 301.9h0M610.8 338.7h0M601.1 331.2h0M602.4 338.9h0M565.0 327.7h0M496.8 274.5h0M571.0 328.6h0M565.7 301.4h0M614.4 326.2h0M589.0 349.2h0M545.6 324.7h0M545.4 323.0h0M531.2 288.4h0M526.8 309.0h0M602.5 320.3h0M551.1 298.2h0M565.4 316.6h0M607.3 343.8h0M557.3 316.0h0M619.8 324.6h0M503.7 295.5h0M490.5 277.0h0M552.1 325.2h0M590.0 347.3h0M485.2 291.4h0M562.7 316.4h0M571.5 344.1h0M598.8 328.0h0M539.4 319.2h0M603.9 353.4h0M535.8 305.5h0M578.4 305.7h0M583.9 346.9h0M596.7 297.0h0M576.4 323.4h0M570.7 334.6h0M577.5 321.0h0M577.1 350.7h0M529.8 304.7h0M583.2 326.3h0M598.0 365.2h0M594.7 359.1h0M529.7 324.0h0M514.2 307.0h0M566.5 318.7h0M614.3 340.9h0M587.7 342.6h0M474.1 272.1h0M513.6 295.1h0M529.0 308.4h0M608.5 342.0h0M481.7 300.7h0M608.2 338.0h0M578.4 305.9h0M482.8 277.7h0M568.9 308.4h0M548.2 336.2h0M530.7 305.3h0M529.2 325.2h0M629.5 332.3h0M610.3 330.5h0M526.5 301.5h0M573.0 307.5h0M599.6 337.9h0M610.1 318.6h0M615.1 334.4h0M482.5 293.2h0M573.3 328.7h0M490.8 278.3h0M512.0 307.5h0M613.1 325.9h0M522.9 301.3h0M489.9 297.1h0M527.3 342.1h0M546.8 315.0h0M600.9 320.1h0M586.2 335.8h0M581.7 316.4h0M537.9 323.6h0M542.9 297.1h0M565.1 298.6h0M568.3 318.9h0M561.0 312.9h0M544.1 331.8h0M575.5 304.3h0M563.2 330.1h0M511.6 290.0h0M548.5 286.2h0M587.6 322.8h0M545.3 309.3h0M539.4 304.2h0M606.4 341.5h0M603.7 340.7h0M539.7 294.4h0M539.9 321.3h0M580.1 330.5h0M613.6 353.7h0M499.3 291.6h0M460.7 302.3h0M487.0 276.4h0M484.4 250.3h0M491.2 276.7h0M470.5 296.1h0M483.8 293.1h0M529.3 281.7h0M523.1 296.7h0M512.3 298.8h0M510.2 302.2h0M441.2 277.9h0M486.4 282.6h0M502.4 292.5h0M501.9 278.0h0M511.5 275.6h0M452.3 255.9h0M506.8 283.4h0M475.7 277.2h0M502.6 279.8h0M546.5 300.8h0M510.8 274.7h0M492.0 317.9h0M465.6 272.4h0M523.8 300.5h0M430.9 273.6h0M468.1 259.5h0M415.3 254.5h0M486.9 253.2h0M467.4 330.8h0M475.5 268.5h0M460.1 285.4h0M555.4 273.7h0M518.1 301.4h0M516.1 280.9h0M471.0 295.0h0M517.5 297.1h0M491.8 310.7h0M481.7 283.4h0M443.6 288.9h0M495.3 295.4h0M410.0 243.7h0M467.7 297.5h0M419.6 256.4h0M504.3 292.9h0M509.9 293.5h0M519.5 287.1h0M447.9 287.3h0M525.3 245.7h0M555.1 311.4h0M475.1 289.8h0M463.0 280.6h0M472.4 264.4h0M472.8 271.6h0M519.6 280.9h0M472.9 289.2h0M504.5 285.6h0M491.0 264.7h0M461.4 257.2h0M492.8 302.1h0M492.6 325.5h0M496.1 268.4h0M501.0 284.1h0M481.6 277.8h0M504.8 305.5h0M436.4 271.0h0M475.0 274.8h0M532.3 266.7h0M501.6 246.1h0M482.1 279.9h0M466.8 278.0h0M471.6 281.9h0M486.7 281.1h0M432.9 316.9h0M479.5 291.3h0M484.4 292.0h0M422.9 245.8h0M435.4 262.8h0M487.0 296.8h0M480.3 293.6h0M549.3 307.1h0M555.5 318.1h0M396.0 262.2h0M468.9 267.1h0M528.8 298.2h0M502.0 322.4h0M536.7 293.1h0M530.8 277.3h0M487.4 290.9h0M527.4 313.0h0M489.4 290.2h0M451.9 241.5h0M496.1 281.9h0M532.8 281.3h0M518.5 303.6h0M479.6 281.2h0M537.8 310.9h0M534.8 284.3h0M535.4 322.8h0M432.0 305.7h0M465.6 248.9h0M472.4 290.6h0M469.9 268.0h0M425.2 286.2h0M473.7 268.1h0M528.1 310.9h0M459.6 301.9h0M560.8 276.3h0M460.0 271.4h0M504.4 326.7h0M485.3 301.0h0M453.3 280.1h0M499.6 259.6h0M496.9 284.4h0M489.1 285.4h0M530.0 315.0h0M516.8 267.5h0M442.7 263.2h0M533.9 326.0h0M463.3 277.2h0M431.7 327.1h0M518.4 292.0h0M528.3 307.6h0M463.7 278.8h0M493.5 313.9h0M469.8 275.8h0M512.0 312.4h0M476.5 290.9h0M500.1 303.7h0M452.3 299.3h0M510.0 269.9h0M493.8 286.7h0M573.9 277.4h0M534.9 296.2h0M474.4 278.7h0M452.0 257.3h0M515.0 293.7h0M464.8 291.6h0M516.2 307.2h0M525.8 302.2h0M540.1 279.4h0M540.4 288.2h0M531.0 294.7h0M492.0 282.3h0M491.1 273.6h0M498.7 274.8h0M543.9 311.7h0M480.7 301.6h0M492.7 257.7h0M519.6 291.6h0M454.0 269.6h0M480.3 295.1h0M493.7 309.2h0M479.5 299.7h0M475.3 267.4h0M505.0 297.5h0M462.4 265.2h0M509.7 281.4h0M482.3 308.1h0M441.6 294.8h0M403.7 270.9h0M458.9 255.8h0M506.1 276.6h0M485.5 325.2h0M473.2 275.5h0M489.4 291.5h0M503.5 285.7h0M483.1 271.3h0M459.6 300.5h0M533.7 275.5h0M489.9 290.7h0M505.9 307.1h0M471.7 275.0h0M496.7 304.5h0M524.3 308.1h0M462.8 296.5h0M485.1 277.4h0M480.6 268.1h0M455.1 290.7h0M545.6 261.6h0M453.9 284.5h0M507.3 280.6h0M468.5 278.7h0M486.2 287.3h0M475.8 305.4h0M470.2 282.4h0M488.9 297.7h0M417.4 290.6h0M462.0 301.9h0M496.7 284.0h0M542.1 303.2h0M490.7 286.4h0M461.8 293.8h0M518.6 314.7h0M504.3 308.2h0M454.0 260.7h0M466.7 273.9h0M451.1 276.8h0M524.5 282.2h0M453.8 302.6h0M451.6 267.2h0M494.4 316.2h0M519.4 302.4h0M469.6 296.1h0M511.9 300.7h0M446.3 312.7h0M512.4 273.4h0M494.0 318.5h0M489.8 273.7h0M419.9 271.3h0M519.2 288.4h0M489.3 292.4h0M494.3 297.8h0M454.2 296.8h0M533.0 270.7h0M474.8 293.7h0M501.2 304.0h0M483.8 271.7h0M479.5 251.3h0M509.6 312.8h0M504.6 292.4h0M529.7 296.7h0M472.7 304.4h0M514.6 312.7h0M458.9 275.2h0M492.4 291.1h0M436.5 268.4h0M489.8 313.7h0M484.0 308.8h0M467.7 300.2h0M467.9 288.4h0M483.7 283.6h0M525.8 301.2h0M486.6 323.0h0M491.9 303.5h0M503.3 263.5h0M533.6 308.5h0M525.4 288.5h0M507.4 300.3h0M437.2 275.2h0M510.8 278.2h0M471.4 317.3h0M505.6 296.0h0M467.1 261.8h0M509.1 306.2h0M478.6 300.3h0M477.3 285.0h0M498.3 281.4h0M446.3 307.9h0M527.8 277.3h0M490.5 289.3h0M487.1 286.8h0M462.2 279.9h0M512.7 294.8h0M457.5 266.0h0M525.6 295.7h0M464.5 277.9h0M493.3 290.3h0M467.8 279.7h0M492.6 286.1h0M516.3 312.8h0M471.7 271.9h0M454.1 302.2h0M483.7 276.4h0M465.6 279.3h0M497.7 307.0h0M452.3 281.8h0M473.7 291.5h0M514.3 288.0h0M495.7 303.5h0M458.3 265.6h0M480.7 283.8h0M496.9 271.0h0M514.5 301.1h0M460.5 295.1h0M495.4 282.2h0M461.5 307.0h0M440.7 291.2h0M523.0 268.3h0M510.2 300.8h0M512.2 289.4h0M519.4 316.0h0M483.1 270.2h0M532.5 314.1h0M518.5 312.4h0M468.5 280.9h0M477.8 303.7h0M440.2 313.8h0M428.0 297.1h0M512.2 286.9h0M509.3 298.6h0M465.1 276.6h0M510.7 278.5h0M490.4 278.7h0M445.0 257.2h0M509.5 288.9h0M507.3 268.5h0M508.9 295.8h0M467.9 261.9h0M446.1 266.1h0M503.4 271.8h0M527.1 240.5h0M598.0 297.7h0M427.3 267.3h0M477.7 269.3h0M522.2 275.2h0M510.5 278.7h0M525.8 280.2h0M451.0 281.6h0M452.9 291.6h0M513.7 313.2h0M426.4 276.2h0M475.5 295.8h0M441.0 304.6h0M496.1 261.9h0M483.7 267.4h0M539.7 290.8h0M483.2 306.7h0M535.1 294.5h0M502.1 287.4h0M481.0 293.7h0M445.6 255.7h0M510.4 273.3h0M473.0 303.7h0M549.0 288.8h0M489.1 315.3h0M509.3 281.7h0M514.0 278.5h0M412.1 251.6h0M471.7 326.9h0M498.0 261.5h0M507.8 305.4h0M490.3 274.5h0M539.8 311.0h0M524.0 290.7h0M522.1 282.6h0M534.4 297.4h0M448.2 271.4h0M523.7 299.7h0M487.9 298.3h0M447.9 294.2h0M517.7 316.8h0M538.6 294.3h0M525.2 302.2h0M513.3 264.1h0M481.2 294.0h0M556.3 276.1h0M513.4 336.1h0M482.0 278.0h0M460.2 277.3h0M492.1 268.0h0M440.6 248.8h0M524.0 284.3h0M526.1 263.8h0M484.2 291.8h0M445.7 289.1h0M472.1 265.9h0M549.2 290.5h0M545.0 275.7h0M514.7 305.3h0M545.3 300.3h0M525.4 287.3h0M479.4 285.5h0M471.8 268.4h0M516.3 240.8h0M531.2 295.7h0M426.3 252.6h0M494.8 291.4h0M462.1 307.8h0M435.3 304.3h0M473.0 300.7h0M495.6 323.3h0M503.1 292.0h0M499.0 276.7h0M514.0 329.0h0M481.8 292.7h0M458.7 304.1h0M559.8 275.4h0M562.9 275.6h0M456.0 276.2h0M461.9 281.7h0M453.6 289.1h0M496.4 289.9h0M493.2 259.9h0M467.4 272.5h0M498.7 283.7h0M501.9 256.9h0M509.1 286.1h0M492.5 281.5h0M479.2 293.1h0M495.8 315.6h0M429.9 276.5h0M484.8 293.3h0M435.8 264.0h0M501.4 312.9h0M508.0 312.7h0M492.6 287.6h0M485.4 299.9h0M554.9 306.6h0M538.9 294.7h0M532.2 311.3h0M497.3 291.4h0M523.7 260.5h0M489.0 286.3h0M521.6 298.3h0M436.7 276.6h0M512.3 303.7h0M442.3 273.3h0M494.3 272.4h0M502.3 299.2h0M539.3 303.6h0M489.8 279.5h0M474.2 315.0h0M512.9 268.3h0M519.1 305.2h0M505.5 322.9h0M483.3 285.8h0M512.3 310.0h0M459.4 307.4h0M495.8 306.3h0M474.5 286.1h0M520.6 285.1h0M467.2 317.0h0M537.0 295.9h0M546.2 313.1h0M495.6 294.0h0M453.7 272.9h0M509.0 286.1h0M482.3 267.4h0M497.7 306.0h0M511.0 290.7h0M510.8 284.0h0M504.5 301.2h0M439.8 295.1h0M495.2 315.4h0M468.5 309.9h0M505.6 258.7h0M407.4 286.9h0M462.8 282.7h0M473.5 282.8h0M440.5 287.9h0M501.4 287.1h0M514.4 283.3h0M516.6 305.0h0M485.6 266.4h0M474.0 282.9h0M530.3 301.0h0M471.9 289.6h0M546.7 275.6h0M518.7 264.8h0M481.5 296.4h0M538.8 287.5h0M533.3 304.2h0M432.4 296.5h0M497.3 289.6h0M484.5 279.7h0M487.4 253.8h0M551.5 312.5h0M534.7 313.6h0M565.7 334.6h0M527.9 317.0h0M495.3 278.3h0M471.1 276.0h0M512.2 259.9h0M517.3 275.7h0M489.8 290.4h0M482.2 275.3h0M521.6 268.0h0M499.7 316.7h0M558.8 331.4h0M479.6 280.4h0M516.6 282.8h0M507.0 322.4h0M572.5 307.1h0M489.7 308.7h0M478.4 280.3h0M504.7 265.7h0M488.5 271.9h0M541.1 273.4h0M525.8 300.1h0M510.8 302.3h0M496.2 270.6h0M421.3 287.8h0M458.0 280.9h0M480.0 275.1h0M462.5 302.5h0M519.9 329.8h0M550.8 275.6h0M476.6 287.7h0M461.7 268.8h0M499.8 280.8h0M550.3 324.5h0M488.9 282.8h0M468.8 294.4h0M509.0 294.8h0M452.6 291.6h0M460.1 283.4h0M504.2 284.0h0M457.3 296.4h0M491.5 276.2h0M415.3 327.4h0M303.9 248.0h0M391.5 312.2h0M305.5 307.3h0M290.8 280.3h0M265.4 246.7h0M380.3 325.6h0M304.7 250.3h0M269.3 254.5h0M368.3 295.0h0M296.8 271.1h0M327.0 262.3h0M218.0 269.4h0M268.5 272.9h0M293.5 283.4h0M343.5 280.7h0M340.4 298.1h0M323.5 291.8h0M282.7 277.1h0M383.3 297.3h0M300.7 265.0h0M299.7 289.4h0M234.8 258.8h0M357.1 294.1h0M361.0 285.9h0M376.7 276.4h0M276.0 279.3h0M382.3 314.8h0M333.7 292.4h0M207.3 250.3h0M321.1 268.5h0M285.7 274.1h0M343.1 277.6h0M260.2 262.2h0M242.6 234.8h0M294.3 270.6h0M441.8 293.5h0M289.0 256.8h0M279.0 291.9h0M263.1 266.0h0M227.6 264.4h0M263.8 276.3h0M349.1 289.3h0M237.4 276.7h0M276.4 259.0h0M286.9 243.2h0M340.5 259.3h0M305.9 274.1h0M290.1 264.0h0M416.6 322.5h0M394.7 297.9h0M343.6 296.5h0M264.6 267.9h0M312.9 278.8h0M205.4 239.7h0M214.1 253.5h0M264.3 242.1h0M303.9 283.8h0M332.9 270.9h0M290.7 268.7h0M230.8 260.6h0M301.3 258.4h0M301.5 272.0h0M340.5 298.6h0M359.0 279.9h0M340.6 300.6h0M379.6 297.9h0M338.6 306.2h0M313.7 273.9h0M364.9 334.5h0M331.5 304.6h0M227.1 262.2h0M352.0 284.8h0M344.1 303.9h0M260.1 247.1h0M358.9 298.2h0M247.9 266.2h0M420.6 340.2h0M190.2 229.3h0M332.3 294.4h0M275.8 274.5h0M293.0 269.0h0M347.5 274.0h0M350.3 292.1h0M359.6 277.3h0M378.5 299.8h0M256.1 269.3h0M302.1 271.7h0M296.5 243.5h0M315.7 270.8h0M203.7 257.7h0M373.3 285.9h0M339.8 275.8h0M356.5 297.8h0M338.3 278.7h0M274.2 261.3h0M263.8 287.7h0M276.9 254.9h0M226.9 277.0h0M266.0 255.9h0M293.4 286.3h0M317.7 288.7h0M277.3 269.4h0M408.1 314.5h0M278.2 261.4h0M321.8 275.4h0M323.1 253.8h0M230.5 264.3h0M327.6 286.4h0M214.1 245.5h0M280.5 277.4h0M273.8 281.9h0M282.9 275.8h0M336.3 286.2h0M382.0 267.6h0M323.1 310.6h0M349.8 293.1h0M281.6 293.9h0M263.8 231.7h0M318.4 285.3h0M258.4 250.9h0M321.2 313.2h0M367.2 288.9h0M381.5 294.4h0M387.9 291.5h0M256.3 241.3h0M347.8 279.4h0M325.4 255.0h0M302.3 274.3h0M261.3 282.8h0M323.1 272.8h0M381.8 290.4h0M321.5 293.8h0M309.0 274.4h0M396.9 301.7h0M307.9 290.9h0M318.8 297.4h0M404.7 280.6h0M419.0 306.4h0M321.5 274.9h0M310.0 259.1h0M290.9 291.2h0M277.2 276.8h0M292.3 267.9h0M362.2 277.0h0M400.6 300.1h0M275.0 269.4h0M308.4 278.5h0M334.7 286.5h0M323.3 272.8h0M278.1 299.1h0M251.7 235.5h0M224.6 269.8h0M321.6 282.3h0M331.0 277.2h0M315.7 298.9h0M350.1 307.7h0M299.2 278.2h0M301.0 281.5h0M196.7 242.1h0M398.1 308.0h0M256.1 255.3h0M356.7 287.6h0M395.2 317.0h0M323.7 287.3h0M344.7 285.6h0M320.6 298.9h0M345.1 313.7h0M307.3 285.9h0M239.2 266.7h0M305.8 299.4h0M223.1 270.7h0M336.7 260.8h0M322.5 275.3h0M365.8 295.5h0M276.5 245.8h0M245.1 235.8h0M326.2 287.7h0M293.1 240.3h0M292.2 290.4h0M260.7 296.7h0M270.7 282.1h0M346.6 279.2h0M304.9 272.1h0M321.0 246.2h0M410.3 280.1h0M372.4 295.8h0M316.3 294.2h0M369.7 315.5h0M273.1 255.1h0M265.6 280.1h0M321.0 280.9h0M331.7 290.4h0M320.4 273.8h0M409.6 273.5h0M243.8 255.8h0M355.8 263.6h0M336.8 291.7h0M351.8 312.3h0M287.2 257.1h0M267.5 313.6h0M299.2 267.0h0M304.0 288.4h0M241.3 267.1h0M342.5 307.6h0M266.3 267.6h0M232.1 271.8h0M329.2 301.9h0M309.7 280.0h0M242.0 243.9h0M283.0 266.7h0M275.2 263.3h0M265.4 288.0h0M246.3 255.4h0M305.1 282.3h0M334.0 282.1h0M279.2 273.9h0M354.1 310.5h0M323.2 282.0h0M380.0 325.4h0M326.1 273.7h0M282.9 245.4h0M324.7 269.2h0M317.2 309.4h0M243.0 273.1h0M266.2 264.1h0M339.7 295.7h0M271.7 271.7h0M349.0 287.1h0M238.4 278.0h0M317.4 277.6h0M288.2 265.7h0M255.7 252.8h0M280.7 290.5h0M274.8 265.6h0M408.3 308.4h0M349.1 280.0h0M292.2 302.4h0M396.1 322.3h0M313.6 296.3h0M300.5 268.4h0M355.5 310.1h0M326.3 314.8h0M303.3 294.4h0M274.7 261.1h0M294.5 246.1h0M281.9 251.3h0M255.9 254.2h0M280.6 295.0h0M275.0 266.4h0M249.2 262.5h0M264.9 257.4h0M352.4 295.7h0M360.8 289.3h0M316.9 300.3h0M269.2 272.4h0M283.7 282.3h0M312.8 261.1h0M357.8 329.0h0M277.0 295.6h0M250.7 259.5h0M262.3 273.9h0M302.2 250.3h0M329.8 281.3h0M378.7 301.4h0M212.5 263.7h0M276.5 266.6h0M315.6 271.4h0M243.5 265.4h0M280.2 272.3h0M223.1 251.6h0M290.2 318.8h0M353.3 328.5h0M395.2 295.8h0M276.5 260.3h0M304.0 274.7h0M374.0 297.8h0M352.1 285.5h0M340.2 300.7h0M340.1 298.9h0M300.0 270.0h0M261.9 283.9h0M292.7 275.1h0M350.1 285.4h0M310.8 293.3h0M348.5 270.4h0M345.9 282.7h0M325.5 283.3h0M338.5 299.9h0M236.5 240.6h0M283.4 282.0h0M335.1 262.2h0M288.7 245.5h0M253.6 266.9h0M308.0 261.8h0M252.5 225.5h0M363.1 284.6h0M337.1 286.5h0M301.3 261.1h0M337.2 288.8h0M290.7 265.6h0M377.7 316.2h0M272.6 274.2h0M376.3 292.0h0M312.5 277.2h0M319.8 283.5h0M277.3 282.3h0M295.9 287.0h0M339.3 281.1h0M308.5 279.1h0M296.6 266.8h0M409.8 313.0h0M264.9 272.6h0M284.2 283.9h0M251.2 248.4h0M217.1 258.1h0M321.8 295.3h0M327.1 267.0h0M268.7 277.5h0M249.9 250.7h0M338.7 268.5h0M271.3 246.6h0M402.7 334.6h0M384.3 309.5h0M334.2 281.9h0M300.4 278.2h0M341.8 298.0h0M230.9 231.0h0M351.2 304.3h0M390.7 328.8h0M232.5 265.7h0M294.1 291.9h0M352.3 297.0h0M312.8 290.8h0M294.0 286.8h0M384.2 328.8h0M327.0 252.9h0M360.8 299.5h0M290.4 292.0h0M316.3 292.9h0M249.1 278.8h0M228.7 246.5h0M263.3 277.7h0M332.3 305.8h0M365.1 288.8h0M252.1 266.1h0M371.3 264.9h0M277.1 295.1h0M243.2 298.0h0M325.9 278.4h0M331.1 293.8h0M283.1 254.6h0M317.4 288.6h0M333.6 273.4h0M337.1 304.6h0M292.1 264.5h0M278.7 293.0h0M464.0 364.3h0M341.7 307.7h0M264.3 281.8h0M331.9 266.7h0M343.5 294.7h0M348.4 283.2h0M233.5 249.1h0M296.6 309.2h0M337.5 276.6h0M359.0 302.1h0M378.7 293.6h0M322.1 279.1h0M268.5 275.4h0M419.1 303.6h0M260.0 283.8h0M315.2 304.6h0M371.8 283.8h0M308.1 290.9h0M386.2 304.9h0M343.1 283.7h0M353.2 278.2h0M381.9 313.8h0M329.1 297.3h0M242.7 242.9h0M365.7 303.9h0M350.2 284.6h0M327.4 281.1h0M331.0 289.1h0M288.5 270.0h0M275.0 269.2h0M349.9 298.1h0M271.5 240.1h0M356.6 279.2h0M295.2 284.8h0M290.5 281.7h0M263.2 285.8h0M289.4 275.3h0M321.8 297.8h0M319.8 282.7h0M325.3 296.9h0M348.6 311.2h0M295.6 289.2h0M317.3 281.0h0M284.1 265.1h0M361.4 291.6h0M370.6 299.9h0M345.4 280.8h0M402.0 302.7h0M288.6 240.4h0M280.4 267.2h0M313.3 281.8h0M438.4 310.9h0M348.3 291.4h0M344.1 286.7h0M320.3 289.0h0M372.4 320.1h0M344.8 270.3h0M384.1 326.7h0M360.2 309.9h0M398.4 295.0h0M230.9 237.6h0M302.9 277.2h0M321.9 292.5h0M248.2 264.4h0M290.8 275.0h0M371.8 303.6h0M349.0 307.6h0M382.9 304.0h0M272.2 279.1h0M386.4 300.5h0M291.9 276.4h0M361.2 306.3h0M298.7 255.4h0M375.6 317.7h0M335.0 303.9h0M303.6 256.9h0M307.0 275.6h0M333.8 285.7h0M414.9 324.5h0M281.6 298.9h0M374.5 309.3h0M339.3 334.9h0M344.6 270.7h0M359.7 293.2h0M370.3 320.9h0M314.6 297.3h0M307.1 267.1h0M289.5 282.2h0M364.7 277.0h0M386.0 297.2h0M381.6 300.4h0M344.7 268.5h0M327.6 273.8h0M291.2 268.9h0M347.4 304.8h0M304.6 239.8h0M289.3 273.4h0M285.1 281.9h0M258.1 262.5h0M336.5 284.7h0M319.9 276.1h0M390.6 283.2h0M310.3 275.9h0M457.5 311.9h0M338.8 284.3h0M302.5 274.1h0M362.7 279.2h0M304.9 308.8h0M382.4 346.8h0M279.9 271.0h0M258.8 285.3h0M443.5 344.6h0M353.4 283.9h0M344.3 298.9h0M294.0 277.9h0M289.9 271.7h0M305.8 292.8h0M338.0 279.6h0M336.2 293.8h0M234.4 268.8h0M384.5 310.6h0M353.0 274.4h0M376.0 302.2h0M256.1 257.3h0M306.3 289.9h0M292.4 281.8h0M317.5 300.6h0M226.3 250.0h0M363.7 296.7h0M292.5 281.2h0M183.5 219.6h0M348.1 296.6h0M270.1 258.4h0M371.4 278.9h0M224.7 262.8h0M291.5 260.1h0M243.8 254.8h0M343.8 279.6h0M256.9 233.6h0M253.7 276.9h0M277.9 289.7h0M274.0 252.6h0M371.7 324.0h0M293.1 287.8h0M294.2 276.6h0M319.2 278.3h0M322.0 283.5h0M322.0 293.6h0M292.5 281.0h0M295.2 270.4h0M293.3 299.8h0M314.5 279.5h0M310.7 329.3h0M379.6 302.6h0M254.5 258.0h0M252.2 280.7h0M314.6 292.6h0M324.7 273.7h0M363.9 275.1h0M342.8 310.6h0M335.8 284.3h0M415.5 305.3h0M367.9 316.8h0M276.3 269.0h0M336.7 278.4h0M272.9 253.3h0M322.4 272.2h0M290.1 249.3h0M290.7 240.0h0M270.0 284.8h0M316.5 278.8h0M334.7 312.6h0M340.1 299.6h0M324.0 299.0h0M310.4 274.0h0M331.0 248.3h0M374.3 322.5h0M270.7 260.8h0M238.9 267.4h0M305.1 264.9h0M298.0 266.0h0M367.4 311.9h0M372.2 312.3h0M387.3 332.1h0M246.6 279.9h0M362.2 288.6h0M393.6 289.4h0M354.0 286.9h0M396.1 319.1h0M369.4 293.6h0M317.1 307.0h0M384.9 319.9h0M342.2 280.3h0M247.7 254.2h0M354.9 294.8h0M268.3 267.5h0M307.8 292.8h0M217.5 230.9h0M286.5 255.7h0M354.1 308.9h0M302.9 262.1h0M226.3 297.1h0M260.8 253.2h0M384.2 282.6h0M303.5 281.5h0M352.0 288.1h0M414.3 328.5h0M337.9 296.0h0M334.6 261.1h0M407.0 292.1h0M215.1 239.0h0M340.8 296.0h0M337.8 300.0h0M354.9 285.2h0M346.7 306.3h0M303.6 287.4h0M270.1 265.7h0M394.7 272.0h0M362.0 316.2h0M235.0 253.4h0M275.8 283.4h0M362.7 283.9h0M349.7 279.8h0M301.8 292.3h0M307.9 251.8h0M308.8 298.9h0M339.8 308.1h0M303.0 285.9h0M310.1 263.0h0M261.8 264.4h0M378.5 286.0h0M272.9 254.9h0M304.6 299.0h0M316.8 303.3h0M300.1 268.1h0M252.6 265.8h0M277.9 262.3h0M298.2 262.9h0M204.6 236.8h0M326.8 273.9h0M441.3 314.6h0M278.4 271.5h0M278.0 241.7h0M322.2 275.7h0M283.9 256.2h0M254.9 237.7h0M309.7 272.9h0M284.5 265.9h0M285.5 279.6h0M351.7 314.4h0M325.4 286.9h0M338.1 285.3h0M379.1 317.6h0M340.2 268.5h0M355.9 281.0h0M313.5 267.8h0M354.8 298.9h0M391.2 280.7h0M290.4 237.5h0M329.1 303.7h0M260.8 236.9h0M302.4 271.1h0M311.2 268.0h0M343.6 313.2h0M295.0 262.8h0M389.3 304.9h0M393.8 307.4h0M357.7 299.0h0M427.3 318.7h0M270.6 273.1h0M222.0 253.6h0M292.9 259.1h0M271.8 276.8h0M268.3 232.3h0M290.1 284.7h0M343.7 289.5h0M378.1 295.9h0M300.9 281.9h0M360.4 302.9h0M314.6 327.4h0M323.7 263.2h0M389.0 320.3h0M317.3 298.9h0M335.3 316.6h0M326.5 286.6h0M271.8 285.3h0M362.3 301.0h0M439.4 300.1h0M319.0 262.2h0M367.5 283.2h0M389.1 300.6h0M332.3 278.2h0M330.0 289.0h0M304.6 273.3h0M254.7 266.0h0M295.3 296.8h0M351.1 266.7h0M359.4 306.2h0M272.6 287.2h0M402.1 309.8h0M233.8 235.6h0M264.8 265.4h0M327.4 297.9h0M262.8 271.3h0M300.1 250.4h0M344.5 311.7h0M265.8 284.1h0M253.8 291.0h0M351.2 288.4h0M396.7 312.8h0M315.3 276.3h0M378.6 293.2h0M231.3 262.8h0M278.3 258.4h0M375.1 300.4h0M349.4 293.8h0M313.9 268.1h0M260.4 260.1h0M227.9 285.0h0M360.9 335.9h0M363.6 277.3h0M322.4 293.7h0M345.0 301.4h0M313.3 274.5h0M291.0 256.1h0M282.6 277.2h0M285.0 260.5h0M274.9 290.6h0M384.6 328.4h0M336.8 324.0h0M319.1 276.2h0M388.0 311.8h0M348.6 293.2h0M323.8 266.4h0M329.4 311.1h0M346.4 252.9h0M283.0 271.8h0M326.4 318.7h0M266.6 250.1h0M287.3 242.4h0M311.3 282.7h0M286.1 284.7h0M337.4 271.0h0M336.9 274.1h0M416.9 347.6h0M325.8 287.3h0M344.5 287.6h0M289.5 298.7h0M317.2 287.8h0M323.0 300.1h0M371.7 300.5h0M330.2 271.2h0M310.3 257.9h0M283.3 275.6h0M323.9 285.8h0M365.2 310.3h0M252.0 268.1h0M383.1 276.6h0M321.9 285.4h0M259.5 286.9h0M306.3 289.7h0M366.3 300.4h0M368.8 290.5h0M276.4 286.8h0M305.8 263.7h0M394.7 298.6h0M358.4 301.6h0M411.0 304.5h0M373.3 275.5h0M305.5 295.0h0M332.7 291.1h0M287.4 265.0h0M334.2 286.2h0M373.7 316.3h0M352.6 299.8h0M295.1 256.9h0M255.2 261.7h0M325.6 292.6h0M200.3 256.6h0M312.3 292.9h0M392.0 320.2h0M317.8 261.2h0M226.6 260.2h0M311.8 265.2h0M287.1 276.0h0M359.0 286.4h0M230.3 253.5h0M323.3 270.8h0M283.0 246.2h0M369.1 295.8h0M337.9 310.4h0M274.8 260.6h0M358.1 265.9h0M302.9 268.5h0M375.3 301.7h0M344.4 287.8h0M360.5 322.6h0M304.4 291.9h0M300.0 268.8h0M293.8 252.2h0M325.1 257.1h0M207.0 252.4h0M397.1 314.6h0M321.5 297.8h0M321.2 298.4h0M240.8 269.9h0M254.7 284.4h0M259.6 247.0h0M350.7 321.9h0M274.9 247.1h0M273.4 253.9h0M353.3 302.1h0M274.8 265.6h0M220.9 259.9h0M176.7 217.9h0M312.1 267.5h0M402.4 294.8h0M348.2 307.0h0M342.2 274.8h0M259.8 274.2h0M399.5 293.6h0M284.3 247.2h0M376.4 304.2h0M439.6 334.1h0M350.8 296.0h0M240.6 233.2h0M325.1 303.0h0M282.9 272.6h0M312.5 284.4h0M364.2 274.6h0M406.4 322.7h0M373.4 307.1h0M311.0 292.0h0M340.7 286.5h0M281.2 287.1h0M333.7 297.3h0M304.9 298.6h0M365.9 290.7h0M364.7 298.0h0M333.4 282.8h0M319.7 311.2h0M302.1 262.9h0M384.9 301.4h0M358.4 270.6h0M370.5 272.2h0M295.1 286.4h0M349.0 290.6h0M322.6 293.2h0M361.2 295.6h0M443.1 313.0h0M360.3 297.5h0M347.3 296.7h0M225.8 231.3h0M292.2 300.8h0M228.3 256.1h0M287.1 287.1h0M369.2 308.9h0M406.3 313.7h0M312.1 278.0h0M214.0 270.6h0M382.8 285.2h0M367.1 303.0h0M301.9 283.5h0M207.6 267.4h0M374.6 296.8h0M309.2 302.0h0M324.8 295.2h0M210.4 239.4h0M272.6 254.1h0M391.4 323.9h0M263.8 293.4h0M347.2 255.2h0M307.0 275.7h0M320.3 284.9h0M348.2 301.6h0M271.6 273.6h0M321.3 294.0h0M318.3 290.2h0M273.6 294.2h0M330.2 286.8h0M298.6 282.2h0M248.5 272.3h0M397.1 318.5h0M359.7 309.1h0M301.0 268.9h0M339.5 294.1h0M234.8 276.0h0M307.8 276.3h0M325.3 285.9h0M335.3 293.7h0M253.3 245.7h0M305.8 262.8h0M330.0 279.1h0M383.4 285.6h0M372.4 297.7h0M419.6 321.2h0M261.8 268.4h0M403.5 311.5h0M276.0 287.0h0M340.2 284.7h0M282.0 252.5h0M370.9 316.8h0M285.6 251.8h0M361.2 287.6h0M279.3 231.4h0M298.4 289.1h0M324.1 266.4h0M319.2 305.1h0M362.6 308.8h0M360.4 292.9h0M410.5 303.8h0M329.0 274.0h0M292.7 298.0h0M444.6 320.3h0M304.8 286.1h0M317.3 285.1h0M282.2 261.4h0M379.4 271.9h0M426.1 336.7h0M319.7 278.3h0M331.1 290.3h0M449.3 313.7h0M323.0 273.6h0M439.7 305.3h0M357.8 323.9h0M368.3 279.2h0M312.8 279.1h0M434.6 326.0h0M402.9 292.7h0M361.3 294.1h0M389.1 340.6h0M279.7 268.9h0M279.0 247.3h0M359.3 293.8h0M418.9 323.9h0M340.6 273.0h0M405.6 316.3h0M449.9 300.8h0M364.1 274.0h0M357.4 292.2h0M446.5 340.0h0M282.4 259.2h0M432.7 305.0h0M369.9 304.7h0M312.8 266.0h0M401.5 302.9h0M369.7 333.2h0M415.7 299.5h0M302.1 289.4h0M364.0 307.0h0M403.5 279.1h0M314.7 291.4h0M323.1 287.2h0M393.2 317.6h0M279.9 284.5h0M385.1 298.7h0M302.6 276.1h0M379.9 278.6h0M296.3 260.2h0M305.4 297.4h0M405.2 309.6h0M341.7 290.7h0M407.4 311.6h0M354.8 299.8h0M332.7 267.0h0M289.3 270.2h0M410.6 296.4h0M404.0 297.7h0M376.7 303.8h0M430.7 335.3h0M401.3 311.8h0M358.5 297.5h0M428.4 303.3h0M340.4 300.8h0M434.5 319.9h0M284.6 284.3h0M265.8 282.3h0M373.7 273.4h0M289.0 256.1h0M442.5 290.0h0M440.4 290.9h0M340.3 308.7h0M271.8 248.1h0M447.8 321.6h0M338.1 278.4h0M355.0 300.7h0M324.9 290.5h0M318.1 309.8h0M315.0 325.1h0M320.6 293.7h0M389.5 306.5h0M328.9 282.6h0M402.7 305.8h0M395.7 292.3h0M414.2 300.8h0M280.0 274.4h0M435.1 320.5h0M418.4 312.8h0M321.5 258.8h0M286.5 287.1h0M431.0 319.2h0M356.4 282.8h0M343.5 292.5h0M436.4 309.3h0M335.1 271.6h0M424.1 314.8h0M435.7 336.2h0M402.8 292.8h0M282.6 315.0h0M433.1 297.6h0M321.0 292.3h0M311.5 292.1h0M382.2 300.7h0M354.0 315.0h0M396.3 330.7h0M448.2 351.2h0M451.1 323.3h0M348.5 303.9h0M382.5 339.0h0M412.9 299.1h0M357.7 304.2h0M424.3 294.7h0M334.9 283.1h0M399.9 299.0h0M273.1 260.6h0M442.1 322.9h0M318.6 274.3h0M345.9 283.2h0M385.8 305.1h0M311.6 252.7h0M264.3 246.0h0M289.4 262.3h0M418.2 308.0h0M382.8 303.7h0M447.1 310.5h0M441.6 311.5h0M375.7 277.7h0M346.6 284.8h0M369.7 293.7h0M439.4 311.8h0M325.4 286.0h0M327.1 261.4h0M384.9 299.0h0M363.2 296.3h0M379.6 276.9h0M365.6 304.6h0M378.8 322.2h0M269.6 255.2h0M371.3 278.1h0M416.8 292.7h0M422.9 320.9h0M360.8 295.5h0M298.6 305.3h0M429.3 312.5h0M305.3 276.1h0M320.7 291.3h0M311.0 269.9h0M444.3 303.7h0M413.4 307.9h0M404.0 286.8h0M281.8 275.5h0M323.8 279.2h0M343.9 265.6h0M420.2 275.8h0M263.0 295.0h0M383.4 305.5h0M314.4 302.4h0M330.0 284.4h0M435.7 311.2h0M294.1 273.1h0M396.0 326.8h0M301.2 275.1h0M286.7 290.3h0M359.3 313.4h0M423.4 311.4h0M339.4 294.0h0M285.7 266.2h0M414.1 319.7h0M318.4 265.3h0M405.6 315.7h0M424.5 327.8h0M413.3 328.9h0M312.5 286.3h0M312.4 250.6h0M371.5 296.4h0M442.1 332.4h0M322.1 304.8h0M284.4 277.1h0M267.9 294.3h0M427.3 265.1h0M416.5 311.9h0M426.5 324.1h0M382.9 292.3h0M367.1 313.9h0M434.0 326.3h0M289.9 287.6h0M269.1 282.0h0M335.6 287.4h0M346.8 294.4h0M334.7 294.9h0M288.5 255.2h0M390.0 340.5h0M362.0 278.3h0M308.1 300.4h0M382.1 280.0h0M294.4 273.8h0M405.6 332.6h0M326.2 306.7h0M289.1 281.5h0M335.7 312.5h0M430.2 324.3h0M394.1 277.0h0M268.2 280.6h0M342.6 285.7h0M439.4 319.6h0M362.1 293.7h0M266.6 268.7h0M354.2 274.7h0M401.2 276.2h0M390.3 287.8h0M383.4 336.6h0M421.1 323.0h0M282.3 250.1h0M364.5 285.4h0M410.0 298.8h0M383.8 285.5h0M424.6 320.9h0M331.5 302.3h0M302.6 292.4h0M394.8 302.0h0M346.5 284.1h0M316.9 264.8h0M314.4 272.5h0M411.6 311.5h0M414.2 292.5h0M286.5 288.2h0M354.5 285.4h0M357.7 295.9h0M351.4 292.1h0M413.2 314.8h0M288.3 272.0h0M272.6 290.2h0M282.0 282.4h0M444.4 310.3h0M450.0 303.5h0M298.7 295.1h0M322.0 266.2h0M410.3 289.9h0M331.2 274.5h0M374.3 284.9h0M361.5 277.4h0M322.8 287.5h0M287.0 303.1h0M432.2 327.7h0M352.2 275.0h0M403.4 310.0h0M268.7 246.7h0M308.6 264.4h0M446.4 322.2h0M326.6 263.1h0M394.7 343.3h0M274.3 255.7h0M348.6 281.5h0M399.8 307.0h0M306.0 292.3h0M446.0 329.8h0M345.1 305.6h0M389.8 297.7h0M406.1 309.4h0M368.0 309.9h0M378.9 310.6h0M423.6 296.8h0M273.7 271.4h0M270.4 279.6h0M381.7 278.6h0M432.5 302.8h0M374.5 306.7h0M416.1 293.2h0M431.3 322.2h0M262.2 270.7h0M311.3 268.6h0M285.1 262.3h0M374.9 307.0h0M284.5 249.8h0M329.2 273.0h0M367.8 283.5h0M380.9 295.3h0M347.6 295.2h0M288.9 279.1h0M391.9 273.7h0M427.0 301.9h0M337.2 296.3h0M353.8 294.2h0M328.6 305.5h0M397.9 309.6h0M264.7 307.1h0M314.1 311.8h0M391.4 316.0h0M395.9 266.1h0M313.5 284.1h0M445.4 307.2h0M314.8 290.9h0M274.7 237.9h0M273.9 260.5h0M400.3 312.8h0M268.5 277.6h0M320.6 283.7h0M372.2 314.1h0M386.9 304.5h0M320.1 275.8h0M320.6 309.7h0M426.0 289.3h0M393.8 281.0h0M329.8 283.5h0M353.9 280.6h0M333.8 282.6h0M380.1 307.8h0M268.6 255.8h0M361.7 289.5h0M302.9 284.7h0M325.1 307.7h0M397.1 311.7h0M305.3 261.3h0M357.9 281.3h0M394.8 309.7h0M301.5 255.7h0M269.9 274.9h0M428.3 311.6h0M399.0 305.3h0M317.2 307.4h0M420.7 302.5h0M339.0 272.8h0M430.7 314.4h0M346.3 248.5h0M354.3 313.8h0M302.1 275.1h0M353.1 296.4h0M411.8 296.4h0M425.0 307.4h0M354.5 283.9h0M290.9 289.1h0M284.5 267.8h0M305.5 267.3h0M402.3 306.7h0M427.7 339.5h0M445.3 343.5h0M285.8 293.7h0M315.9 283.2h0M342.1 314.2h0M306.0 282.8h0M378.5 298.6h0M346.1 309.8h0M269.7 260.1h0M400.5 323.9h0M425.2 305.8h0M420.7 278.1h0M299.3 304.6h0M398.7 306.5h0M360.4 272.7h0M283.0 274.8h0M414.5 323.3h0M345.7 293.8h0M297.9 304.4h0M330.8 293.5h0M341.2 287.8h0M439.8 325.2h0M432.9 316.7h0M402.4 336.9h0M312.0 261.0h0M431.7 321.8h0M262.9 268.2h0M348.2 294.9h0M430.5 315.3h0M324.4 279.9h0M296.9 271.1h0M370.7 302.3h0M308.5 296.1h0M304.6 260.3h0M416.8 336.8h0M301.9 267.0h0M281.3 293.9h0M380.7 307.1h0M282.6 266.9h0M326.7 284.7h0M303.6 285.7h0M318.4 273.3h0M410.3 303.6h0M422.5 320.0h0M383.7 307.2h0M270.1 292.1h0M293.6 277.8h0M413.9 272.9h0M396.6 296.6h0M427.6 301.0h0M373.6 304.4h0M290.8 305.2h0M353.1 299.9h0M272.7 267.4h0M314.9 297.8h0M366.5 315.8h0M309.0 282.3h0M310.7 271.0h0M380.3 312.7h0M330.5 256.5h0M290.9 286.5h0M441.4 318.0h0M417.0 329.6h0M410.6 292.3h0M327.9 317.8h0M394.1 306.5h0M277.7 269.5h0M335.8 278.1h0M295.0 268.1h0M289.0 294.6h0M392.3 292.9h0M358.3 300.5h0M337.3 324.9h0M425.6 275.9h0M394.1 296.3h0M319.1 273.2h0M398.9 286.9h0M334.6 289.2h0M344.4 300.9h0M322.0 276.3h0M440.0 297.5h0M400.8 281.9h0M344.2 311.2h0M299.1 262.0h0M279.6 302.1h0M412.2 297.3h0M293.7 287.6h0M413.6 295.4h0M307.8 266.5h0M338.2 279.5h0M403.1 289.2h0M333.2 273.6h0M368.3 292.7h0M290.9 252.1h0M285.9 275.8h0M435.6 322.7h0M347.6 286.6h0M362.0 306.8h0M365.3 294.9h0M435.8 246.5h0M403.8 241.1h0M393.0 267.3h0M418.2 276.5h0M437.9 265.8h0M370.0 252.2h0M431.2 272.2h0M408.8 310.4h0M343.8 256.6h0M456.7 276.7h0M466.6 297.6h0M431.6 281.9h0M399.1 270.1h0M456.5 278.8h0M400.6 270.6h0M408.8 266.4h0M441.7 285.7h0M420.0 258.9h0M369.5 270.6h0M444.5 293.1h0M428.0 285.1h0M371.7 278.4h0M373.5 251.8h0M469.5 269.6h0M461.0 277.4h0M358.3 263.1h0M386.1 273.2h0M337.4 267.9h0M391.6 257.2h0M468.1 268.6h0M417.8 268.3h0M419.5 269.5h0M417.7 273.9h0M369.0 253.9h0M361.4 266.2h0M401.8 258.4h0M437.0 296.3h0M461.9 251.0h0M350.6 269.5h0M450.2 287.3h0M349.1 250.8h0M450.7 250.1h0M429.7 251.3h0M352.4 252.6h0M449.9 270.8h0M343.6 263.6h0M387.0 243.0h0M435.4 274.2h0M380.4 254.8h0M363.5 247.1h0M464.8 257.4h0M352.3 293.7h0M437.0 268.8h0M412.8 302.8h0M454.6 256.2h0M342.7 251.4h0M363.1 270.0h0M372.2 284.8h0M335.9 271.9h0M448.3 286.2h0M371.7 258.0h0M360.9 264.5h0M461.8 244.6h0M347.2 276.2h0M414.4 289.8h0M425.6 237.1h0M400.3 278.7h0M389.6 289.2h0M357.9 254.4h0M336.3 237.9h0M345.5 261.4h0M406.3 259.9h0M344.8 250.8h0M442.1 280.3h0M468.2 270.3h0M458.9 257.5h0M360.1 270.0h0M358.9 233.5h0M440.3 290.9h0M410.2 282.8h0M404.0 273.8h0M396.5 277.7h0M411.1 273.2h0M438.3 259.2h0M466.1 243.0h0M393.7 290.1h0M431.8 281.1h0M431.7 291.0h0M366.0 263.0h0M419.0 277.8h0M449.6 283.1h0M424.7 275.6h0M388.5 260.7h0M397.3 279.3h0M449.9 270.4h0M419.3 288.2h0M424.3 242.7h0M371.7 265.4h0M340.1 240.1h0M365.6 234.1h0M391.6 263.5h0M350.3 286.2h0M368.8 257.4h0M424.9 284.7h0M359.1 251.6h0M443.8 281.5h0M392.0 257.0h0M441.0 263.6h0M439.1 292.3h0M335.1 238.4h0M464.8 226.1h0M429.1 283.6h0M391.5 266.6h0M340.8 276.9h0M448.9 269.0h0M389.9 264.8h0M368.3 257.6h0M355.6 249.9h0M376.6 254.7h0M349.8 277.1h0M378.2 296.1h0M461.3 272.8h0M349.8 264.6h0M373.3 253.0h0M459.1 246.8h0M383.9 260.4h0M451.4 276.9h0M385.3 263.9h0M402.5 273.1h0M423.4 265.8h0M387.6 275.2h0M420.1 260.9h0M456.5 282.7h0M378.7 284.4h0M356.6 260.3h0M431.0 262.0h0M412.9 260.1h0M406.0 285.5h0M353.2 289.6h0M354.3 285.8h0M386.9 245.7h0M471.0 258.3h0M334.6 253.4h0M392.9 244.5h0M339.7 245.6h0M376.1 244.6h0M367.0 263.4h0M428.8 239.7h0M369.0 240.3h0M364.4 277.8h0M342.6 249.1h0M453.0 245.4h0M437.0 231.3h0M408.3 273.4h0M419.7 261.1h0M410.5 260.5h0M458.5 283.9h0M338.0 263.8h0M340.4 259.2h0M442.1 290.4h0M458.7 265.8h0M433.2 277.1h0M405.9 279.9h0M437.3 281.7h0M418.3 254.8h0M421.4 252.0h0M387.7 270.7h0M350.1 266.1h0M345.4 296.6h0M369.1 264.7h0M347.6 236.7h0M426.7 260.4h0M362.3 246.3h0M347.2 260.3h0M419.2 278.4h0M436.3 269.4h0M437.0 249.8h0M435.8 256.1h0M436.5 282.6h0M341.3 274.2h0M429.9 257.6h0M370.9 258.1h0M363.3 237.9h0M464.0 284.7h0M472.2 301.3h0M429.7 267.9h0M428.6 291.2h0M394.6 272.9h0M463.6 276.4h0M449.2 268.8h0M421.4 233.0h0M381.8 253.1h0M467.7 275.7h0M357.4 273.9h0M406.9 247.0h0M346.1 263.4h0M362.6 282.4h0M340.1 255.1h0M367.8 279.0h0M429.7 259.0h0M451.8 241.7h0M370.0 280.1h0M390.4 260.3h0M394.7 271.4h0M437.6 273.8h0M338.7 244.2h0M352.1 295.7h0M451.8 281.3h0M341.5 240.4h0M334.6 270.6h0M453.4 288.1h0M423.6 274.0h0M414.4 264.1h0M438.2 262.6h0M344.4 248.4h0M342.3 239.3h0M450.6 257.5h0M417.6 258.9h0M357.7 253.5h0M349.7 278.4h0M464.8 260.6h0M414.8 245.2h0M469.6 278.2h0M346.7 252.3h0M403.5 251.5h0M391.2 263.3h0M369.0 260.5h0M373.7 279.4h0M341.1 270.9h0M431.0 259.8h0M441.0 241.9h0M344.3 277.0h0M414.8 244.7h0M415.0 269.7h0M435.3 281.8h0M466.1 304.9h0M422.3 272.2h0M411.9 259.6h0M373.3 284.2h0M405.3 267.7h0M420.8 266.6h0M362.5 254.6h0M438.9 263.4h0M340.4 260.4h0M439.6 255.5h0M461.7 262.9h0M376.7 267.4h0M402.3 271.3h0M448.3 272.6h0M447.1 304.2h0M376.7 263.2h0M457.1 283.2h0M461.9 257.9h0M453.8 268.2h0M451.0 263.9h0M366.5 275.0h0M399.7 259.5h0M379.1 265.0h0M444.3 295.9h0M393.3 293.6h0M140.4 254.0h0M306.0 274.9h0M314.4 282.1h0M285.6 364.1h0M349.3 273.8h0M348.1 281.2h0M167.4 262.2h0M211.9 277.0h0M260.8 235.5h0M328.7 271.4h0M334.9 213.9h0M219.8 282.3h0M404.7 295.6h0M322.2 270.1h0M305.5 318.0h0M283.2 289.2h0M314.7 190.1h0M124.7 286.8h0M215.1 256.0h0M222.2 299.3h0M333.9 288.0h0M330.0 244.1h0M254.1 291.7h0M608.3 277.5h0M216.4 222.3h0M446.2 276.7h0M349.2 259.5h0M141.5 304.4h0M352.1 269.8h0M321.4 276.3h0M389.9 355.1h0M388.2 265.3h0M282.8 165.2h0M229.4 263.7h0M247.9 266.0h0M255.9 263.0h0M178.8 257.0h0M288.1 232.8h0M269.8 247.6h0M222.8 278.6h0M322.3 251.7h0M204.2 256.8h0M214.6 292.3h0M362.7 345.8h0M203.6 249.8h0M365.5 209.1h0M267.1 273.5h0M118.9 261.4h0M259.3 283.8h0M223.5 229.2h0M290.5 263.2h0M255.3 283.6h0M306.9 273.1h0M340.1 253.2h0M291.6 226.1h0M378.9 255.3h0M194.1 265.8h0M275.9 270.1h0M308.0 266.8h0M307.5 278.4h0M424.8 297.5h0M256.1 237.8h0M343.3 250.9h0M270.9 285.3h0M285.5 268.9h0M172.8 287.4h0M282.2 243.5h0M230.0 300.7h0M474.3 293.1h0M230.8 255.8h0M335.6 273.4h0M409.5 263.2h0M354.6 267.7h0M215.7 270.1h0M234.5 253.6h0M404.6 260.4h0M177.3 274.7h0M285.9 242.3h0M385.2 273.7h0M138.2 227.9h0M211.5 277.7h0M197.9 257.4h0M232.6 272.5h0M330.4 232.3h0M193.9 306.0h0M223.5 215.8h0M372.7 322.1h0M364.8 302.0h0M246.6 294.9h0M197.9 260.1h0M172.1 289.5h0M305.7 281.4h0M281.4 270.3h0M337.3 222.5h0M298.5 249.3h0M307.6 260.1h0M150.9 318.7h0M336.4 294.0h0M121.4 276.1h0M407.5 238.6h0M159.4 206.9h0M247.0 263.1h0M184.0 256.0h0M387.4 260.6h0M269.4 264.6h0M335.7 260.3h0M329.4 296.0h0M190.0 226.0h0M210.8 250.6h0M176.3 266.5h0M207.5 285.8h0M336.7 272.5h0M316.3 284.3h0M332.5 271.0h0M203.0 230.7h0M193.6 229.5h0M371.9 253.9h0M305.7 290.9h0M296.7 274.6h0M266.1 257.6h0M324.4 297.0h0M376.8 262.6h0M250.7 274.1h0M231.4 281.2h0M155.8 277.9h0M253.5 252.4h0M188.2 283.6h0M143.8 260.0h0M295.3 298.5h0M296.8 280.2h0M283.3 217.1h0M143.5 263.6h0M204.0 252.7h0M235.0 293.8h0M445.2 294.6h0M319.8 264.1h0M359.1 279.9h0M273.7 270.3h0M187.5 285.9h0M447.0 248.2h0M302.7 269.2h0M306.4 257.2h0M352.6 287.7h0M264.3 241.6h0M306.1 347.0h0M168.9 313.2h0M295.5 250.5h0M169.0 248.9h0M149.7 257.2h0M311.5 270.8h0M190.3 345.5h0M232.8 265.4h0M272.7 260.2h0M264.7 345.1h0M389.3 305.6h0M268.8 218.9h0M326.6 292.3h0M343.6 248.3h0M141.7 267.1h0M151.4 272.5h0M308.2 295.5h0M230.0 250.8h0M183.5 247.6h0M343.3 256.7h0M309.7 292.2h0M241.0 351.7h0M327.6 281.8h0M270.1 270.6h0M359.1 288.8h0M332.9 287.8h0M279.1 286.8h0M378.3 320.4h0M328.1 249.3h0M247.3 279.4h0M294.3 264.3h0M339.2 230.1h0M319.1 271.6h0M231.4 170.1h0M452.8 274.6h0M248.8 264.8h0M188.6 312.1h0M298.5 280.0h0M114.4 237.3h0M314.6 368.3h0M261.9 306.4h0M392.2 278.6h0M205.3 243.1h0M282.3 237.2h0M399.9 307.6h0M339.4 284.2h0M237.5 287.7h0M262.0 310.1h0M287.6 259.0h0M123.4 269.7h0M316.3 266.7h0M160.6 262.1h0M276.1 321.6h0M267.6 306.5h0M107.9 249.6h0M232.4 290.8h0M321.9 335.9h0M284.5 323.0h0M295.4 321.3h0M200.6 278.7h0M305.9 342.0h0M276.1 312.1h0M300.9 327.1h0M354.4 347.6h0M362.0 317.7h0M261.2 310.1h0M280.6 318.9h0M215.5 295.4h0M275.6 317.7h0M319.5 333.4h0M212.2 279.7h0M309.4 328.6h0M145.0 284.0h0M307.6 321.2h0M339.1 352.0h0M185.1 267.1h0M222.2 291.5h0M297.5 332.3h0M151.2 252.9h0M197.5 274.0h0M268.4 352.0h0M276.4 316.5h0M171.5 274.8h0M164.9 270.5h0M249.2 302.0h0M269.5 309.9h0M297.4 321.3h0M179.6 282.3h0M174.0 293.5h0M263.3 307.9h0M157.2 262.2h0M169.1 304.5h0M244.6 316.2h0M295.1 327.6h0M324.1 342.1h0M225.4 299.8h0M189.2 290.4h0M273.8 314.9h0M271.7 332.8h0M239.7 335.7h0M259.7 323.8h0M160.8 266.5h0M258.8 325.6h0M272.8 312.6h0M135.0 255.9h0M171.3 279.3h0M247.3 297.6h0M257.5 303.0h0M288.1 329.3h0M247.0 302.9h0M265.1 332.3h0M262.0 322.7h0M290.2 329.4h0M245.7 308.1h0M317.0 329.4h0M345.1 333.7h0M313.5 336.3h0M323.0 334.5h0M191.8 275.5h0M221.7 340.2h0M343.0 322.5h0M137.9 250.8h0M248.1 317.3h0M236.3 299.1h0M318.8 343.9h0M235.2 319.3h0M255.0 303.6h0M216.6 284.1h0M247.0 338.2h0M278.9 330.6h0M254.2 319.5h0M291.5 320.2h0M313.6 341.5h0M215.1 291.7h0M318.3 351.6h0M289.6 317.5h0M216.8 313.6h0M202.1 279.1h0M240.1 300.2h0M275.9 320.1h0M272.5 326.2h0M335.9 332.8h0M244.1 328.9h0M325.1 330.2h0M241.4 294.8h0M342.5 316.1h0M222.0 325.4h0M284.9 321.1h0M276.6 314.1h0M311.4 332.6h0M284.7 316.1h0M281.8 314.9h0M303.4 333.4h0M259.4 321.2h0M261.1 331.7h0M211.2 316.2h0M185.2 266.0h0M341.9 315.0h0M271.7 320.5h0M272.1 321.9h0M182.6 271.6h0M315.3 335.4h0M347.9 346.9h0M270.3 312.1h0M296.9 324.0h0M318.0 340.0h0M254.3 322.9h0M291.8 318.7h0M344.6 347.2h0M222.6 310.2h0M285.4 316.5h0M210.8 316.1h0M274.8 319.6h0M262.4 305.7h0M296.7 330.0h0M269.2 307.4h0M156.1 328.9h0M266.9 308.8h0M190.2 274.1h0M248.7 305.6h0M291.7 325.4h0M230.0 316.9h0M336.3 352.0h0M294.7 321.0h0M278.3 330.6h0M133.3 262.4h0M116.3 242.5h0M257.4 302.3h0M233.0 291.4h0M229.5 296.3h0M221.3 303.4h0M351.7 338.9h0M272.1 318.9h0M301.3 346.9h0M226.7 305.2h0M152.3 253.2h0M223.8 320.8h0M264.9 335.4h0M206.5 280.7h0M194.4 283.8h0M275.5 316.3h0M294.5 313.7h0M292.6 327.6h0M190.2 294.3h0M223.7 303.9h0M291.4 319.1h0M293.0 327.2h0M298.7 335.8h0M273.7 326.8h0M311.9 326.0h0M227.1 286.4h0M331.8 342.2h0M349.9 349.1h0M304.1 350.9h0M203.3 279.8h0M284.5 330.1h0M262.5 304.9h0M241.8 298.8h0M303.7 333.0h0M230.1 289.8h0M228.9 300.8h0M180.2 273.7h0M201.1 276.2h0M179.9 279.7h0M255.2 301.3h0M297.7 351.1h0M324.2 326.7h0M313.0 323.8h0M184.4 288.5h0M222.9 340.5h0M212.2 284.7h0M201.0 297.1h0M158.3 256.7h0M274.9 314.6h0M212.2 287.6h0M127.4 244.5h0M152.5 274.4h0M242.9 301.5h0M284.7 317.9h0M184.1 268.2h0M171.6 261.2h0M280.3 314.7h0M258.2 303.1h0M270.7 308.2h0M274.6 323.5h0M245.0 307.4h0M105.1 244.3h0M196.1 312.0h0M263.8 330.1h0M282.6 323.5h0M238.8 312.4h0M247.8 310.2h0M235.8 313.3h0M148.6 252.1h0M179.5 265.8h0M268.8 327.6h0M255.2 309.2h0M186.0 325.7h0M202.3 295.6h0M172.3 297.2h0M248.5 306.0h0M229.8 308.9h0M208.1 283.1h0M250.5 319.4h0M302.3 327.1h0M202.6 274.7h0M286.5 317.6h0M271.3 317.0h0M266.6 323.2h0M305.0 321.5h0M178.5 281.6h0M200.7 283.6h0M185.0 281.1h0M175.0 306.9h0M281.7 352.0h0M274.6 323.4h0M215.1 313.9h0M193.3 281.8h0M134.7 255.4h0M285.6 319.0h0M248.2 304.8h0M212.7 285.1h0M276.3 320.2h0M221.6 289.4h0M227.9 307.9h0M204.9 277.1h0M166.1 260.9h0M283.6 321.0h0M269.6 316.7h0M212.5 288.5h0M285.9 332.2h0M152.9 232.3h0M193.8 242.1h0M220.8 260.4h0M152.0 246.8h0M161.7 246.5h0M194.9 250.1h0M168.2 234.0h0M164.3 256.0h0M232.7 242.0h0M222.6 263.8h0M207.5 247.5h0M192.6 260.5h0M230.0 287.8h0M171.4 243.2h0M224.1 238.6h0M213.5 245.4h0M177.4 240.7h0M224.3 243.1h0M217.6 238.0h0M214.6 247.0h0M207.9 234.2h0M152.7 229.4h0M180.7 263.8h0M192.1 244.7h0M216.3 281.3h0M173.8 251.3h0M193.1 267.8h0M227.9 269.4h0M151.8 253.1h0M221.4 279.0h0M152.3 252.0h0M206.0 264.3h0M151.5 248.2h0M153.2 229.4h0M210.9 248.7h0M225.1 269.9h0M149.0 238.0h0M155.9 243.2h0M179.7 242.5h0M235.0 278.8h0M146.5 242.0h0M233.9 268.8h0M152.6 234.0h0M210.7 260.4h0M152.5 239.9h0M288.8 221.8h0M269.3 222.8h0M238.0 209.1h0M318.6 223.1h0M294.8 215.0h0M285.1 205.8h0M328.5 235.9h0M355.3 215.9h0M250.0 205.1h0M235.5 205.9h0M275.1 212.5h0M357.1 247.4h0M273.8 213.0h0M268.1 175.3h0M258.6 197.5h0M239.3 214.9h0M233.8 203.0h0M329.9 222.4h0M345.2 243.0h0M254.2 216.7h0M323.9 232.3h0M228.4 217.5h0M266.7 210.0h0M351.1 244.6h0M339.6 228.5h0M276.6 218.7h0M293.1 218.0h0M289.0 202.6h0M311.1 213.4h0M348.4 234.4h0M313.6 165.2h0M338.1 241.1h0M270.4 221.9h0M342.4 229.1h0M217.2 210.6h0M216.6 214.4h0M263.8 221.1h0M278.5 222.2h0M258.7 205.9h0M307.9 196.3h0M271.7 199.6h0M319.6 219.7h0M258.5 214.6h0M252.7 222.1h0M333.1 233.3h0M369.0 363.9h0M435.1 352.9h0M383.4 344.3h0M458.7 347.8h0M432.5 362.5h0M435.7 347.2h0M478.4 340.0h0M445.7 352.1h0M449.9 343.2h0M398.5 353.4h0M358.8 354.2h0M472.0 358.7h0M461.2 342.5h0M418.4 359.9h0M113.3 90.0h0M134.3 49.5h0M151.4 81.9h0M167.6 54.8h0M161.0 104.3h0M196.2 114.8h0M219.0 75.7h0M269.0 72.4h0M256.2 99.0h0M330.5 85.2h0M315.2 92.9h0M322.4 101.0h0M310.5 111.9h0M318.1 118.6h0M297.6 135.2h0M187.1 146.2h0M233.3 153.8h0M278.6 143.8h0M279.0 146.2h0M333.8 146.2h0M328.6 153.8h0M282.4 161.4h0M289.5 161.4h0M304.8 160.5h0M303.8 165.2h0M147.6 172.9h0M239.5 171.4h0M227.6 177.1h0M289.0 172.9h0M305.7 172.9h0M214.3 183.8h0M262.9 188.6h0M288.0 188.6h0M304.8 188.6h0M346.7 191.4h0M202.4 195.2h0M210.5 198.1h0M225.2 189.0h0M239.5 193.8h0M245.2 198.6h0M249.0 197.1h0M369.5 438.0h0M375.5 439.5h0M562.0 398.5h0M590.5 389.5h0M607.5 431.0h0M558.5 374.5h0M605.5 372.0h0M114.0 309.5h0M149.0 325.5h0M272.5 408.0h0M316.5 416.0h0M297.0 403.0h0M290.0 393.0h0M289.0 386.0h0M278.0 379.5h0M289.0 373.5h0M302.0 367.0h0M330.5 360.5h0M341.5 347.0h0" fill="none" stroke="#ffa500" stroke-width="2.7" stroke-linecap="round"/>
<line x1="101.0" x2="631.5" y1="334.5" y2="334.5" stroke="#d3d3d3" stroke-width="1.2"/>
<line x1="578.5" x2="578.5" y1="21.2" y2="491.2" stroke="#d3d3d3" stroke-width="1.2"/>
<path d="M101.0 233.9 L103.5 234.3 L106.0 234.4 L108.5 235.6 L111.0 235.1 L113.5 235.4 L116.0 236.5 L118.5 236.8 L121.0 237.4 L123.5 237.8 L126.0 238.7 L128.5 239.8 L131.0 240.5 L133.5 241.8 L136.0 243.1 L138.5 243.9 L141.0 244.9 L143.5 245.9 L146.0 247.6 L148.5 248.6 L151.0 250.3 L153.5 250.8 L156.0 252.1 L158.5 253.2 L161.0 254.2 L163.5 255.4 L166.0 256.5 L168.5 256.9 L171.0 258.8 L173.5 259.5 L176.0 260.7 L178.5 261.3 L181.0 262.2 L183.5 262.5 L186.0 264.1 L188.5 264.7 L191.0 266.3 L193.5 267.1 L196.0 268.6 L198.5 269.9 L201.0 271.0 L203.5 272.1 L206.0 274.1 L208.5 274.5 L211.0 275.9 L213.5 277.1 L216.0 278.8 L218.5 280.0 L221.0 281.0 L223.5 282.2 L226.0 283.7 L228.5 285.4 L231.0 286.9 L233.5 287.9 L236.0 289.3 L238.5 290.9 L241.0 291.7 L243.5 292.4 L246.0 293.3 L248.5 294.5 L251.0 295.3 L253.5 296.5 L256.0 297.7 L258.5 299.1 L261.0 300.4 L263.5 301.9 L266.0 303.3 L268.5 304.5 L271.0 305.7 L273.5 307.1 L276.0 309.0 L278.5 310.1 L281.0 311.7 L283.5 312.5 L286.0 314.4 L288.5 316.0 L291.0 316.7 L293.5 318.6 L296.0 319.5 L298.5 321.0 L301.0 322.3 L303.5 323.7 L306.0 325.1 L308.5 325.9 L311.0 327.4 L313.5 328.3 L316.0 329.3 L317.3 330.4" fill="none" stroke="#9467bd" stroke-width="1.95" stroke-linejoin="round"/>
<path d="M101.0 231.3 L103.5 231.3 L106.0 231.9 L108.5 232.2 L111.0 232.4 L113.5 233.1 L116.0 232.7 L118.5 233.0 L121.0 232.6 L123.5 233.3 L126.0 233.1 L128.5 233.4 L131.0 233.5 L133.5 233.6 L136.0 233.7 L138.5 233.7 L141.0 233.6 L143.5 234.8 L146.0 234.7 L148.5 235.5 L151.0 235.7 L153.5 235.9 L156.0 236.6 L158.5 237.7 L161.0 238.6 L163.5 239.4 L166.0 240.2 L168.5 241.2 L171.0 242.2 L173.5 243.1 L176.0 244.6 L178.5 245.4 L181.0 246.9 L183.5 247.7 L186.0 248.4 L188.5 249.2 L191.0 250.2 L193.5 251.5 L196.0 252.6 L198.5 253.9 L201.0 254.7 L203.5 255.8 L206.0 256.7 L208.5 258.1 L211.0 258.9 L213.5 260.1 L216.0 261.5 L218.5 262.6 L221.0 263.8 L223.5 264.8 L226.0 265.9 L228.5 266.9 L231.0 268.3 L233.5 269.1 L236.0 270.0 L238.5 271.5 L241.0 272.5 L243.5 274.0 L246.0 275.1 L248.5 276.2 L251.0 277.7 L253.5 278.9 L256.0 279.9 L258.5 281.2 L261.0 282.9 L263.5 284.8 L266.0 286.5 L268.5 287.9 L271.0 289.0 L273.5 290.2 L276.0 291.4 L278.5 292.6 L281.0 293.5 L283.5 295.0 L286.0 296.2 L288.5 297.0 L291.0 298.1 L293.5 299.6 L296.0 300.8 L298.5 301.8 L301.0 302.7 L303.5 304.1 L306.0 305.9 L308.5 307.6 L311.0 309.0 L313.5 310.2 L316.0 312.0 L318.5 313.6 L321.0 314.9 L323.5 316.3 L326.0 318.6 L328.5 319.8 L331.0 321.4 L333.5 322.7 L336.0 323.4 L338.5 324.2 L341.0 325.3 L343.5 326.7 L346.0 327.5 L348.5 328.4 L349.0 329.1" fill="none" stroke="#2ca02c" stroke-width="1.95" stroke-linejoin="round"/>
<path d="M101.0 227.0 L103.5 227.7 L106.0 228.4 L108.5 228.5 L111.0 229.4 L113.5 229.8 L116.0 229.8 L118.5 230.1 L121.0 229.8 L123.5 229.8 L126.0 230.1 L128.5 230.2 L131.0 230.0 L133.5 230.5 L136.0 230.8 L138.5 230.6 L141.0 230.6 L143.5 231.5 L146.0 231.8 L148.5 231.5 L151.0 232.0 L153.5 231.9 L156.0 232.2 L158.5 232.0 L161.0 232.3 L163.5 232.7 L166.0 232.5 L168.5 232.7 L171.0 232.5 L173.5 233.2 L176.0 233.3 L178.5 233.8 L181.0 233.6 L183.5 234.2 L186.0 234.2 L188.5 234.9 L191.0 235.9 L193.5 236.4 L196.0 237.0 L198.5 238.3 L201.0 239.4 L203.5 240.4 L206.0 241.7 L208.5 242.8 L211.0 244.3 L213.5 245.8 L216.0 246.2 L218.5 247.9 L221.0 248.5 L223.5 250.4 L226.0 251.3 L228.5 252.8 L231.0 253.8 L233.5 255.1 L236.0 256.1 L238.5 257.4 L241.0 258.0 L243.5 259.2 L246.0 260.4 L248.5 261.9 L251.0 263.1 L253.5 264.9 L256.0 266.1 L258.5 267.2 L261.0 268.3 L263.5 269.7 L266.0 270.6 L268.5 272.2 L271.0 273.2 L273.5 274.9 L276.0 275.7 L278.5 276.9 L281.0 277.8 L283.5 279.3 L286.0 280.5 L288.5 281.7 L291.0 282.4 L293.5 283.7 L296.0 284.6 L298.5 285.8 L301.0 287.0 L303.5 288.0 L306.0 289.3 L308.5 291.0 L311.0 292.1 L313.5 293.1 L316.0 294.4 L318.5 295.9 L321.0 297.0 L323.5 298.6 L326.0 299.9 L328.5 301.1 L331.0 302.1 L333.5 304.2 L336.0 305.4 L338.5 306.1 L341.0 307.8 L343.5 308.8 L346.0 310.5 L348.5 312.3 L351.0 313.9 L353.5 314.8 L356.0 316.3 L358.5 317.4 L361.0 319.1 L363.5 320.4 L366.0 321.9 L368.5 323.0 L371.0 324.3 L373.5 326.0 L376.0 327.4 L378.5 328.6 L381.0 329.9" fill="none" stroke="#e377c2" stroke-width="1.95" stroke-linejoin="round"/>
<path d="M101.0 219.4 L103.5 220.4 L106.0 221.5 L108.5 222.4 L111.0 222.8 L113.5 223.6 L116.0 223.9 L118.5 224.3 L121.0 225.0 L123.5 225.4 L126.0 225.1 L128.5 226.6 L131.0 227.4 L133.5 227.9 L136.0 228.0 L138.5 227.7 L141.0 228.0 L143.5 228.0 L146.0 228.1 L148.5 228.3 L151.0 229.0 L153.5 228.5 L156.0 229.2 L158.5 229.8 L161.0 229.5 L163.5 229.6 L166.0 229.5 L168.5 229.3 L171.0 229.8 L173.5 230.2 L176.0 229.3 L178.5 229.9 L181.0 230.1 L183.5 230.4 L186.0 230.4 L188.5 231.2 L191.0 231.0 L193.5 231.6 L196.0 231.5 L198.5 232.2 L201.0 232.1 L203.5 231.9 L206.0 232.4 L208.5 233.1 L211.0 233.6 L213.5 234.2 L216.0 234.3 L218.5 235.3 L221.0 235.6 L223.5 236.2 L226.0 237.2 L228.5 237.5 L231.0 238.9 L233.5 239.3 L236.0 240.6 L238.5 241.3 L241.0 242.4 L243.5 243.3 L246.0 244.4 L248.5 245.8 L251.0 246.7 L253.5 248.3 L256.0 249.0 L258.5 250.6 L261.0 251.2 L263.5 253.0 L266.0 254.0 L268.5 255.4 L271.0 256.4 L273.5 257.8 L276.0 259.1 L278.5 260.1 L281.0 261.6 L283.5 262.7 L286.0 263.7 L288.5 265.4 L291.0 266.5 L293.5 267.5 L296.0 269.3 L298.5 270.4 L301.0 271.8 L303.5 273.1 L306.0 274.4 L308.5 275.4 L311.0 276.6 L313.5 278.3 L316.0 279.2 L318.5 280.6 L321.0 281.6 L323.5 283.5 L326.0 284.7 L328.5 286.2 L331.0 287.8 L333.5 289.0 L336.0 290.3 L338.5 292.0 L341.0 293.2 L343.5 294.6 L346.0 295.8 L348.5 297.2 L351.0 298.8 L353.5 299.7 L356.0 301.1 L358.5 302.5 L361.0 303.8 L363.5 305.2 L366.0 306.8 L368.5 308.4 L371.0 309.5 L373.5 310.9 L376.0 312.3 L378.5 314.0 L381.0 314.9 L383.5 316.2 L386.0 317.6 L388.5 318.8 L391.0 319.7 L393.5 321.5 L396.0 323.0 L398.5 323.7 L401.0 325.4 L403.5 327.3 L406.0 328.6 L408.5 330.1 L411.0 331.2 L413.5 333.0 L414.3 333.4" fill="none" stroke="#ff7f0e" stroke-width="1.95" stroke-linejoin="round"/>
<path d="M101.0 207.9 L103.5 208.9 L106.0 210.0 L108.5 211.0 L111.0 212.3 L113.5 213.3 L116.0 214.0 L118.5 214.7 L121.0 215.6 L123.5 216.5 L126.0 216.8 L128.5 217.9 L131.0 218.4 L133.5 219.7 L136.0 220.1 L138.5 220.9 L141.0 221.6 L143.5 222.2 L146.0 222.1 L148.5 222.8 L151.0 223.0 L153.5 224.0 L156.0 223.9 L158.5 224.9 L161.0 225.2 L163.5 226.2 L166.0 226.4 L168.5 226.8 L171.0 227.4 L173.5 227.3 L176.0 227.6 L178.5 228.4 L181.0 228.7 L183.5 228.3 L186.0 228.5 L188.5 229.2 L191.0 229.0 L193.5 229.0 L196.0 229.1 L198.5 229.3 L201.0 229.4 L203.5 229.3 L206.0 229.4 L208.5 229.7 L211.0 229.8 L213.5 229.9 L216.0 230.2 L218.5 230.5 L221.0 230.4 L223.5 230.1 L226.0 230.9 L228.5 231.4 L231.0 230.9 L233.5 231.6 L236.0 231.6 L238.5 232.4 L241.0 231.9 L243.5 232.8 L246.0 233.5 L248.5 234.0 L251.0 234.8 L253.5 235.6 L256.0 235.6 L258.5 236.4 L261.0 238.1 L263.5 238.8 L266.0 239.3 L268.5 240.1 L271.0 241.8 L273.5 242.6 L276.0 244.2 L278.5 245.1 L281.0 246.7 L283.5 248.0 L286.0 248.7 L288.5 250.0 L291.0 251.4 L293.5 252.5 L296.0 253.6 L298.5 255.1 L301.0 256.2 L303.5 257.6 L306.0 258.5 L308.5 259.5 L311.0 261.3 L313.5 262.6 L316.0 264.1 L318.5 265.3 L321.0 266.4 L323.5 268.0 L326.0 269.1 L328.5 270.3 L331.0 271.7 L333.5 272.7 L336.0 274.6 L338.5 275.6 L341.0 276.3 L343.5 277.5 L346.0 279.1 L348.5 280.3 L351.0 281.5 L353.5 282.8 L356.0 284.2 L358.5 286.2 L361.0 287.3 L363.5 288.6 L366.0 289.7 L368.5 291.1 L371.0 292.5 L373.5 294.0 L376.0 295.1 L378.5 296.7 L381.0 298.3 L383.5 299.3 L386.0 300.5 L388.5 302.6 L391.0 303.5 L393.5 305.0 L396.0 306.7 L398.5 307.9 L401.0 309.1 L403.5 310.7 L406.0 312.0 L408.5 313.8 L411.0 315.6 L413.5 317.3 L416.0 318.5 L418.5 320.3 L421.0 321.9 L423.5 323.2 L426.0 324.7 L428.5 325.8 L431.0 327.2 L433.5 329.1 L436.0 330.7 L438.5 332.1 L441.0 333.5 L443.5 335.4 L445.4 336.3" fill="none" stroke="#17becf" stroke-width="1.95" stroke-linejoin="round"/>
<path d="M101.0 198.2 L103.5 199.5 L106.0 200.0 L108.5 200.7 L111.0 201.3 L113.5 201.8 L116.0 203.3 L118.5 204.0 L121.0 205.0 L123.5 205.4 L126.0 206.6 L128.5 207.7 L131.0 208.7 L133.5 209.3 L136.0 210.0 L138.5 211.3 L141.0 212.1 L143.5 212.8 L146.0 213.3 L148.5 214.0 L151.0 214.3 L153.5 214.7 L156.0 215.7 L158.5 216.3 L161.0 217.1 L163.5 218.0 L166.0 218.7 L168.5 219.3 L171.0 220.2 L173.5 221.1 L176.0 221.6 L178.5 222.0 L181.0 223.2 L183.5 223.6 L186.0 224.0 L188.5 223.7 L191.0 224.2 L193.5 224.6 L196.0 225.0 L198.5 225.1 L201.0 225.4 L203.5 225.6 L206.0 225.9 L208.5 226.0 L211.0 226.1 L213.5 226.4 L216.0 226.6 L218.5 226.6 L221.0 226.6 L223.5 226.8 L226.0 227.4 L228.5 227.1 L231.0 227.1 L233.5 227.4 L236.0 227.2 L238.5 227.4 L241.0 228.0 L243.5 228.3 L246.0 228.2 L248.5 228.4 L251.0 229.1 L253.5 229.0 L256.0 229.5 L258.5 229.3 L261.0 229.8 L263.5 230.1 L266.0 230.3 L268.5 230.4 L271.0 231.6 L273.5 231.8 L276.0 232.3 L278.5 233.0 L281.0 233.6 L283.5 234.3 L286.0 234.7 L288.5 235.9 L291.0 236.2 L293.5 237.0 L296.0 237.9 L298.5 239.2 L301.0 240.5 L303.5 241.3 L306.0 242.6 L308.5 243.5 L311.0 244.6 L313.5 246.6 L316.0 247.2 L318.5 248.7 L321.0 250.6 L323.5 251.8 L326.0 253.5 L328.5 254.3 L331.0 256.6 L333.5 257.8 L336.0 259.4 L338.5 260.4 L341.0 261.9 L343.5 263.4 L346.0 264.7 L348.5 266.1 L351.0 267.6 L353.5 268.7 L356.0 269.9 L358.5 271.3 L361.0 272.3 L363.5 273.6 L366.0 275.2 L368.5 276.1 L371.0 277.4 L373.5 278.5 L376.0 279.7 L378.5 280.9 L381.0 282.7 L383.5 283.9 L386.0 284.7 L388.5 286.4 L391.0 287.7 L393.5 289.1 L396.0 290.2 L398.5 291.7 L401.0 293.0 L403.5 293.8 L406.0 296.3 L408.5 297.5 L411.0 299.1 L413.5 300.8 L416.0 302.1 L418.5 303.4 L421.0 305.5 L423.5 307.2 L426.0 308.6 L428.5 310.3 L431.0 311.4 L433.5 313.8 L436.0 315.4 L438.5 316.7 L441.0 318.4 L443.5 320.2 L446.0 321.6 L448.5 323.6 L451.0 324.8 L453.5 326.5 L456.0 327.6 L458.5 329.3 L461.0 330.4 L463.5 332.0 L466.0 333.4 L468.5 334.5 L471.0 336.6 L473.5 338.2 L476.0 339.8 L477.3 340.6" fill="none" stroke="#bcbd22" stroke-width="1.95" stroke-linejoin="round"/>
<path d="M101.0 189.7 L103.5 190.0 L106.0 190.7 L108.5 191.1 L111.0 191.6 L113.5 192.0 L116.0 192.7 L118.5 193.1 L121.0 193.7 L123.5 194.2 L126.0 194.8 L128.5 195.0 L131.0 196.0 L133.5 196.9 L136.0 197.8 L138.5 198.3 L141.0 199.0 L143.5 199.9 L146.0 200.6 L148.5 201.8 L151.0 202.2 L153.5 203.3 L156.0 203.9 L158.5 204.1 L161.0 205.4 L163.5 206.3 L166.0 207.2 L168.5 208.2 L171.0 208.7 L173.5 209.7 L176.0 210.5 L178.5 211.7 L181.0 212.3 L183.5 213.2 L186.0 213.9 L188.5 214.8 L191.0 215.4 L193.5 216.8 L196.0 217.0 L198.5 217.7 L201.0 218.6 L203.5 219.3 L206.0 219.3 L208.5 220.2 L211.0 220.8 L213.5 221.1 L216.0 221.7 L218.5 222.8 L221.0 223.2 L223.5 223.8 L226.0 224.0 L228.5 224.3 L231.0 224.4 L233.5 225.1 L236.0 225.1 L238.5 225.5 L241.0 225.6 L243.5 225.4 L246.0 226.4 L248.5 225.8 L251.0 226.2 L253.5 226.1 L256.0 226.5 L258.5 226.5 L261.0 226.9 L263.5 227.3 L266.0 227.0 L268.5 227.3 L271.0 227.5 L273.5 227.6 L276.0 228.0 L278.5 228.5 L281.0 228.0 L283.5 228.9 L286.0 228.8 L288.5 229.1 L291.0 229.2 L293.5 230.0 L296.0 229.9 L298.5 230.4 L301.0 230.7 L303.5 231.4 L306.0 232.2 L308.5 233.1 L311.0 233.9 L313.5 234.1 L316.0 234.6 L318.5 236.1 L321.0 237.1 L323.5 238.2 L326.0 239.6 L328.5 240.1 L331.0 241.1 L333.5 242.7 L336.0 244.0 L338.5 245.2 L341.0 246.5 L343.5 248.0 L346.0 249.5 L348.5 250.8 L351.0 252.3 L353.5 253.5 L356.0 255.2 L358.5 256.3 L361.0 257.7 L363.5 258.9 L366.0 260.7 L368.5 261.6 L371.0 262.7 L373.5 264.5 L376.0 265.4 L378.5 267.0 L381.0 268.1 L383.5 269.2 L386.0 270.8 L388.5 271.8 L391.0 273.7 L393.5 274.2 L396.0 275.7 L398.5 276.8 L401.0 278.8 L403.5 279.7 L406.0 281.4 L408.5 283.0 L411.0 283.8 L413.5 285.7 L416.0 287.3 L418.5 288.8 L421.0 290.1 L423.5 291.7 L426.0 292.8 L428.5 294.5 L431.0 296.1 L433.5 297.8 L436.0 298.9 L438.5 300.6 L441.0 301.8 L443.5 303.7 L446.0 305.5 L448.5 306.8 L451.0 308.3 L453.5 309.4 L456.0 311.0 L458.5 312.9 L461.0 314.3 L463.5 316.4 L466.0 317.5 L468.5 318.9 L471.0 320.4 L473.5 321.9 L476.0 323.3 L478.5 324.5 L481.0 326.4 L483.5 327.9 L486.0 329.2 L488.5 331.0 L491.0 332.5 L493.5 334.2 L496.0 335.9 L498.5 337.2 L501.0 339.1 L503.5 340.5 L506.0 342.8 L508.5 344.4 L510.0 345.5" fill="none" stroke="#d62728" stroke-width="1.95" stroke-linejoin="round"/>
<circle cx="272.5" cy="251.6" r="4.0" fill="#fff" stroke="#000" stroke-width="1"/>
<path d="M284.4 245.4 L288.9 254.2 L279.9 254.2 Z" fill="#fff" stroke="#000" stroke-width="1"/>
<path d="M270.6 271.6 L274.4 277.9 L270.6 284.2 L266.8 277.9 Z" fill="#fff" stroke="#000" stroke-width="1"/>
<path d="M281.10 271.10 L282.45 274.94 L286.52 275.04 L283.29 277.51 L284.45 281.41 L281.10 279.10 L277.75 281.41 L278.91 277.51 L275.68 275.04 L279.75 274.94 Z" fill="#fff" stroke="#000" stroke-width="1"/>
<rect x="162.8" y="202.2" width="7.4" height="7.4" fill="#fff" stroke="#000" stroke-width="1"/>
<g stroke="#000"><line x1="111.61" x2="111.61" y1="491.2" y2="487.7" stroke-width="1.0"/><line x1="111.61" x2="111.61" y1="21.2" y2="24.7" stroke-width="1.0"/><line x1="132.83" x2="132.83" y1="491.2" y2="487.7" stroke-width="1.0"/><line x1="132.83" x2="132.83" y1="21.2" y2="24.7" stroke-width="1.0"/><line x1="154.05" x2="154.05" y1="491.2" y2="484.7" stroke-width="1.2"/><line x1="154.05" x2="154.05" y1="21.2" y2="27.7" stroke-width="1.2"/><line x1="175.27" x2="175.27" y1="491.2" y2="487.7" stroke-width="1.0"/><line x1="175.27" x2="175.27" y1="21.2" y2="24.7" stroke-width="1.0"/><line x1="196.49" x2="196.49" y1="491.2" y2="487.7" stroke-width="1.0"/><line x1="196.49" x2="196.49" y1="21.2" y2="24.7" stroke-width="1.0"/><line x1="217.71" x2="217.71" y1="491.2" y2="487.7" stroke-width="1.0"/><line x1="217.71" x2="217.71" y1="21.2" y2="24.7" stroke-width="1.0"/><line x1="238.93" x2="238.93" y1="491.2" y2="487.7" stroke-width="1.0"/><line x1="238.93" x2="238.93" y1="21.2" y2="24.7" stroke-width="1.0"/><line x1="260.15" x2="260.15" y1="491.2" y2="484.7" stroke-width="1.2"/><line x1="260.15" x2="260.15" y1="21.2" y2="27.7" stroke-width="1.2"/><line x1="281.37" x2="281.37" y1="491.2" y2="487.7" stroke-width="1.0"/><line x1="281.37" x2="281.37" y1="21.2" y2="24.7" stroke-width="1.0"/><line x1="302.59" x2="302.59" y1="491.2" y2="487.7" stroke-width="1.0"/><line x1="302.59" x2="302.59" y1="21.2" y2="24.7" stroke-width="1.0"/><line x1="323.81" x2="323.81" y1="491.2" y2="487.7" stroke-width="1.0"/><line x1="323.81" x2="323.81" y1="21.2" y2="24.7" stroke-width="1.0"/><line x1="345.03" x2="345.03" y1="491.2" y2="487.7" stroke-width="1.0"/><line x1="345.03" x2="345.03" y1="21.2" y2="24.7" stroke-width="1.0"/><line x1="366.25" x2="366.25" y1="491.2" y2="484.7" stroke-width="1.2"/><line x1="366.25" x2="366.25" y1="21.2" y2="27.7" stroke-width="1.2"/><line x1="387.47" x2="387.47" y1="491.2" y2="487.7" stroke-width="1.0"/><line x1="387.47" x2="387.47" y1="21.2" y2="24.7" stroke-width="1.0"/><line x1="408.69" x2="408.69" y1="491.2" y2="487.7" stroke-width="1.0"/><line x1="408.69" x2="408.69" y1="21.2" y2="24.7" stroke-width="1.0"/><line x1="429.91" x2="429.91" y1="491.2" y2="487.7" stroke-width="1.0"/><line x1="429.91" x2="429.91" y1="21.2" y2="24.7" stroke-width="1.0"/><line x1="451.13" x2="451.13" y1="491.2" y2="487.7" stroke-width="1.0"/><line x1="451.13" x2="451.13" y1="21.2" y2="24.7" stroke-width="1.0"/><line x1="472.35" x2="472.35" y1="491.2" y2="484.7" stroke-width="1.2"/><line x1="472.35" x2="472.35" y1="21.2" y2="27.7" stroke-width="1.2"/><line x1="493.57" x2="493.57" y1="491.2" y2="487.7" stroke-width="1.0"/><line x1="493.57" x2="493.57" y1="21.2" y2="24.7" stroke-width="1.0"/><line x1="514.79" x2="514.79" y1="491.2" y2="487.7" stroke-width="1.0"/><line x1="514.79" x2="514.79" y1="21.2" y2="24.7" stroke-width="1.0"/><line x1="536.01" x2="536.01" y1="491.2" y2="487.7" stroke-width="1.0"/><line x1="536.01" x2="536.01" y1="21.2" y2="24.7" stroke-width="1.0"/><line x1="557.23" x2="557.23" y1="491.2" y2="487.7" stroke-width="1.0"/><line x1="557.23" x2="557.23" y1="21.2" y2="24.7" stroke-width="1.0"/><line x1="578.45" x2="578.45" y1="491.2" y2="484.7" stroke-width="1.2"/><line x1="578.45" x2="578.45" y1="21.2" y2="27.7" stroke-width="1.2"/><line x1="599.67" x2="599.67" y1="491.2" y2="487.7" stroke-width="1.0"/><line x1="599.67" x2="599.67" y1="21.2" y2="24.7" stroke-width="1.0"/><line x1="620.89" x2="620.89" y1="491.2" y2="487.7" stroke-width="1.0"/><line x1="620.89" x2="620.89" y1="21.2" y2="24.7" stroke-width="1.0"/><line y1="491.20" y2="491.20" x1="101.0" x2="107.5" stroke-width="1.2"/><line y1="491.20" y2="491.20" x1="631.5" x2="625.0" stroke-width="1.2"/><line y1="475.53" y2="475.53" x1="101.0" x2="104.5" stroke-width="1.0"/><line y1="475.53" y2="475.53" x1="631.5" x2="628.0" stroke-width="1.0"/><line y1="459.87" y2="459.87" x1="101.0" x2="104.5" stroke-width="1.0"/><line y1="459.87" y2="459.87" x1="631.5" x2="628.0" stroke-width="1.0"/><line y1="444.20" y2="444.20" x1="101.0" x2="104.5" stroke-width="1.0"/><line y1="444.20" y2="444.20" x1="631.5" x2="628.0" stroke-width="1.0"/><line y1="428.53" y2="428.53" x1="101.0" x2="104.5" stroke-width="1.0"/><line y1="428.53" y2="428.53" x1="631.5" x2="628.0" stroke-width="1.0"/><line y1="412.87" y2="412.87" x1="101.0" x2="107.5" stroke-width="1.2"/><line y1="412.87" y2="412.87" x1="631.5" x2="625.0" stroke-width="1.2"/><line y1="397.20" y2="397.20" x1="101.0" x2="104.5" stroke-width="1.0"/><line y1="397.20" y2="397.20" x1="631.5" x2="628.0" stroke-width="1.0"/><line y1="381.53" y2="381.53" x1="101.0" x2="104.5" stroke-width="1.0"/><line y1="381.53" y2="381.53" x1="631.5" x2="628.0" stroke-width="1.0"/><line y1="365.87" y2="365.87" x1="101.0" x2="104.5" stroke-width="1.0"/><line y1="365.87" y2="365.87" x1="631.5" x2="628.0" stroke-width="1.0"/><line y1="350.20" y2="350.20" x1="101.0" x2="104.5" stroke-width="1.0"/><line y1="350.20" y2="350.20" x1="631.5" x2="628.0" stroke-width="1.0"/><line y1="334.53" y2="334.53" x1="101.0" x2="107.5" stroke-width="1.2"/><line y1="334.53" y2="334.53" x1="631.5" x2="625.0" stroke-width="1.2"/><line y1="318.87" y2="318.87" x1="101.0" x2="104.5" stroke-width="1.0"/><line y1="318.87" y2="318.87" x1="631.5" x2="628.0" stroke-width="1.0"/><line y1="303.20" y2="303.20" x1="101.0" x2="104.5" stroke-width="1.0"/><line y1="303.20" y2="303.20" x1="631.5" x2="628.0" stroke-width="1.0"/><line y1="287.53" y2="287.53" x1="101.0" x2="104.5" stroke-width="1.0"/><line y1="287.53" y2="287.53" x1="631.5" x2="628.0" stroke-width="1.0"/><line y1="271.87" y2="271.87" x1="101.0" x2="104.5" stroke-width="1.0"/><line y1="271.87" y2="271.87" x1="631.5" x2="628.0" stroke-width="1.0"/><line y1="256.20" y2="256.20" x1="101.0" x2="107.5" stroke-width="1.2"/><line y1="256.20" y2="256.20" x1="631.5" x2="625.0" stroke-width="1.2"/><line y1="240.53" y2="240.53" x1="101.0" x2="104.5" stroke-width="1.0"/><line y1="240.53" y2="240.53" x1="631.5" x2="628.0" stroke-width="1.0"/><line y1="224.87" y2="224.87" x1="101.0" x2="104.5" stroke-width="1.0"/><line y1="224.87" y2="224.87" x1="631.5" x2="628.0" stroke-width="1.0"/><line y1="209.20" y2="209.20" x1="101.0" x2="104.5" stroke-width="1.0"/><line y1="209.20" y2="209.20" x1="631.5" x2="628.0" stroke-width="1.0"/><line y1="193.53" y2="193.53" x1="101.0" x2="104.5" stroke-width="1.0"/><line y1="193.53" y2="193.53" x1="631.5" x2="628.0" stroke-width="1.0"/><line y1="177.87" y2="177.87" x1="101.0" x2="107.5" stroke-width="1.2"/><line y1="177.87" y2="177.87" x1="631.5" x2="625.0" stroke-width="1.2"/><line y1="162.20" y2="162.20" x1="101.0" x2="104.5" stroke-width="1.0"/><line y1="162.20" y2="162.20" x1="631.5" x2="628.0" stroke-width="1.0"/><line y1="146.53" y2="146.53" x1="101.0" x2="104.5" stroke-width="1.0"/><line y1="146.53" y2="146.53" x1="631.5" x2="628.0" stroke-width="1.0"/><line y1="130.87" y2="130.87" x1="101.0" x2="104.5" stroke-width="1.0"/><line y1="130.87" y2="130.87" x1="631.5" x2="628.0" stroke-width="1.0"/><line y1="115.20" y2="115.20" x1="101.0" x2="104.5" stroke-width="1.0"/><line y1="115.20" y2="115.20" x1="631.5" x2="628.0" stroke-width="1.0"/><line y1="99.53" y2="99.53" x1="101.0" x2="107.5" stroke-width="1.2"/><line y1="99.53" y2="99.53" x1="631.5" x2="625.0" stroke-width="1.2"/><line y1="83.87" y2="83.87" x1="101.0" x2="104.5" stroke-width="1.0"/><line y1="83.87" y2="83.87" x1="631.5" x2="628.0" stroke-width="1.0"/><line y1="68.20" y2="68.20" x1="101.0" x2="104.5" stroke-width="1.0"/><line y1="68.20" y2="68.20" x1="631.5" x2="628.0" stroke-width="1.0"/><line y1="52.53" y2="52.53" x1="101.0" x2="104.5" stroke-width="1.0"/><line y1="52.53" y2="52.53" x1="631.5" x2="628.0" stroke-width="1.0"/><line y1="36.87" y2="36.87" x1="101.0" x2="104.5" stroke-width="1.0"/><line y1="36.87" y2="36.87" x1="631.5" x2="628.0" stroke-width="1.0"/><line y1="21.20" y2="21.20" x1="101.0" x2="107.5" stroke-width="1.2"/><line y1="21.20" y2="21.20" x1="631.5" x2="625.0" stroke-width="1.2"/></g>
<rect x="101.0" y="21.2" width="530.5" height="470.0" fill="none" stroke="#000" stroke-width="1.75"/>
<line x1="140.0" x2="154.7" y1="508.7" y2="508.7" stroke="#000" stroke-width="1.05"/>
<text x="157.8" y="515.5" font-size="24.4" text-anchor="start" textLength="12.0" lengthAdjust="spacingAndGlyphs" >4</text>
<line x1="246.0" x2="260.8" y1="508.7" y2="508.7" stroke="#000" stroke-width="1.05"/>
<text x="263.8" y="515.5" font-size="24.4" text-anchor="start" textLength="12.0" lengthAdjust="spacingAndGlyphs" >3</text>
<line x1="352.1" x2="366.9" y1="508.7" y2="508.7" stroke="#000" stroke-width="1.05"/>
<text x="369.9" y="515.5" font-size="24.4" text-anchor="start" textLength="12.0" lengthAdjust="spacingAndGlyphs" >2</text>
<line x1="458.2" x2="472.9" y1="508.7" y2="508.7" stroke="#000" stroke-width="1.05"/>
<text x="476.0" y="515.5" font-size="24.4" text-anchor="start" textLength="12.0" lengthAdjust="spacingAndGlyphs" >1</text>
<text x="578.5" y="515.5" font-size="24.4" text-anchor="middle" >0</text>
<text x="94.4" y="29.6" font-size="24.4" text-anchor="end" textLength="30.9" lengthAdjust="spacingAndGlyphs" >2.0</text>
<text x="94.4" y="107.9" font-size="24.4" text-anchor="end" textLength="30.9" lengthAdjust="spacingAndGlyphs" >1.5</text>
<text x="94.4" y="186.3" font-size="24.4" text-anchor="end" textLength="30.9" lengthAdjust="spacingAndGlyphs" >1.0</text>
<text x="94.4" y="264.6" font-size="24.4" text-anchor="end" textLength="30.9" lengthAdjust="spacingAndGlyphs" >0.5</text>
<text x="94.4" y="342.9" font-size="24.4" text-anchor="end" textLength="30.9" lengthAdjust="spacingAndGlyphs" >0.0</text>
<text x="94.4" y="421.3" font-size="24.4" text-anchor="end" textLength="30.9" lengthAdjust="spacingAndGlyphs" >0.5</text>
<line x1="46.8" x2="61.4" y1="414.5" y2="414.5" stroke="#000" stroke-width="1.05"/>
<text x="94.4" y="499.6" font-size="24.4" text-anchor="end" textLength="30.9" lengthAdjust="spacingAndGlyphs" >1.0</text>
<line x1="46.8" x2="61.4" y1="492.8" y2="492.8" stroke="#000" stroke-width="1.05"/>
<g transform="translate(365.8,544.9)" font-size="25.2">
<path d="M-27.6 -18.6 H-31.2 V5.6 H-27.6" fill="none" stroke="#000" stroke-width="1.1"/>
<text x="-26.5" y="0" textLength="23.2" lengthAdjust="spacingAndGlyphs">Fe</text>
<line x1="-0.9" y1="5.8" x2="7.7" y2="-18.6" stroke="#000" stroke-width="1.05"/>
<text x="9.5" y="0" textLength="18.0" lengthAdjust="spacingAndGlyphs">H</text>
<path d="M27.5 -18.6 H31.1 V5.6 H27.5" fill="none" stroke="#000" stroke-width="1.1"/>
</g>
<g transform="translate(31.9,256.2) rotate(-90)" font-size="25.2">
<path d="M-35.3 -18.6 H-38.9 V5.6 H-35.3" fill="none" stroke="#000" stroke-width="1.1"/>
<text x="-33.6" y="0" textLength="27.6" lengthAdjust="spacingAndGlyphs">Mg</text>
<line x1="-5.1" y1="5.8" x2="5.8" y2="-18.6" stroke="#000" stroke-width="1.05"/>
<text x="7.0" y="0" textLength="27.4" lengthAdjust="spacingAndGlyphs">Fe</text>
<path d="M35.4 -18.6 H39.0 V5.6 H35.4" fill="none" stroke="#000" stroke-width="1.1"/>
</g>
<text x="111.8" y="52.2" font-size="24" text-anchor="start" textLength="61.3" lengthAdjust="spacingAndGlyphs" >case 4</text>
<rect x="430" y="30.8" width="191.2" height="203.9" rx="4" ry="4" fill="#fff" fill-opacity="0.8" stroke="#ccc" stroke-width="1.2"/>
<line x1="437.4" x2="478" y1="47.9" y2="47.9" stroke="#9467bd" stroke-width="1.7"/>
<g class="lg" font-size="20.8"><text x="493.8" y="53.0" font-style="italic" textLength="19.8" lengthAdjust="spacingAndGlyphs">M</text><text x="510.7" y="60.5" font-size="17.5">*</text><line x1="521.5" y1="56.5" x2="528.6" y2="37.5" stroke="#000" stroke-width="0.95"/><text x="528.4" y="53.0" font-style="italic" textLength="20.4" lengthAdjust="spacingAndGlyphs">M</text><circle cx="553.5" cy="52.3" r="5.0" fill="none" stroke="#000" stroke-width="0.85"/><circle cx="553.5" cy="52.3" r="1.1"/><path d="M567.2 45.2H580M567.2 49.0H580" stroke="#000" stroke-width="0.85"/><text x="586.2" y="53.0" font-size="19.9" textLength="18.6" lengthAdjust="spacingAndGlyphs">10</text><text x="606.2" y="46.0" font-size="14.4">3</text></g>
<line x1="437.4" x2="478" y1="72.5" y2="72.5" stroke="#2ca02c" stroke-width="1.7"/>
<g class="lg" font-size="20.8"><text x="493.8" y="77.6" font-style="italic" textLength="19.8" lengthAdjust="spacingAndGlyphs">M</text><text x="510.7" y="85.1" font-size="17.5">*</text><line x1="521.5" y1="81.1" x2="528.6" y2="62.1" stroke="#000" stroke-width="0.95"/><text x="528.4" y="77.6" font-style="italic" textLength="20.4" lengthAdjust="spacingAndGlyphs">M</text><circle cx="553.5" cy="76.9" r="5.0" fill="none" stroke="#000" stroke-width="0.85"/><circle cx="553.5" cy="76.9" r="1.1"/><path d="M567.2 69.8H580M567.2 73.6H580" stroke="#000" stroke-width="0.85"/><text x="586.2" y="77.6" font-size="19.9" textLength="18.6" lengthAdjust="spacingAndGlyphs">10</text><text x="606.2" y="70.6" font-size="14.4">4</text></g>
<line x1="437.4" x2="478" y1="97.1" y2="97.1" stroke="#e377c2" stroke-width="1.7"/>
<g class="lg" font-size="20.8"><text x="493.8" y="102.2" font-style="italic" textLength="19.8" lengthAdjust="spacingAndGlyphs">M</text><text x="510.7" y="109.7" font-size="17.5">*</text><line x1="521.5" y1="105.7" x2="528.6" y2="86.7" stroke="#000" stroke-width="0.95"/><text x="528.4" y="102.2" font-style="italic" textLength="20.4" lengthAdjust="spacingAndGlyphs">M</text><circle cx="553.5" cy="101.5" r="5.0" fill="none" stroke="#000" stroke-width="0.85"/><circle cx="553.5" cy="101.5" r="1.1"/><path d="M567.2 94.4H580M567.2 98.2H580" stroke="#000" stroke-width="0.85"/><text x="586.2" y="102.2" font-size="19.9" textLength="18.6" lengthAdjust="spacingAndGlyphs">10</text><text x="606.2" y="95.2" font-size="14.4">5</text></g>
<line x1="437.4" x2="478" y1="121.6" y2="121.6" stroke="#ff7f0e" stroke-width="1.7"/>
<g class="lg" font-size="20.8"><text x="493.8" y="126.7" font-style="italic" textLength="19.8" lengthAdjust="spacingAndGlyphs">M</text><text x="510.7" y="134.2" font-size="17.5">*</text><line x1="521.5" y1="130.2" x2="528.6" y2="111.2" stroke="#000" stroke-width="0.95"/><text x="528.4" y="126.7" font-style="italic" textLength="20.4" lengthAdjust="spacingAndGlyphs">M</text><circle cx="553.5" cy="126.0" r="5.0" fill="none" stroke="#000" stroke-width="0.85"/><circle cx="553.5" cy="126.0" r="1.1"/><path d="M567.2 118.9H580M567.2 122.7H580" stroke="#000" stroke-width="0.85"/><text x="586.2" y="126.7" font-size="19.9" textLength="18.6" lengthAdjust="spacingAndGlyphs">10</text><text x="606.2" y="119.7" font-size="14.4">6</text></g>
<line x1="437.4" x2="478" y1="146.2" y2="146.2" stroke="#17becf" stroke-width="1.7"/>
<g class="lg" font-size="20.8"><text x="493.8" y="151.3" font-style="italic" textLength="19.8" lengthAdjust="spacingAndGlyphs">M</text><text x="510.7" y="158.8" font-size="17.5">*</text><line x1="521.5" y1="154.8" x2="528.6" y2="135.8" stroke="#000" stroke-width="0.95"/><text x="528.4" y="151.3" font-style="italic" textLength="20.4" lengthAdjust="spacingAndGlyphs">M</text><circle cx="553.5" cy="150.6" r="5.0" fill="none" stroke="#000" stroke-width="0.85"/><circle cx="553.5" cy="150.6" r="1.1"/><path d="M567.2 143.5H580M567.2 147.3H580" stroke="#000" stroke-width="0.85"/><text x="586.2" y="151.3" font-size="19.9" textLength="18.6" lengthAdjust="spacingAndGlyphs">10</text><text x="606.2" y="144.3" font-size="14.4">7</text></g>
<line x1="437.4" x2="478" y1="170.8" y2="170.8" stroke="#bcbd22" stroke-width="1.7"/>
<g class="lg" font-size="20.8"><text x="493.8" y="175.9" font-style="italic" textLength="19.8" lengthAdjust="spacingAndGlyphs">M</text><text x="510.7" y="183.4" font-size="17.5">*</text><line x1="521.5" y1="179.4" x2="528.6" y2="160.4" stroke="#000" stroke-width="0.95"/><text x="528.4" y="175.9" font-style="italic" textLength="20.4" lengthAdjust="spacingAndGlyphs">M</text><circle cx="553.5" cy="175.2" r="5.0" fill="none" stroke="#000" stroke-width="0.85"/><circle cx="553.5" cy="175.2" r="1.1"/><path d="M567.2 168.1H580M567.2 171.9H580" stroke="#000" stroke-width="0.85"/><text x="586.2" y="175.9" font-size="19.9" textLength="18.6" lengthAdjust="spacingAndGlyphs">10</text><text x="606.2" y="168.9" font-size="14.4">8</text></g>
<line x1="437.4" x2="478" y1="195.4" y2="195.4" stroke="#d62728" stroke-width="1.7"/>
<g class="lg" font-size="20.8"><text x="493.8" y="200.5" font-style="italic" textLength="19.8" lengthAdjust="spacingAndGlyphs">M</text><text x="510.7" y="208.0" font-size="17.5">*</text><line x1="521.5" y1="204.0" x2="528.6" y2="185.0" stroke="#000" stroke-width="0.95"/><text x="528.4" y="200.5" font-style="italic" textLength="20.4" lengthAdjust="spacingAndGlyphs">M</text><circle cx="553.5" cy="199.8" r="5.0" fill="none" stroke="#000" stroke-width="0.85"/><circle cx="553.5" cy="199.8" r="1.1"/><path d="M567.2 192.7H580M567.2 196.5H580" stroke="#000" stroke-width="0.85"/><text x="586.2" y="200.5" font-size="19.9" textLength="18.6" lengthAdjust="spacingAndGlyphs">10</text><text x="606.2" y="193.5" font-size="14.4">9</text></g>
<text x="494" y="223.0" font-size="19.6" text-anchor="start" textLength="91" lengthAdjust="spacingAndGlyphs" >Milky Way</text>
<circle cx="457.5" cy="218.2" r="1.3" fill="#ffa500"/>
<defs><linearGradient id="cb" x1="0" y1="1" x2="0" y2="0">
<stop offset="0.0000" stop-color="#ffffff"/>
<stop offset="0.0417" stop-color="#dfeff4"/>
<stop offset="0.0833" stop-color="#bfdfea"/>
<stop offset="0.1250" stop-color="#9fcfdf"/>
<stop offset="0.1667" stop-color="#80bfd4"/>
<stop offset="0.2083" stop-color="#60afca"/>
<stop offset="0.2500" stop-color="#409fbf"/>
<stop offset="0.2917" stop-color="#208fb5"/>
<stop offset="0.3333" stop-color="#0080aa"/>
<stop offset="0.3750" stop-color="#00709f"/>
<stop offset="0.4167" stop-color="#006095"/>
<stop offset="0.4583" stop-color="#00508a"/>
<stop offset="0.5000" stop-color="#004080"/>
<stop offset="0.5417" stop-color="#003075"/>
<stop offset="0.5833" stop-color="#00206a"/>
<stop offset="0.6250" stop-color="#001060"/>
<stop offset="0.6667" stop-color="#000055"/>
<stop offset="0.7083" stop-color="#00104a"/>
<stop offset="0.7500" stop-color="#002040"/>
<stop offset="0.7917" stop-color="#003035"/>
<stop offset="0.8333" stop-color="#00402a"/>
<stop offset="0.8750" stop-color="#005020"/>
<stop offset="0.9167" stop-color="#006015"/>
<stop offset="0.9583" stop-color="#00700b"/>
<stop offset="1.0000" stop-color="#008000"/>
</linearGradient></defs>
<rect x="637.4" y="21.2" width="15.800000000000068" height="470.0" fill="url(#cb)" stroke="#000" stroke-width="1.3"/>
<text class="cbl" x="665.6" y="497.3" font-size="16.8" textLength="16.8" lengthAdjust="spacingAndGlyphs">10</text>
<text class="cbl" x="684.0" y="491.5" font-size="12" textLength="17.4" lengthAdjust="spacingAndGlyphs">−6</text>
<text class="cbl" x="665.6" y="419.0" font-size="16.8" textLength="16.8" lengthAdjust="spacingAndGlyphs">10</text>
<text class="cbl" x="684.0" y="413.2" font-size="12" textLength="17.4" lengthAdjust="spacingAndGlyphs">−5</text>
<text class="cbl" x="665.6" y="340.6" font-size="16.8" textLength="16.8" lengthAdjust="spacingAndGlyphs">10</text>
<text class="cbl" x="684.0" y="334.8" font-size="12" textLength="17.4" lengthAdjust="spacingAndGlyphs">−4</text>
<text class="cbl" x="665.6" y="262.3" font-size="16.8" textLength="16.8" lengthAdjust="spacingAndGlyphs">10</text>
<text class="cbl" x="684.0" y="256.5" font-size="12" textLength="17.4" lengthAdjust="spacingAndGlyphs">−3</text>
<text class="cbl" x="665.6" y="184.0" font-size="16.8" textLength="16.8" lengthAdjust="spacingAndGlyphs">10</text>
<text class="cbl" x="684.0" y="178.2" font-size="12" textLength="17.4" lengthAdjust="spacingAndGlyphs">−2</text>
<text class="cbl" x="665.6" y="105.6" font-size="16.8" textLength="16.8" lengthAdjust="spacingAndGlyphs">10</text>
<text class="cbl" x="684.0" y="99.8" font-size="12" textLength="17.4" lengthAdjust="spacingAndGlyphs">−1</text>
<text class="cbl" x="665.6" y="27.3" font-size="16.8" textLength="16.8" lengthAdjust="spacingAndGlyphs">10</text>
<text class="cbl" x="683.8" y="21.5" font-size="12.2">0</text>
<g stroke="#000"><line x1="653.2" x2="659.8000000000001" y1="491.20" y2="491.20" stroke-width="1.3"/><line x1="653.2" x2="656.8000000000001" y1="467.62" y2="467.62" stroke-width="1.1"/><line x1="653.2" x2="656.8000000000001" y1="453.83" y2="453.83" stroke-width="1.1"/><line x1="653.2" x2="656.8000000000001" y1="444.04" y2="444.04" stroke-width="1.1"/><line x1="653.2" x2="656.8000000000001" y1="436.45" y2="436.45" stroke-width="1.1"/><line x1="653.2" x2="656.8000000000001" y1="430.24" y2="430.24" stroke-width="1.1"/><line x1="653.2" x2="656.8000000000001" y1="425.00" y2="425.00" stroke-width="1.1"/><line x1="653.2" x2="656.8000000000001" y1="420.46" y2="420.46" stroke-width="1.1"/><line x1="653.2" x2="656.8000000000001" y1="416.45" y2="416.45" stroke-width="1.1"/><line x1="653.2" x2="659.8000000000001" y1="412.87" y2="412.87" stroke-width="1.3"/><line x1="653.2" x2="656.8000000000001" y1="389.29" y2="389.29" stroke-width="1.1"/><line x1="653.2" x2="656.8000000000001" y1="375.49" y2="375.49" stroke-width="1.1"/><line x1="653.2" x2="656.8000000000001" y1="365.71" y2="365.71" stroke-width="1.1"/><line x1="653.2" x2="656.8000000000001" y1="358.11" y2="358.11" stroke-width="1.1"/><line x1="653.2" x2="656.8000000000001" y1="351.91" y2="351.91" stroke-width="1.1"/><line x1="653.2" x2="656.8000000000001" y1="346.67" y2="346.67" stroke-width="1.1"/><line x1="653.2" x2="656.8000000000001" y1="342.12" y2="342.12" stroke-width="1.1"/><line x1="653.2" x2="656.8000000000001" y1="338.12" y2="338.12" stroke-width="1.1"/><line x1="653.2" x2="659.8000000000001" y1="334.53" y2="334.53" stroke-width="1.3"/><line x1="653.2" x2="656.8000000000001" y1="310.95" y2="310.95" stroke-width="1.1"/><line x1="653.2" x2="656.8000000000001" y1="297.16" y2="297.16" stroke-width="1.1"/><line x1="653.2" x2="656.8000000000001" y1="287.37" y2="287.37" stroke-width="1.1"/><line x1="653.2" x2="656.8000000000001" y1="279.78" y2="279.78" stroke-width="1.1"/><line x1="653.2" x2="656.8000000000001" y1="273.58" y2="273.58" stroke-width="1.1"/><line x1="653.2" x2="656.8000000000001" y1="268.33" y2="268.33" stroke-width="1.1"/><line x1="653.2" x2="656.8000000000001" y1="263.79" y2="263.79" stroke-width="1.1"/><line x1="653.2" x2="656.8000000000001" y1="259.78" y2="259.78" stroke-width="1.1"/><line x1="653.2" x2="659.8000000000001" y1="256.20" y2="256.20" stroke-width="1.3"/><line x1="653.2" x2="656.8000000000001" y1="232.62" y2="232.62" stroke-width="1.1"/><line x1="653.2" x2="656.8000000000001" y1="218.83" y2="218.83" stroke-width="1.1"/><line x1="653.2" x2="656.8000000000001" y1="209.04" y2="209.04" stroke-width="1.1"/><line x1="653.2" x2="656.8000000000001" y1="201.45" y2="201.45" stroke-width="1.1"/><line x1="653.2" x2="656.8000000000001" y1="195.24" y2="195.24" stroke-width="1.1"/><line x1="653.2" x2="656.8000000000001" y1="190.00" y2="190.00" stroke-width="1.1"/><line x1="653.2" x2="656.8000000000001" y1="185.46" y2="185.46" stroke-width="1.1"/><line x1="653.2" x2="656.8000000000001" y1="181.45" y2="181.45" stroke-width="1.1"/><line x1="653.2" x2="659.8000000000001" y1="177.87" y2="177.87" stroke-width="1.3"/><line x1="653.2" x2="656.8000000000001" y1="154.29" y2="154.29" stroke-width="1.1"/><line x1="653.2" x2="656.8000000000001" y1="140.49" y2="140.49" stroke-width="1.1"/><line x1="653.2" x2="656.8000000000001" y1="130.71" y2="130.71" stroke-width="1.1"/><line x1="653.2" x2="656.8000000000001" y1="123.11" y2="123.11" stroke-width="1.1"/><line x1="653.2" x2="656.8000000000001" y1="116.91" y2="116.91" stroke-width="1.1"/><line x1="653.2" x2="656.8000000000001" y1="111.67" y2="111.67" stroke-width="1.1"/><line x1="653.2" x2="656.8000000000001" y1="107.12" y2="107.12" stroke-width="1.1"/><line x1="653.2" x2="656.8000000000001" y1="103.12" y2="103.12" stroke-width="1.1"/><line x1="653.2" x2="659.8000000000001" y1="99.53" y2="99.53" stroke-width="1.3"/><line x1="653.2" x2="656.8000000000001" y1="75.95" y2="75.95" stroke-width="1.1"/><line x1="653.2" x2="656.8000000000001" y1="62.16" y2="62.16" stroke-width="1.1"/><line x1="653.2" x2="656.8000000000001" y1="52.37" y2="52.37" stroke-width="1.1"/><line x1="653.2" x2="656.8000000000001" y1="44.78" y2="44.78" stroke-width="1.1"/><line x1="653.2" x2="656.8000000000001" y1="38.58" y2="38.58" stroke-width="1.1"/><line x1="653.2" x2="656.8000000000001" y1="33.33" y2="33.33" stroke-width="1.1"/><line x1="653.2" x2="656.8000000000001" y1="28.79" y2="28.79" stroke-width="1.1"/><line x1="653.2" x2="656.8000000000001" y1="24.78" y2="24.78" stroke-width="1.1"/><line x1="653.2" x2="659.8000000000001" y1="21.20" y2="21.20" stroke-width="1.3"/></g>
</svg>
</body></html>
